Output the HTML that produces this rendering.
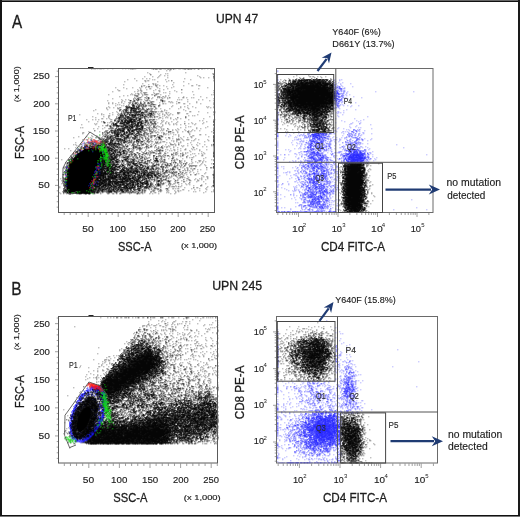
<!DOCTYPE html>
<html><head><meta charset="utf-8"><style>
html,body{margin:0;padding:0;background:#fff;overflow:hidden}
svg{display:block;will-change:transform}
text{font-family:"Liberation Sans", sans-serif}
.b{stroke:#222;stroke-width:0.3px}
.m{stroke:#222;stroke-width:0.15px}
</style></head><body>
<svg width="520" height="517" viewBox="0 0 520 517">
<rect x="0" y="0" width="520" height="1" fill="#666"/>
<rect x="0" y="1" width="520" height="1" fill="#111"/>
<rect x="0" y="0" width="2" height="517" fill="#151515"/>
<rect x="518" y="0" width="2" height="517" fill="#1a1a1a"/>
<rect x="0" y="515" width="520" height="1" fill="#111"/>
<rect x="0" y="516" width="520" height="1" fill="#777"/>
<text class="b" x="12.00" y="27.92" font-size="18.40" fill="#1a1a1a" textLength="10.16" lengthAdjust="spacingAndGlyphs">A</text>
<text class="b" x="11.30" y="294.66" font-size="18.40" fill="#1a1a1a" textLength="10.30" lengthAdjust="spacingAndGlyphs">B</text>
<text class="b" x="215.98" y="23.42" font-size="13.10" fill="#1a1a1a" textLength="42.20" lengthAdjust="spacingAndGlyphs">UPN 47</text>
<text class="b" x="212.14" y="290.08" font-size="13.10" fill="#1a1a1a" textLength="49.96" lengthAdjust="spacingAndGlyphs">UPN 245</text>
<path d="M64.20 212.5v2.5M70.20 212.5v2.5M76.20 212.5v2.5M82.20 212.5v2.5M88.20 212.5v4.5M94.20 212.5v2.5M100.20 212.5v2.5M106.20 212.5v2.5M112.20 212.5v2.5M118.20 212.5v4.5M124.20 212.5v2.5M130.20 212.5v2.5M136.20 212.5v2.5M142.20 212.5v2.5M148.20 212.5v4.5M154.20 212.5v2.5M160.20 212.5v2.5M166.20 212.5v2.5M172.20 212.5v2.5M178.20 212.5v4.5M184.20 212.5v2.5M190.20 212.5v2.5M196.20 212.5v2.5M202.20 212.5v2.5M208.20 212.5v4.5M58.5 207.16h-1.8M58.5 201.72h-1.8M58.5 196.28h-1.8M58.5 190.84h-1.8M58.5 185.40h-3.5M58.5 179.96h-1.8M58.5 174.52h-1.8M58.5 169.08h-1.8M58.5 163.64h-1.8M58.5 158.20h-3.5M58.5 152.76h-1.8M58.5 147.32h-1.8M58.5 141.88h-1.8M58.5 136.44h-1.8M58.5 131.00h-3.5M58.5 125.56h-1.8M58.5 120.12h-1.8M58.5 114.68h-1.8M58.5 109.24h-1.8M58.5 103.80h-3.5M58.5 98.36h-1.8M58.5 92.92h-1.8M58.5 87.48h-1.8M58.5 82.04h-1.8M58.5 76.60h-3.5M58.5 71.16h-1.8" stroke="#888" stroke-width="0.8" fill="none"/>
<path d="M64.32 463.5v2.5M70.44 463.5v2.5M76.56 463.5v2.5M82.68 463.5v2.5M88.80 463.5v4.5M94.92 463.5v2.5M101.04 463.5v2.5M107.16 463.5v2.5M113.28 463.5v2.5M119.40 463.5v4.5M125.52 463.5v2.5M131.64 463.5v2.5M137.76 463.5v2.5M143.88 463.5v2.5M150.00 463.5v4.5M156.12 463.5v2.5M162.24 463.5v2.5M168.36 463.5v2.5M174.48 463.5v2.5M180.60 463.5v4.5M186.72 463.5v2.5M192.84 463.5v2.5M198.96 463.5v2.5M205.08 463.5v2.5M211.20 463.5v4.5M217.32 463.5v2.5M58.5 458.39h-1.8M58.5 452.77h-1.8M58.5 447.16h-1.8M58.5 441.54h-1.8M58.5 435.93h-3.5M58.5 430.32h-1.8M58.5 424.70h-1.8M58.5 419.09h-1.8M58.5 413.47h-1.8M58.5 407.86h-3.5M58.5 402.25h-1.8M58.5 396.63h-1.8M58.5 391.02h-1.8M58.5 385.40h-1.8M58.5 379.79h-3.5M58.5 374.18h-1.8M58.5 368.56h-1.8M58.5 362.95h-1.8M58.5 357.33h-1.8M58.5 351.72h-3.5M58.5 346.11h-1.8M58.5 340.49h-1.8M58.5 334.88h-1.8M58.5 329.26h-1.8M58.5 323.65h-3.5M58.5 318.04h-1.8" stroke="#888" stroke-width="0.8" fill="none"/>
<path d="M277.85 212.5v2.5M276.5 210.52h-1.8M282.78 212.5v2.5M276.5 206.05h-1.8M286.61 212.5v2.5M276.5 202.58h-1.8M289.74 212.5v2.5M276.5 199.74h-1.8M292.38 212.5v2.5M276.5 197.35h-1.8M294.67 212.5v2.5M276.5 195.27h-1.8M296.69 212.5v2.5M276.5 193.44h-1.8M298.50 212.5v4.5M276.5 191.80h-3.5M310.39 212.5v2.5M276.5 181.02h-1.8M317.35 212.5v2.5M276.5 174.72h-1.8M322.28 212.5v2.5M276.5 170.25h-1.8M326.11 212.5v2.5M276.5 166.78h-1.8M329.24 212.5v2.5M276.5 163.94h-1.8M331.88 212.5v2.5M276.5 161.55h-1.8M334.17 212.5v2.5M276.5 159.47h-1.8M336.19 212.5v2.5M276.5 157.64h-1.8M338.00 212.5v4.5M276.5 156.00h-3.5M349.89 212.5v2.5M276.5 145.22h-1.8M356.85 212.5v2.5M276.5 138.92h-1.8M361.78 212.5v2.5M276.5 134.45h-1.8M365.61 212.5v2.5M276.5 130.98h-1.8M368.74 212.5v2.5M276.5 128.14h-1.8M371.38 212.5v2.5M276.5 125.75h-1.8M373.67 212.5v2.5M276.5 123.67h-1.8M375.69 212.5v2.5M276.5 121.84h-1.8M377.50 212.5v4.5M276.5 120.20h-3.5M389.39 212.5v2.5M276.5 109.42h-1.8M396.35 212.5v2.5M276.5 103.12h-1.8M401.28 212.5v2.5M276.5 98.65h-1.8M405.11 212.5v2.5M276.5 95.18h-1.8M408.24 212.5v2.5M276.5 92.34h-1.8M410.88 212.5v2.5M276.5 89.95h-1.8M413.17 212.5v2.5M276.5 87.87h-1.8M415.19 212.5v2.5M276.5 86.04h-1.8M417.00 212.5v4.5M276.5 84.40h-3.5M428.89 212.5v2.5M276.5 73.62h-1.8" stroke="#888" stroke-width="0.8" fill="none"/>
<path d="M278.17 463.5v2.5M276.5 461.19h-1.8M283.24 463.5v2.5M276.5 456.60h-1.8M287.18 463.5v2.5M276.5 453.05h-1.8M290.39 463.5v2.5M276.5 450.14h-1.8M293.11 463.5v2.5M276.5 447.68h-1.8M295.47 463.5v2.5M276.5 445.56h-1.8M297.54 463.5v2.5M276.5 443.68h-1.8M299.40 463.5v4.5M276.5 442.00h-3.5M311.62 463.5v2.5M276.5 430.95h-1.8M318.77 463.5v2.5M276.5 424.49h-1.8M323.84 463.5v2.5M276.5 419.90h-1.8M327.78 463.5v2.5M276.5 416.35h-1.8M330.99 463.5v2.5M276.5 413.44h-1.8M333.71 463.5v2.5M276.5 410.98h-1.8M336.07 463.5v2.5M276.5 408.86h-1.8M338.14 463.5v2.5M276.5 406.98h-1.8M340.00 463.5v4.5M276.5 405.30h-3.5M352.22 463.5v2.5M276.5 394.25h-1.8M359.37 463.5v2.5M276.5 387.79h-1.8M364.44 463.5v2.5M276.5 383.20h-1.8M368.38 463.5v2.5M276.5 379.65h-1.8M371.59 463.5v2.5M276.5 376.74h-1.8M374.31 463.5v2.5M276.5 374.28h-1.8M376.67 463.5v2.5M276.5 372.16h-1.8M378.74 463.5v2.5M276.5 370.28h-1.8M380.60 463.5v4.5M276.5 368.60h-3.5M392.82 463.5v2.5M276.5 357.55h-1.8M399.97 463.5v2.5M276.5 351.09h-1.8M405.04 463.5v2.5M276.5 346.50h-1.8M408.98 463.5v2.5M276.5 342.95h-1.8M412.19 463.5v2.5M276.5 340.04h-1.8M414.91 463.5v2.5M276.5 337.58h-1.8M417.27 463.5v2.5M276.5 335.46h-1.8M419.34 463.5v2.5M276.5 333.58h-1.8M421.20 463.5v4.5M276.5 331.90h-3.5M433.42 463.5v2.5M276.5 320.85h-1.8" stroke="#888" stroke-width="0.8" fill="none"/>
<g transform="translate(0.3 0.8)">
<path d="M94 68h2m1 0h1m3 0h1m1 0h1m8 0h1m12 0h1m9 0h1m43 0h1m14 0h1m2 0h1M185 72h1M165 73h1m1 0h1m44 0h1M150 74h1m9 0h1m52 0h1M157 77h1m50 0h1M134 78h1m11 0h1m66 0h1M165 79h1M144 80h1m26 0h1M157 81h1m25 0h1M152 83h1m2 0h1m32 0h1M153 84h1m3 0h1m38 0h1M141 85h1m17 0h1m23 0h1m14 0h1M141 86h1m14 0h1M145 87h1M140 88h1m9 0h1M181 89h1M138 90h1m2 0h1m11 0h1m59 0h1M134 91h1m2 0h1m21 0h1m32 0h1M146 92h1m6 0h1m11 0h1M108 94h1m33 0h1m9 0h1m40 0h1m19 0h1M142 95h1M169 97h1m23 0h1M151 98h1m15 0h1m45 0h1M121 99h1m6 0h1M107 100h1M164 101h1m3 0h1m7 0h1M118 102h1m2 0h1m48 0h1m7 0h1m34 0h1M112 103h1m2 0h1m46 0h2m1 0h1m10 0h1m7 0h1m15 0h1M155 104h1M115 105h1m5 0h1m1 0h1m48 0h1M108 106h1m49 0h1m47 0h1m6 0h1M106 107h1m2 0h1m70 0h1m26 0h1m5 0h1M169 108h1m8 0h1m9 0h1M164 109h1M161 110h1m4 0h1m18 0h1M116 111h1m72 0h2m23 0h1M112 112h1m64 0h1M109 113h1m56 0h1m3 0h1M162 114h1m50 0h1M159 115h1m34 0h1M108 116h1m100 0h1M160 117h1m4 0h1M102 118h1m67 0h1m9 0h1m22 0h1M95 119h1m14 0h1m45 0h1m16 0h1m2 0h1m11 0h1M163 120h1M97 121h1m68 0h1m10 0h1m28 0h1M107 122h1m49 0h1m3 0h1m14 0h1m14 0h1m11 0h1M96 123h1m71 0h1m4 0h1m14 0h1m3 0h1M81 124h1m80 0h1m6 0h1m3 0h1m20 0h1M213 125h1M158 126h1M82 127h1m102 0h1m19 0h1M93 128h1m73 0h1m32 0h1M161 129h1m6 0h1m6 0h1m8 0h1M94 130h1m67 0h1m9 0h1m3 0h1m14 0h1M88 131h1m88 0h1m33 0h1M177 132h1M168 134h1m6 0h1m23 0h2M91 135h1m7 0h1M78 136h1m13 0h1m115 0h1M169 137h1m17 0h1M181 138h1M91 139h1m2 0h1m56 0h1m46 0h1m8 0h1M91 140h1m2 0h1m76 0h1m21 0h1M152 141h1m9 0h3M75 142h1m11 0h1m2 0h1m68 0h1m30 0h1m6 0h1M174 143h1m3 0h1M84 144h1m68 0h1m37 0h1M76 145h1m91 0h1m12 0h1m1 0h1M154 146h1m12 0h1m1 0h1m12 0h1M85 147h1m91 0h1m15 0h1m19 0h1M64 148h1m3 0h1m16 0h1m84 0h1m14 0h1m27 0h1M167 149h1m6 0h1m19 0h1m18 0h1M174 150h1m5 0h1M190 151h1M73 152h1m3 0h1m95 0h1m13 0h1m15 0h1M73 153h1m118 0h1m5 0h1m2 0h1M74 154h1m101 0h1M178 155h1m8 0h1M169 156h1m16 0h1M70 157h1m78 0h1M176 158h1M61 159h1m129 0h1M181 160h1m18 0h1m2 0h1M70 161h1m131 0h1M70 162h1m115 0h1m5 0h1M189 163h1m11 0h1M66 164h1m2 0h1m134 0h1M196 165h1m2 0h1M71 167h1m110 0h1m4 0h1m18 0h1M64 168h1m119 0h1m5 0h1m3 0h1M192 169h1m4 0h1M65 170h1m147 0h1M67 172h1M196 173h1m1 0h1m5 0h1M186 174h1m7 0h2M67 175h1m133 0h2M187 176h1m15 0h1m3 0h1M65 177h1m111 0h1m23 0h1M60 178h1m112 0h1m4 0h1m20 0h1m7 0h1M183 179h1M181 180h1m8 0h1M183 181h2m11 0h1M189 182h1M64 183h1m109 0h1m6 0h1m3 0h1M186 184h1m2 0h1m11 0h1M200 185h2M169 186h1m8 0h1m1 0h1M59 187h1m124 0h1m21 0h1M205 188h1M183 189h1m10 0h1m11 0h1m6 0h1M178 190h1m9 0h1M167 191h1m37 0h1m5 0h1m1 0h1M149 193h1m8 0h1" stroke="#000" stroke-width="1" fill="none" stroke-opacity="0.5"/>
<path d="M91 68h1m1 0h1m5 0h2m6 0h1m14 0h1m7 0h2m2 0h1m28 0h1m14 0h1m1 0h1m1 0h1m18 0h1m5 0h1m2 0h2M166 70h1M158 71h1M213 73h1M213 74h1M197 75h1M200 77h1M142 78h1m6 0h1M127 79h1m26 0h1M145 80h1m2 0h1m19 0h1m2 0h1M124 81h1m41 0h1M173 82h1M123 84h1m24 0h1m23 0h1M143 85h2m18 0h1m27 0h1m7 0h1M151 86h1M123 87h1m33 0h1m49 0h1M126 88h1M137 89h1m8 0h1m16 0h1m17 0h1M118 90h1m40 0h1m14 0h1M169 91h1M140 92h1m22 0h1M135 93h1m5 0h1m15 0h2M132 94h1m1 0h1m16 0h1M119 96h1m63 0h1M144 97h1m7 0h1m11 0h1m17 0h2m7 0h1M156 99h1m22 0h1m7 0h1m10 0h1M121 101h1m2 0h1m44 0h1m17 0h1m8 0h1M159 102h1m12 0h1m23 0h1M108 103h1m74 0h1m29 0h1M171 106h1m8 0h1m3 0h1m7 0h1M113 107h1m6 0h1m89 0h1M156 108h1M107 109h1M93 110h1M161 111h1M165 112h2m10 0h3M97 113h1m59 0h1m1 0h1m2 0h1m14 0h1m8 0h1M103 114h1m63 0h1m1 0h1m27 0h1M164 115h1m27 0h1M92 116h1m10 0h1m58 0h1m22 0h1M108 117h1m58 0h1m2 0h1m6 0h1m7 0h1M101 118h1m4 0h1m2 0h1m65 0h1M98 119h1m12 0h1m101 0h2M202 120h1M88 121h1m73 0h1m21 0h1M165 122h1m2 0h1M94 123h1m65 0h1m4 0h1m9 0h1m8 0h1m17 0h1M180 124h1M105 125h1m51 0h1m4 0h1M159 126h1m1 0h1m28 0h1m16 0h1M80 127h1m79 0h1m19 0h1m15 0h1M97 128h1m4 0h1m74 0h1M158 129h1m19 0h1m13 0h1M94 130h1m65 0h1m5 0h1m21 0h1M99 131h1m57 0h1m24 0h1m4 0h1M83 132h1m74 0h1m14 0h1M82 133h1m83 0h1m3 0h1m18 0h1M165 134h1m7 0h1m15 0h1M96 135h1m96 0h1M190 136h1M73 137h1m16 0h1m5 0h1m68 0h1m2 0h1m22 0h1M172 138h1M82 139h1m4 0h1m91 0h1m2 0h1m5 0h1M173 140h1m2 0h1m6 0h1m24 0h1M160 141h1m15 0h1m3 0h1m23 0h1M178 142h1M154 143h1m32 0h1m11 0h1M173 144h1m1 0h1m2 0h1m17 0h1M84 145h1m1 0h1m2 0h1m72 0h1m12 0h1m11 0h1m23 0h1M164 146h1m1 0h1m6 0h1m18 0h1M83 147h1m109 0h1M180 148h1M80 149h1m64 0h1m19 0h1m11 0h1m6 0h2M70 150h1m4 0h1m4 0h1m88 0h1m1 0h1m17 0h1m23 0h1M201 151h1M75 152h1m88 0h1m2 0h1m14 0h1M180 153h1m4 0h1m8 0h1m9 0h1M190 154h1m11 0h1M70 155h1m109 0h1m20 0h1M186 156h1M74 157h1m116 0h1m13 0h1M168 158h1m13 0h1m20 0h1M71 159h1m104 0h2m33 0h1M198 160h2M191 161h1M186 162h1m10 0h1m4 0h1M191 163h1M188 164h1m11 0h1M179 165h1M186 167h1m23 0h1M194 168h1M200 169h1m5 0h1M68 170h1m120 0h1M190 171h1M186 172h1m18 0h1m7 0h1M68 173h1M63 174h1m1 0h1m124 0h1m4 0h1M68 175h1M67 177h1m116 0h1M195 178h1M174 179h1m2 0h1m5 0h1m13 0h1m3 0h1m3 0h1M61 180h1M174 181h1m8 0h1m19 0h1M189 182h1M61 183h1m126 0h1m16 0h1M172 184h1m5 0h1M175 185h1m5 0h1m11 0h1m6 0h1M168 187h1m24 0h1m2 0h1M172 188h1m4 0h1m21 0h1M168 190h1m8 0h1m2 0h1m32 0h1M193 191h1M59 192h1m90 0h1m3 0h2m12 0h1m6 0h1m27 0h1M60 193h1m91 0h1m17 0h1m3 0h1" stroke="#000" stroke-width="1" fill="none" stroke-opacity="0.5"/>
<path d="M91 68h1m36 0h1m1 0h1m2 0h1m17 0h2m11 0h1m10 0h1m17 0h2m6 0h2m1 0h1m7 0h1M169 70h1M147 72h1M149 73h1M150 74h1M159 75h1m4 0h1m2 0h1M144 76h1m7 0h1m5 0h1m40 0h1M167 77h1m35 0h1m9 0h1M184 78h1M152 79h1m37 0h1M136 80h1m10 0h1m65 0h1M145 81h1M142 83h1m10 0h1M192 85h1M141 86h1m4 0h1m19 0h1m6 0h1M115 87h1m16 0h1m6 0h1m31 0h1M149 88h1m9 0h1m7 0h1m30 0h1M117 89h1m22 0h1m14 0h1M119 90h1m38 0h1M112 91h1m28 0h1m34 0h1M181 92h1m31 0h1M131 93h1m37 0h1M130 94h1m16 0h1m12 0h1m50 0h1M123 95h1m3 0h1m37 0h1m2 0h1M141 96h1m20 0h2m1 0h1m34 0h1M167 97h1m1 0h1m8 0h1m7 0h1m19 0h1M112 98h1M125 99h1m15 0h1m2 0h1m32 0h1m3 0h1m20 0h1M122 100h1m41 0h1m44 0h1m3 0h1M171 101h1M108 102h1m3 0h1m65 0h2M123 103h1m65 0h1M117 104h1m1 0h1m93 0h1M187 105h1M208 106h1M117 107h1m69 0h1m7 0h1M106 108h1m10 0h1m42 0h1M95 109h1m87 0h1M164 110h1M158 111h1m1 0h1m1 0h1m35 0h1m14 0h1M117 112h1m50 0h1m38 0h1m5 0h2M101 113h1m76 0h1m8 0h1M79 114h1m21 0h1m10 0h1m45 0h1m5 0h1m7 0h1M108 115h2m58 0h1m19 0h1M166 116h1m18 0h1M95 117h1m81 0h1m7 0h1M158 118h1m3 0h1M86 119h1m5 0h1M199 120h1M101 121h1m69 0h1M109 122h1M184 123h1m10 0h1M95 124h1m80 0h1M102 125h1m82 0h1M98 126h1m89 0h1M104 127h1m108 0h1M161 128h1m1 0h1m3 0h1m28 0h1M163 129h1m8 0h1M166 130h1m18 0h1m8 0h1m4 0h1M187 131h1m2 0h1M82 132h1m72 0h2m4 0h1m10 0h1M178 134h1m26 0h1M178 135h1m13 0h1M86 136h1m85 0h1m5 0h1m4 0h1m7 0h1M168 137h1m11 0h1M169 138h1m6 0h1m18 0h1M154 139h1m11 0h1m19 0h2m6 0h1M191 140h1M88 141h1m84 0h1M160 142h1m5 0h1m2 0h1m10 0h1M85 143h1m65 0h1m6 0h1M73 144h1m1 0h1m4 0h1m84 0h1m12 0h1m25 0h1M197 145h1M202 146h1m3 0h1M75 147h1m8 0h1m2 0h1m66 0h1m11 0h1m6 0h1M191 148h1m4 0h1M173 149h1m18 0h1m6 0h1m6 0h1M199 150h1M77 151h1m63 0h1m23 0h1m11 0h1M185 152h1M171 153h1m5 0h1m2 0h1M74 155h1m120 0h1m6 0h1M71 156h1m5 0h1m102 0h1m12 0h1M186 157h1m2 0h1m2 0h1M191 159h1M184 160h1M184 161h1m10 0h1m3 0h1m5 0h1M66 163h1m144 0h1M205 165h1M64 166h2m1 0h1M63 167h1m116 0h1m25 0h1m3 0h1M191 168h1M184 169h1M182 170h2m8 0h1M197 171h1m15 0h1M70 172h1m118 0h1m3 0h1M64 173h1M190 174h1M62 176h1m143 0h1M62 177h1m107 0h1m17 0h1m18 0h1M63 178h1m122 0h1m14 0h1M194 179h1M63 180h1m122 0h1m10 0h2M165 182h1M173 183h1M166 185h1M59 186h1m111 0h1m2 0h1m1 0h1m1 0h1m28 0h1m3 0h1M193 187h1m3 0h1M165 188h1m7 0h1m1 0h1m2 0h1m12 0h1M182 189h1M161 190h1m12 0h1m24 0h1M175 191h1m2 0h1m16 0h1M166 192h1M63 193h1m78 0h1" stroke="#000" stroke-width="1" fill="none" stroke-opacity="0.5"/>
<path d="M132 68h1m20 0h1m1 0h2m2 0h2m4 0h1m1 0h3m1 0h1m1 0h1m10 0h2m1 0h3m8 0h1M213 76h1M148 86h2M140 90h1M144 92h1M137 93h1m18 0h1M138 94h1m6 0h2m9 0h1M136 96h1m20 0h1M135 98h1m1 0h1m10 0h1m13 0h1M133 99h1m4 0h1m21 0h1M130 100h1m6 0h1m11 0h1m12 0h1M162 101h1M128 102h1m3 0h1m7 0h1m3 0h1m2 0h2m1 0h2M129 103h1m2 0h1m2 0h1m4 0h1m6 0h1m3 0h1M131 104h1m5 0h1m1 0h1m1 0h1m1 0h1m1 0h1m7 0h1M126 105h1m16 0h1m1 0h1m13 0h1M125 106h1m2 0h2m9 0h1m1 0h1m1 0h1m6 0h2m2 0h1M142 108h1m5 0h1m2 0h1M119 109h1m3 0h1m16 0h2m5 0h1m1 0h1m1 0h1M122 110h1m21 0h3M121 111h1m24 0h1m5 0h1m1 0h2M123 112h2m28 0h1M118 113h1m5 0h1m22 0h1m5 0h1M144 114h1m9 0h1M147 115h1m4 0h1M149 116h3m2 0h1m1 0h1M142 117h1m1 0h1m2 0h1m4 0h1M116 118h2m27 0h1M145 119h1m3 0h1m3 0h2M114 120h2m26 0h1M103 121h1m7 0h1m38 0h1m62 0h1M103 122h2m7 0h1m31 0h2m1 0h2m1 0h2m2 0h1m58 0h1M143 123h1m7 0h1m3 0h1M144 124h1m4 0h1M109 125h2M110 126h1m38 0h1m3 0h2m1 0h1M110 127h1m1 0h1m34 0h1m6 0h2M145 128h1m3 0h1M111 129h1m37 0h1m3 0h1M105 130h1m1 0h1m2 0h1m38 0h1M106 131h1m42 0h4m15 0h1m1 0h1m17 0h1M102 132h1m38 0h1m2 0h1m1 0h1m5 0h1m60 0h1M105 133h1m38 0h1m2 0h2m1 0h1m13 0h1m48 0h1M102 134h1m1 0h1m1 0h1m24 0h1m8 0h1m16 0h1M103 135h1m2 0h1m3 0h1m22 0h1m7 0h1m8 0h2m8 0h2M102 136h1m2 0h1m38 0h1m3 0h1m2 0h1m5 0h1m1 0h1m1 0h1m51 0h1M121 137h2m7 0h1m1 0h1m6 0h1m11 0h1m4 0h1m1 0h2m53 0h1M99 138h1m2 0h1m1 0h1m24 0h1m7 0h1m1 0h1m5 0h1m9 0h1m3 0h1m53 0h1M102 139h2m29 0h2m7 0h1m3 0h1m1 0h1m64 0h1M98 140h1m27 0h1m2 0h1m1 0h1m8 0h1M126 141h2m5 0h1m7 0h1m6 0h2m1 0h1m5 0h1M91 142h1m29 0h1m4 0h1m3 0h2m1 0h1M91 143h2m6 0h1m21 0h1m15 0h1m7 0h1m10 0h1M92 144h1m32 0h1m6 0h1m1 0h1m6 0h2m4 0h1m2 0h1m20 0h1m39 0h1m1 0h1M123 145h1m1 0h1m1 0h1m4 0h1m6 0h1m6 0h1m1 0h1m6 0h1m57 0h1M123 146h2m1 0h2m5 0h1m13 0h1m2 0h1m7 0h1m2 0h1M120 147h1m1 0h1m9 0h2m1 0h1m2 0h2m20 0h1M120 148h1m8 0h1m3 0h1m4 0h4m16 0h1M120 149h1m1 0h1m4 0h1m28 0h1M82 150h1m42 0h1m2 0h1m10 0h1m11 0h1m3 0h1m1 0h3M82 151h1m3 0h1m38 0h2M80 152h1m4 0h1m41 0h1m3 0h1m5 0h1m8 0h1m1 0h1m1 0h1m1 0h2m6 0h1m52 0h1M84 153h1m40 0h1m8 0h1m3 0h1m5 0h1m3 0h1m10 0h2m12 0h1m8 0h1m30 0h1M82 154h1m42 0h2m1 0h2m1 0h2m1 0h2m5 0h1m5 0h1m23 0h2m40 0h1M75 155h1m5 0h2m39 0h1m2 0h1m5 0h1m17 0h1m3 0h2m7 0h1m1 0h2m7 0h1m8 0h1M80 156h1m40 0h1m1 0h1m4 0h1m3 0h1m8 0h1m14 0h1m15 0h1m40 0h1M76 157h1m3 0h1m41 0h1m10 0h1m2 0h2m26 0h1M76 158h1m5 0h1m35 0h1m11 0h1m10 0h1m2 0h1m1 0h1m13 0h1m10 0h2M81 159h1m39 0h1m6 0h1m24 0h1m5 0h1m1 0h1m2 0h1M76 160h1m3 0h1m38 0h1m15 0h1m4 0h1m1 0h1m4 0h1m1 0h1m21 0h1m2 0h1m4 0h1M126 161h1m11 0h1m5 0h2m1 0h1m10 0h1m4 0h1m15 0h1M72 162h1m3 0h1m42 0h1m1 0h1m20 0h1m1 0h1m9 0h1m10 0h1m5 0h1m3 0h1m5 0h1M126 163h1m16 0h1m2 0h2m4 0h2m8 0h1m4 0h1m2 0h1m6 0h1m2 0h1m4 0h1m27 0h1M127 164h1m19 0h1m8 0h1m1 0h1m2 0h1m2 0h1m2 0h1m9 0h1M72 165h1m54 0h1m15 0h2m10 0h1m11 0h1m1 0h1m1 0h1m9 0h1m2 0h1m6 0h1m3 0h1M145 166h1m14 0h2m12 0h1m8 0h1m29 0h1M167 167h1m4 0h1m4 0h1m35 0h1M72 168h2m82 0h1m5 0h1m7 0h1m1 0h1m4 0h1m9 0h1m5 0h1m19 0h1M71 169h1m1 0h2m85 0h1m2 0h1m4 0h1m1 0h1m1 0h2m5 0h1M71 170h1m1 0h1m83 0h1m8 0h1m18 0h1m1 0h1M70 171h1m84 0h2m16 0h1M163 172h2m1 0h1m2 0h1m4 0h1m7 0h1M160 173h1m1 0h3m6 0h2m5 0h1m5 0h1m28 0h1M164 174h1m11 0h1m36 0h1M162 175h1m2 0h1m5 0h1m1 0h1m39 0h1M165 176h2m2 0h1m1 0h1m8 0h2M168 177h1m13 0h1m30 0h1M154 178h1m5 0h1m5 0h1M68 179h1m83 0h3m5 0h1m2 0h1m25 0h1M167 180h2m8 0h1M150 181h1m5 0h1m4 0h1m6 0h2M67 182h1m92 0h1m14 0h1m37 0h1M152 183h1m3 0h1m6 0h1m4 0h2M155 184h1m12 0h1M65 185h1m1 0h1m85 0h1m59 0h1M66 186h2m84 0h1m1 0h1m18 0h1M148 187h1M63 188h1m84 0h1m5 0h2m2 0h1m7 0h1M63 189h1m1 0h2m75 0h1m6 0h1m1 0h1m1 0h1m4 0h1m1 0h1M64 190h1m69 0h1m7 0h1m1 0h1m7 0h1m1 0h1m5 0h1M65 191h1m8 0h1m28 0h1m13 0h1m9 0h1m1 0h1m2 0h1m2 0h1m1 0h1m3 0h1m2 0h1m6 0h1m1 0h1M70 192h1m29 0h1m5 0h1m16 0h2m10 0h1m1 0h2m3 0h1M69 193h1m7 0h1m2 0h1m2 0h1m28 0h1m3 0h1m22 0h1" stroke="#000" stroke-width="1" fill="none" stroke-opacity="0.65"/>
<path d="M153 68h1m1 0h3m1 0h3m6 0h1m1 0h1m2 0h1m9 0h1m4 0h1m1 0h2m6 0h1M170 69h1M213 76h1M155 84h1M155 85h1M148 86h1M145 92h1M138 93h1m15 0h1M144 94h1m10 0h1M154 95h1M146 96h1m12 0h1M134 97h1m3 0h1m9 0h1m8 0h1M137 98h2m7 0h1M136 99h1m1 0h1m22 0h1M130 100h1m2 0h2m12 0h1m14 0h1M140 101h1m10 0h2M129 102h2m4 0h1m1 0h1m2 0h1m3 0h1m3 0h1M141 103h1m2 0h1m3 0h2M128 104h1m8 0h1m1 0h1m2 0h1m7 0h2m7 0h1M128 105h1m9 0h2m3 0h1m2 0h1m1 0h1m1 0h1m7 0h1M125 106h2m15 0h1m1 0h1M142 107h1m12 0h1M118 108h1m6 0h1m14 0h1m1 0h2m4 0h1m3 0h1M120 109h1m3 0h1m17 0h2m2 0h2M119 110h1m31 0h1M123 111h1m25 0h2m1 0h2M145 112h2m2 0h1M121 113h1m1 0h2M117 114h1m1 0h1m24 0h2m2 0h1m3 0h1M145 115h1m2 0h1M146 116h1m7 0h1m2 0h1M116 117h1m42 0h1M115 118h1m28 0h1M114 119h1m30 0h1m6 0h2M114 120h1m27 0h1m3 0h1m5 0h1m8 0h1M116 121h1m30 0h1m2 0h1m62 0h1M104 122h1m40 0h1m4 0h1M111 123h1m35 0h2m3 0h4M107 124h1m3 0h1m33 0h1m5 0h1m1 0h1m59 0h1M106 125h2m37 0h2m1 0h1m1 0h1m3 0h1M110 126h1m42 0h1M111 127h1m34 0h1m1 0h2m1 0h1M108 128h1m1 0h1m2 0h1m1 0h1m28 0h1m7 0h1m3 0h1M146 129h1m2 0h1m1 0h1M106 130h1m3 0h1m31 0h3m2 0h1m2 0h1m4 0h1m57 0h1M105 131h1m3 0h1m33 0h1m10 0h1m13 0h1M102 132h1m3 0h4m34 0h2m22 0h1m44 0h1M102 133h1m4 0h1m35 0h1m6 0h1M110 134h1m30 0h1m1 0h1m2 0h1M105 135h1m5 0h1m31 0h1m8 0h1m1 0h1m4 0h1m53 0h1M104 136h1m25 0h2m26 0h1m2 0h2m50 0h1M99 137h1m1 0h1m27 0h1m2 0h1m4 0h1m3 0h2m15 0h2M98 138h2m1 0h1m26 0h1m16 0h1m2 0h1m10 0h1m18 0h1M100 139h1m2 0h1m22 0h1m4 0h1m7 0h1m8 0h1m11 0h1m17 0h1m34 0h1M131 140h1m7 0h1m3 0h1m3 0h1m2 0h1m62 0h1M100 141h1m30 0h1m2 0h1m6 0h2m4 0h1m7 0h1m57 0h1M92 142h1m7 0h1m27 0h2m3 0h1m2 0h1m1 0h1m5 0h1m3 0h1M96 143h1m1 0h1m28 0h1m9 0h1m3 0h1m71 0h1M93 144h1m4 0h1m22 0h1m10 0h1m9 0h2m26 0h1m42 0h1M127 145h1m5 0h1m3 0h3m1 0h1m13 0h1M89 146h1m3 0h1m28 0h1m3 0h1m6 0h1m1 0h1m10 0h1m3 0h1m10 0h1m51 0h1M89 147h1m30 0h1m16 0h1m1 0h1m6 0h1m1 0h1m9 0h1M91 148h1m30 0h1m2 0h2m1 0h2m27 0h1m4 0h1M88 149h1m35 0h1m3 0h1m3 0h1m7 0h1m15 0h1m2 0h2M85 150h1m42 0h1m4 0h1m14 0h1m9 0h1m1 0h1m1 0h1M81 151h1m6 0h1m38 0h1m1 0h3m17 0h1m2 0h1m6 0h1m53 0h1M81 152h1m1 0h3m1 0h1m41 0h1m12 0h2m9 0h2m4 0h1M81 153h1m2 0h1m41 0h1m3 0h2m7 0h1m5 0h2m3 0h1m5 0h1m1 0h1m16 0h1m37 0h1M79 154h1m3 0h1m45 0h1m1 0h1m3 0h1m6 0h1m6 0h1m21 0h1m11 0h1M84 155h1m38 0h2m3 0h1m5 0h1m4 0h1m13 0h1m6 0h1m6 0h1m14 0h1m30 0h1M83 156h1m35 0h1m2 0h1m5 0h1m1 0h1m8 0h1m1 0h1m3 0h1m7 0h1m2 0h1M83 157h1m35 0h1m1 0h1m10 0h1m2 0h1m3 0h1m1 0h2m1 0h1m10 0h1M129 158h1m3 0h1m2 0h2m2 0h1m3 0h1m8 0h1m18 0h1M75 159h2m57 0h1m4 0h1m2 0h1m1 0h1m5 0h1m23 0h1m38 0h1M138 160h1m2 0h2m4 0h3m10 0h1m1 0h1m8 0h1m1 0h1m5 0h1M75 161h1m1 0h1m46 0h1m12 0h2m2 0h1m7 0h1m24 0h1M123 162h1m17 0h1m2 0h1m2 0h1m3 0h1m11 0h1m9 0h1m1 0h1m3 0h1M72 163h1m73 0h1m36 0h1m1 0h1m27 0h1M73 164h2m2 0h1m42 0h1m4 0h1m26 0h2m11 0h1m1 0h1m3 0h1m2 0h1m6 0h1m3 0h1m27 0h1M147 165h1m3 0h1m13 0h2m1 0h2m4 0h1m1 0h1m7 0h1m4 0h2m1 0h2M75 166h2m50 0h1m17 0h1m2 0h1m1 0h1m5 0h1m3 0h2m1 0h1m2 0h1m6 0h1m17 0h1m21 0h1M74 167h1m69 0h1m10 0h2m1 0h1m3 0h2m1 0h1m7 0h1m1 0h1m37 0h1M72 168h1m1 0h1m80 0h2m2 0h1m2 0h1m10 0h1M155 169h1m6 0h1m3 0h1m4 0h2m1 0h1m3 0h1M70 170h1m78 0h1m7 0h1m4 0h1m3 0h2M160 171h1m1 0h1m2 0h1m3 0h1m1 0h1m3 0h1m4 0h1M158 172h1m6 0h1m1 0h1m3 0h2m1 0h1m5 0h1m1 0h1M159 173h1m18 0h1M71 174h1m88 0h1m7 0h1m5 0h1M160 175h1m2 0h1m11 0h1m2 0h1m4 0h1M160 176h1m1 0h1m1 0h1m11 0h1m5 0h1M180 177h1m32 0h1M67 178h1m91 0h3m3 0h1m47 0h1M149 179h1m1 0h1m2 0h1m1 0h1m4 0h1m1 0h1m1 0h1M154 180h1m1 0h1m4 0h1m6 0h1m6 0h1m13 0h1m23 0h1M153 181h1m59 0h1M68 182h1m81 0h2m4 0h1m3 0h1m16 0h2m34 0h1M161 183h2M64 184h1m1 0h1m84 0h1m61 0h1M63 185h1m1 0h1m85 0h1m4 0h1m3 0h1m52 0h1M67 186h1m92 0h1m11 0h1M64 187h1m3 0h1m85 0h2M67 188h1m2 0h1m73 0h1m1 0h1m1 0h1m7 0h2M66 189h1m2 0h2m64 0h1m6 0h1m1 0h1m12 0h1m9 0h1M65 190h3m1 0h1m74 0h2m7 0h1m12 0h1M62 191h2m1 0h1m5 0h1m46 0h1m13 0h2m2 0h1m5 0h1m15 0h1M69 192h1m4 0h2m26 0h1m4 0h1m3 0h1m4 0h1m3 0h1m4 0h1m1 0h3m1 0h1m6 0h1m2 0h1m2 0h1M80 193h1m3 0h2m3 0h1m10 0h1m7 0h1m10 0h2m8 0h1m6 0h2" stroke="#000" stroke-width="1" fill="none" stroke-opacity="0.65"/>
<path d="M132 68h1m20 0h1m1 0h1m11 0h1m5 0h1m10 0h2m1 0h2m1 0h2m6 0h1M156 85h1M143 92h1M144 93h1M134 95h4m16 0h1M137 96h1m20 0h1M139 97h2m4 0h1m1 0h2m10 0h1m1 0h1M133 98h1m14 0h1M136 99h1m1 0h1m1 0h1m6 0h1M129 100h2m3 0h1m2 0h1m7 0h2m13 0h3M132 101h3m8 0h1m6 0h1m2 0h1m8 0h1M135 102h2M132 103h1m1 0h3m1 0h1m1 0h1m2 0h1m8 0h1M142 104h1m9 0h3M136 105h1m1 0h1m1 0h2m3 0h1m3 0h1m8 0h1M126 106h1m2 0h1m15 0h1m7 0h2M119 107h1m22 0h1M146 108h1m3 0h1m4 0h1M120 109h1m3 0h1m3 0h1m15 0h1m2 0h1m6 0h1M119 110h1m3 0h1m21 0h1m4 0h1M123 111h1m4 0h1m13 0h1m1 0h4m8 0h1M121 112h1m22 0h1m3 0h1m6 0h1M120 113h2m26 0h1m4 0h1M146 114h3M118 115h1m26 0h1m3 0h1m3 0h1M116 116h1m28 0h2M142 117h1m1 0h1m3 0h1m1 0h1m3 0h1M144 118h1M115 119h1m31 0h1m1 0h3M114 120h1m29 0h1m1 0h2m1 0h1m63 0h1M103 121h1m6 0h1m32 0h1m7 0h1m1 0h3M104 122h1m8 0h1m29 0h1m1 0h1m8 0h1M112 123h1m39 0h1M144 124h1m2 0h1m7 0h1m57 0h1M112 125h1m30 0h1m9 0h1M109 126h2m2 0h1M153 127h1M109 128h1m1 0h2m2 0h1m28 0h1m3 0h1m64 0h1M114 129h1m31 0h1m66 0h1M145 130h1m7 0h1m59 0h1M104 131h1m4 0h1m34 0h1m24 0h2M104 132h1m2 0h1m32 0h1m10 0h1m11 0h1m24 0h1M107 133h1m35 0h1m2 0h1m16 0h1M105 134h1m3 0h1m21 0h1m8 0h2m2 0h1m2 0h1m9 0h1m5 0h1M107 135h2m2 0h2m26 0h1m2 0h1m1 0h1m3 0h1m4 0h3m57 0h1M97 136h1m6 0h2m33 0h2m4 0h1m4 0h1m3 0h1M98 137h1m33 0h1m8 0h1m3 0h1m1 0h1m2 0h1m7 0h2m53 0h1M103 138h1m28 0h1m9 0h1m4 0h1m12 0h1M99 139h2m28 0h1m9 0h1m16 0h1m1 0h1m2 0h1m14 0h2M115 140h1m11 0h3m14 0h1m2 0h1m65 0h1M101 141h1m12 0h2m13 0h2m3 0h1m5 0h3m3 0h1m66 0h1M128 142h1m11 0h1m14 0h3M100 143h1m20 0h1m10 0h2m6 0h1m2 0h1m1 0h1m24 0h1M93 144h1m4 0h1m23 0h1m2 0h1m3 0h1m3 0h1m1 0h1m1 0h1m8 0h1m25 0h1m40 0h1M90 145h1m4 0h2m24 0h2m8 0h1m1 0h1m2 0h1m14 0h1M91 146h1m3 0h1m27 0h1m2 0h1m7 0h3m8 0h2m4 0h1M121 147h1m2 0h1m8 0h1m1 0h2m3 0h1m1 0h1m1 0h1m3 0h1m7 0h1m4 0h2M89 148h1m31 0h1m2 0h1m6 0h1m1 0h1m3 0h1m1 0h1m6 0h1M120 149h1m6 0h1m8 0h1m2 0h1M120 150h1m4 0h1m5 0h1m13 0h1m8 0h1m4 0h1m1 0h2M86 151h1m43 0h1m1 0h1m11 0h1m5 0h1m5 0h1M87 152h1m38 0h1m5 0h1m3 0h2m8 0h1m4 0h1m23 0h2m36 0h1M86 153h1m39 0h1m6 0h2m4 0h1m3 0h1m1 0h1m9 0h1m2 0h1m5 0h2M79 154h3m53 0h1m2 0h1m3 0h1m20 0h1m11 0h1m6 0h1M75 155h1m8 0h1m44 0h1m4 0h1m1 0h1m2 0h1m4 0h1m8 0h1m4 0h2m7 0h2m44 0h1M80 156h1m47 0h1m4 0h1m1 0h2m2 0h1m2 0h1m13 0h1m1 0h1m1 0h2m1 0h1m49 0h1M80 157h2m46 0h1m8 0h1m4 0h1m3 0h1m1 0h1m4 0h1m7 0h1m10 0h2M79 158h1m2 0h1m48 0h1m2 0h1m5 0h1m6 0h1m9 0h1m3 0h1M76 159h1m4 0h1m36 0h1m9 0h1m1 0h2m2 0h1m3 0h1m6 0h1m4 0h1m12 0h2M77 160h1m41 0h1m10 0h1m5 0h1m4 0h1m5 0h1m16 0h1m48 0h1M120 161h1m5 0h1m9 0h1m8 0h1m7 0h1m6 0h3m1 0h1m15 0h1M118 162h1m22 0h1m1 0h1m1 0h1m3 0h1m1 0h1m4 0h1m3 0h1m3 0h1m1 0h1m6 0h1m1 0h1M73 163h1m70 0h1m1 0h1m9 0h1m1 0h1m8 0h1m1 0h2m12 0h1m29 0h1M77 164h1m46 0h1m2 0h1m27 0h4m3 0h1m2 0h1m4 0h1M127 165h1m17 0h1m3 0h1m8 0h1m2 0h1m4 0h1m10 0h1m16 0h1M74 166h1m70 0h1m2 0h1m13 0h2m10 0h2m4 0h1m8 0h1m5 0h1m17 0h1M157 167h1m3 0h1m3 0h1m45 0h1M157 168h2m13 0h1M155 169h1m2 0h1m3 0h1m16 0h1m7 0h1M154 170h1m8 0h1m1 0h2m2 0h1M157 171h2m3 0h1m2 0h2m1 0h1m4 0h1m2 0h1m2 0h1M160 172h1m3 0h1m5 0h1m1 0h1m2 0h2m8 0h1M173 173h1m4 0h1m2 0h1M160 174h2m6 0h1m4 0h1m6 0h1m1 0h1m29 0h2M166 175h2m7 0h1m3 0h1m33 0h1M70 176h1m91 0h2m49 0h1M69 177h1m91 0h1m1 0h1m2 0h1m12 0h1M156 178h1m11 0h1m18 0h1M149 179h1m1 0h1m12 0h2m22 0h1m24 0h1M68 180h1m80 0h1m4 0h1m6 0h2m3 0h1m3 0h1m4 0h1m37 0h1M149 181h1m10 0h1m6 0h3m43 0h1M163 182h1m5 0h1m7 0h1M151 183h1m8 0h1m2 0h1m6 0h1m42 0h1M68 184h1m83 0h1m2 0h1m4 0h1m1 0h1m7 0h1M63 185h2m94 0h1m9 0h1m42 0h2M151 186h1m4 0h1m56 0h1M150 187h1m2 0h1m6 0h1M63 188h1m79 0h1m1 0h1m5 0h1m2 0h1m11 0h2M65 189h1m2 0h1m66 0h1m5 0h1m18 0h1M63 190h1m8 0h1m61 0h1m5 0h1m1 0h1m16 0h1M64 191h1m2 0h1m3 0h1m32 0h2m13 0h1m8 0h1m3 0h1m17 0h1m9 0h1M63 192h1m2 0h2m5 0h1m1 0h2m38 0h2m4 0h2m7 0h2m1 0h2m5 0h1M66 193h1m14 0h1m7 0h1m3 0h2m12 0h1m5 0h1m23 0h1" stroke="#000" stroke-width="1" fill="none" stroke-opacity="0.65"/>
<path d="M132 104h2M134 105h1M132 106h1m1 0h1M126 107h2m2 0h2m1 0h1M131 108h4m2 0h1M131 109h1m1 0h1m1 0h2m1 0h1M125 110h1m1 0h1m2 0h1m2 0h1m1 0h1M125 111h2m7 0h1m1 0h5M125 112h1m1 0h4m3 0h2m2 0h1m2 0h1m9 0h1M128 113h1m5 0h1m8 0h1m5 0h2M126 114h1m2 0h1m1 0h2m1 0h2m1 0h2m1 0h1m1 0h1M120 115h1m1 0h1m2 0h1m6 0h1m1 0h2m1 0h1m2 0h1m1 0h1m7 0h1M125 116h1m2 0h1m2 0h2m1 0h1m4 0h1m3 0h1M126 117h1m2 0h1m1 0h1m1 0h2m3 0h1m2 0h1M118 118h2m1 0h1m2 0h1m2 0h1m2 0h1m5 0h1m3 0h1M120 119h1m2 0h1m1 0h2m2 0h3m1 0h2m1 0h1m2 0h1M117 120h1m3 0h1m3 0h7m1 0h1m1 0h1m5 0h1m3 0h1M118 121h1m2 0h2m2 0h1m1 0h8m1 0h1m2 0h1m1 0h1M117 122h1m2 0h1m5 0h1m1 0h2m1 0h1m5 0h2m1 0h1M115 123h1m4 0h4m2 0h2m6 0h1m2 0h1m3 0h2M113 124h4m6 0h1m2 0h1m1 0h1m2 0h2m2 0h1m4 0h1M113 125h1m2 0h1m4 0h1m3 0h1m1 0h1m1 0h1m1 0h2m1 0h7M116 126h1m1 0h1m2 0h3m1 0h3m3 0h4m4 0h1m1 0h2M116 127h1m6 0h7m1 0h1m3 0h1m4 0h3M118 128h5m5 0h3m1 0h1m3 0h1m1 0h2m2 0h1M115 129h1m1 0h1m1 0h1m2 0h1m4 0h2m1 0h1m3 0h2m3 0h3M113 130h3m3 0h2m1 0h2m4 0h1m2 0h2m5 0h2m1 0h1M115 131h1m6 0h2m2 0h1m2 0h1m1 0h2m3 0h2m1 0h2M111 132h1m1 0h2m2 0h1m2 0h1m3 0h1m1 0h1m2 0h1m3 0h1m3 0h2M114 133h4m12 0h3m3 0h3M115 134h4m1 0h5m2 0h2m6 0h1M113 135h2m2 0h1m2 0h1m1 0h1m3 0h2m8 0h1M110 136h1m6 0h1m6 0h1m2 0h2m6 0h1M108 137h1m1 0h1m13 0h1m1 0h2m5 0h1m2 0h1M106 138h1m1 0h2m1 0h1m1 0h1m2 0h2m2 0h1m3 0h1m1 0h1m7 0h1M105 139h2m1 0h1m1 0h2m1 0h1m2 0h2m1 0h1m2 0h1m13 0h1m1 0h1M105 140h1m4 0h1m1 0h1m3 0h1m1 0h1m1 0h1m2 0h2m11 0h1M102 141h1m1 0h3m1 0h1m1 0h1m7 0h1m2 0h1m14 0h1M102 142h4m3 0h2m7 0h1m1 0h1m3 0h1M101 143h4m9 0h2m1 0h2M101 144h4m1 0h1m1 0h4m1 0h1m5 0h1M97 145h1m2 0h1m1 0h1m1 0h1m8 0h4M96 146h1m4 0h1m2 0h2m1 0h1m1 0h1m2 0h2m1 0h1m1 0h1M98 147h1m3 0h1m2 0h4m4 0h1M92 148h4m1 0h1m1 0h2m3 0h2m1 0h5m2 0h1M92 149h1m2 0h1m3 0h1m1 0h3m1 0h2m1 0h2m1 0h2m2 0h1M91 150h1m1 0h2m1 0h1m2 0h1m1 0h2m1 0h2m2 0h4m2 0h1m1 0h1m2 0h1m3 0h2M89 151h1m2 0h5m1 0h1m9 0h1m2 0h2m2 0h1m1 0h1m1 0h1m3 0h1M90 152h1m4 0h1m1 0h3m1 0h2m1 0h1m1 0h2m1 0h1m3 0h1m1 0h1m1 0h1m2 0h1m2 0h2M90 153h1m1 0h11m5 0h2m1 0h4m1 0h1m6 0h1M86 154h1m2 0h1m1 0h1m1 0h1m3 0h3m2 0h6m6 0h1m1 0h1m1 0h1M87 155h9m1 0h4m2 0h2m4 0h2m2 0h1m1 0h1m3 0h1M86 156h5m1 0h1m3 0h2m1 0h7m1 0h3m1 0h1m4 0h1m8 0h1M85 157h9m1 0h1m1 0h2m1 0h1m1 0h1m2 0h1m2 0h2m2 0h5m6 0h2m1 0h2M85 158h2m1 0h1m1 0h2m1 0h3m1 0h3m1 0h1m1 0h6m3 0h2m2 0h1m39 0h1M82 159h1m1 0h1m1 0h1m1 0h2m1 0h13m1 0h2m1 0h1m1 0h1m1 0h3m1 0h2m5 0h4m5 0h1m23 0h1M83 160h12m1 0h1m2 0h2m1 0h6m1 0h2m3 0h3m1 0h1m2 0h2m2 0h1m6 0h2m20 0h1m2 0h1M80 161h1m1 0h2m1 0h3m1 0h9m1 0h7m1 0h2m3 0h2m2 0h2m9 0h1m3 0h1m1 0h1M82 162h2m3 0h8m1 0h1m2 0h2m1 0h5m1 0h4m3 0h1m11 0h1m2 0h2m1 0h1M80 163h1m1 0h5m2 0h2m2 0h5m2 0h3m5 0h1m4 0h1m18 0h2m5 0h1M80 164h1m1 0h12m1 0h3m1 0h6m1 0h1m1 0h3m1 0h1m1 0h5m3 0h1m10 0h2m5 0h2M80 165h7m1 0h7m1 0h1m1 0h6m1 0h5m2 0h2m1 0h1m3 0h2m1 0h2m11 0h1m6 0h1m10 0h2M77 166h1m2 0h14m2 0h2m1 0h2m1 0h5m1 0h4m3 0h1m1 0h3m1 0h1m2 0h1m6 0h2m3 0h1m1 0h2m2 0h1M78 167h4m1 0h5m1 0h2m3 0h4m3 0h3m2 0h3m5 0h1m2 0h1m1 0h1m5 0h2m3 0h2m7 0h1m1 0h2m3 0h2M75 168h1m1 0h13m1 0h6m1 0h1m1 0h8m2 0h1m1 0h2m8 0h1m2 0h3m2 0h1m2 0h1m1 0h2m3 0h1m2 0h2m1 0h1m1 0h1m2 0h1M76 169h4m1 0h1m1 0h4m1 0h16m1 0h4m1 0h9m2 0h3m2 0h1m1 0h1m1 0h4m9 0h1m1 0h1m7 0h1M77 170h15m1 0h7m1 0h2m1 0h1m1 0h3m1 0h2m1 0h1m1 0h1m3 0h3m1 0h3m4 0h1m3 0h1m1 0h1m1 0h1M75 171h2m1 0h6m1 0h18m3 0h1m2 0h4m2 0h1m3 0h3m2 0h3m3 0h2m1 0h1m1 0h3m1 0h1m1 0h1m2 0h1m1 0h2m1 0h1m2 0h2M75 172h1m1 0h9m1 0h9m2 0h8m2 0h1m1 0h2m1 0h1m1 0h1m1 0h4m2 0h1m3 0h1m4 0h1m4 0h1m3 0h5m3 0h3m2 0h1m1 0h1M77 173h1m1 0h10m1 0h18m1 0h2m1 0h1m3 0h1m5 0h3m2 0h2m4 0h1m1 0h1m1 0h1m2 0h2m1 0h2m2 0h2m1 0h5M74 174h4m1 0h7m1 0h14m1 0h2m1 0h1m3 0h3m5 0h2m4 0h3m3 0h1m1 0h1m3 0h1m1 0h1m1 0h1m3 0h2m1 0h3m2 0h1m1 0h3M73 175h2m1 0h1m1 0h20m1 0h7m2 0h1m1 0h3m1 0h3m4 0h1m1 0h1m1 0h4m2 0h1m2 0h1m8 0h1m1 0h1m4 0h3m1 0h2m2 0h2M72 176h2m1 0h1m2 0h1m2 0h1m1 0h15m1 0h1m1 0h1m1 0h1m1 0h1m2 0h5m1 0h3m1 0h5m1 0h2m2 0h1m1 0h1m1 0h1m5 0h3m1 0h1m1 0h1m1 0h3m2 0h1m7 0h1M72 177h1m1 0h1m1 0h2m1 0h13m1 0h7m3 0h1m1 0h1m2 0h13m1 0h2m1 0h1m6 0h2m1 0h1m1 0h3m1 0h1m1 0h2m2 0h2m1 0h1m1 0h1m5 0h1M72 178h1m3 0h4m1 0h3m1 0h1m1 0h2m1 0h1m1 0h6m1 0h3m1 0h1m1 0h1m1 0h2m1 0h1m1 0h4m2 0h1m1 0h6m1 0h1m1 0h2m1 0h1m4 0h2m6 0h2M76 179h3m1 0h3m1 0h3m1 0h3m1 0h3m1 0h2m2 0h2m2 0h7m1 0h3m5 0h1m3 0h4m1 0h1m3 0h2m1 0h3m4 0h2m1 0h1M69 180h2m5 0h4m1 0h6m1 0h3m2 0h3m1 0h4m1 0h2m5 0h1m4 0h1m1 0h1m5 0h1m1 0h2m1 0h1m3 0h2m1 0h1m2 0h1m1 0h1m1 0h2m4 0h1m9 0h3M69 181h3m3 0h10m1 0h7m3 0h1m3 0h4m1 0h2m1 0h3m1 0h4m1 0h7m1 0h3m1 0h3m1 0h1m2 0h2m6 0h1m2 0h1M71 182h5m1 0h7m1 0h1m1 0h1m2 0h3m1 0h1m1 0h2m3 0h6m2 0h2m1 0h1m1 0h1m1 0h2m1 0h1m1 0h1m4 0h1m2 0h1m1 0h2m1 0h1m4 0h2m1 0h2m2 0h2M71 183h3m1 0h4m1 0h1m2 0h17m1 0h2m1 0h3m1 0h2m2 0h1m1 0h5m1 0h1m2 0h6m1 0h1m1 0h1m3 0h3m3 0h1m1 0h4m10 0h1M70 184h1m3 0h1m2 0h1m1 0h2m1 0h7m1 0h2m1 0h3m1 0h1m1 0h1m1 0h1m2 0h2m1 0h3m2 0h1m2 0h3m1 0h2m1 0h2m2 0h3m1 0h4m3 0h1m1 0h2m1 0h1m7 0h1m6 0h2M68 185h1m2 0h1m1 0h2m2 0h2m1 0h1m1 0h2m1 0h1m1 0h1m1 0h1m1 0h5m3 0h2m1 0h4m1 0h1m1 0h3m1 0h1m2 0h2m3 0h1m1 0h1m4 0h1m1 0h1m1 0h1m1 0h1m2 0h1m2 0h2m4 0h1m11 0h1M69 186h1m4 0h2m1 0h3m1 0h1m1 0h7m1 0h2m1 0h6m1 0h3m4 0h1m1 0h2m3 0h2m1 0h3m2 0h4m1 0h1m1 0h1m1 0h1m1 0h1m2 0h1m1 0h2m1 0h1m2 0h2m1 0h2M71 187h1m2 0h1m5 0h1m2 0h11m1 0h1m1 0h1m3 0h1m1 0h1m3 0h1m1 0h2m7 0h3m1 0h6m1 0h5m7 0h1m2 0h3M73 188h2m2 0h1m2 0h2m1 0h2m5 0h7m1 0h2m7 0h1m1 0h1m1 0h1m2 0h2m1 0h1m5 0h3m1 0h2m1 0h2m5 0h1m2 0h1M76 189h1m1 0h1m1 0h1m1 0h3m1 0h2m2 0h1m1 0h2m3 0h2m1 0h1m1 0h4m2 0h1m1 0h2m1 0h1m1 0h1m4 0h1m2 0h1m2 0h2m5 0h1M73 190h1m2 0h4m6 0h2m2 0h2m5 0h2m2 0h2m3 0h1m1 0h1m7 0h1m4 0h2m1 0h1m1 0h1m12 0h1M77 191h1m5 0h5m4 0h2m1 0h1m1 0h1m3 0h1m4 0h1m1 0h4m2 0h2m6 0h2m2 0h1m3 0h1M78 192h4m5 0h1m1 0h1m4 0h1m1 0h2m11 0h1" stroke="#000" stroke-width="1" fill="none" stroke-opacity="0.9"/>
<path d="M132 105h2M127 106h1m5 0h1m2 0h1m1 0h1M128 107h1m1 0h2m1 0h1m3 0h1M131 108h2m1 0h3m1 0h2M125 109h2m3 0h2m2 0h1M130 110h2m1 0h1m5 0h2M130 111h1m2 0h1m2 0h1m2 0h1M131 112h1m4 0h2m3 0h3M127 113h1m2 0h1m9 0h1m10 0h1M120 114h1m1 0h1m1 0h1m4 0h1m2 0h2m1 0h1m2 0h2m1 0h1M120 115h2m1 0h1m1 0h1m3 0h1m2 0h1m1 0h2m4 0h1m1 0h1M119 116h2m1 0h1m3 0h3m4 0h1m10 0h1M118 117h3m1 0h1m1 0h1m2 0h1m1 0h2m1 0h2m3 0h1m2 0h1M119 118h1m4 0h2m1 0h1m1 0h1m2 0h1m2 0h2m1 0h2M118 119h1m2 0h1m6 0h1m1 0h2m3 0h1m3 0h1M118 120h1m2 0h1m2 0h1m5 0h1m6 0h3m5 0h1M118 121h1m5 0h2m1 0h3m1 0h2m1 0h1m4 0h2m4 0h2M121 122h1m1 0h2m1 0h1m1 0h1m2 0h3m3 0h3m1 0h1M113 123h1m1 0h1m5 0h2m1 0h1m2 0h2m2 0h1m5 0h1m2 0h2M113 124h1m9 0h2m4 0h1m1 0h1m3 0h4m1 0h1M114 125h1m1 0h4m6 0h1m1 0h1m1 0h1m1 0h1m3 0h2m3 0h1M117 126h2m6 0h1m1 0h1m2 0h1m1 0h1m3 0h1m5 0h1M122 127h1m1 0h2m3 0h1m1 0h2m9 0h1M116 128h1m1 0h1m4 0h1m11 0h3m1 0h1m1 0h2M117 129h4m2 0h1m3 0h2m1 0h1m3 0h1m1 0h1m3 0h1M111 130h2m2 0h1m4 0h1m1 0h2m5 0h1m1 0h2M113 131h2m1 0h1m3 0h1m3 0h1m1 0h1m5 0h2m3 0h2M111 132h2m1 0h2m1 0h3m4 0h1m1 0h2m1 0h2M114 133h1m4 0h1m1 0h1m1 0h2m7 0h1M116 134h1m1 0h1m2 0h1m6 0h2m3 0h1m4 0h2M117 135h1m3 0h2m3 0h3m5 0h1m1 0h2M107 136h1m1 0h3m3 0h4m1 0h2m1 0h1m3 0h1m7 0h1M109 137h2m1 0h1m11 0h3m1 0h1m6 0h1M117 138h3m5 0h1m7 0h1m1 0h1M111 139h1m2 0h1m3 0h1m1 0h1m3 0h1m12 0h1M104 140h1m5 0h3m4 0h1m3 0h2m1 0h1m11 0h1M102 141h2m6 0h1m1 0h1m4 0h2m1 0h1m2 0h1m1 0h1m12 0h1M101 142h1m2 0h3m3 0h1m1 0h1m1 0h1m8 0h1M108 143h7m4 0h1M100 144h1m10 0h1m2 0h1m2 0h1M99 145h2m3 0h2m5 0h1m6 0h1M98 146h1m5 0h2m1 0h1m3 0h1m4 0h2M96 147h3m4 0h6m5 0h1m1 0h2M94 148h1m1 0h1m7 0h1m4 0h2m1 0h1m1 0h1m3 0h1M93 149h4m1 0h1m2 0h5m1 0h1m4 0h2M90 150h1m1 0h2m1 0h2m1 0h2m1 0h2m1 0h5m2 0h1m2 0h2m1 0h1m5 0h1M91 151h1m1 0h1m2 0h2m7 0h2m1 0h1m4 0h2m3 0h2m1 0h2M90 152h3m2 0h1m2 0h1m1 0h2m1 0h5m2 0h1m1 0h2m3 0h1m1 0h1M90 153h2m1 0h6m1 0h2m1 0h2m2 0h2m1 0h1m1 0h1m7 0h1m2 0h2M89 154h5m1 0h1m1 0h1m1 0h5m1 0h1m2 0h4m2 0h1m1 0h2m1 0h3M89 155h6m2 0h5m1 0h3m1 0h2m3 0h1m1 0h1m1 0h1m1 0h1M87 156h1m1 0h7m2 0h6m2 0h1m1 0h1m2 0h2m1 0h2m10 0h2M84 157h1m2 0h2m2 0h3m1 0h2m1 0h3m1 0h7m2 0h1m2 0h1m8 0h1m1 0h1M85 158h2m1 0h4m1 0h11m1 0h3m1 0h5m1 0h1m9 0h3m27 0h2M85 159h7m1 0h3m2 0h1m1 0h2m2 0h10m11 0h1m6 0h2M81 160h1m2 0h11m1 0h10m1 0h1m1 0h1m1 0h1m3 0h1m6 0h1m3 0h2m26 0h4M83 161h3m2 0h10m2 0h3m1 0h2m1 0h1m2 0h1m1 0h1m2 0h2m1 0h1m3 0h1m4 0h2m1 0h1m1 0h1m1 0h1m22 0h1M79 162h1m3 0h1m1 0h5m1 0h7m1 0h1m2 0h1m1 0h4m1 0h1m4 0h1m1 0h1m12 0h1m2 0h2m3 0h1m1 0h1M78 163h1m1 0h10m1 0h1m1 0h7m1 0h3m1 0h2m1 0h1m1 0h1m1 0h1m1 0h1m8 0h1m3 0h1m2 0h1m2 0h4m1 0h1M79 164h2m1 0h3m1 0h8m1 0h6m1 0h4m1 0h3m1 0h1m1 0h1m2 0h1m5 0h1m5 0h1m8 0h1m3 0h1M78 165h1m1 0h2m1 0h17m2 0h2m1 0h1m1 0h2m3 0h1m1 0h2m6 0h2m5 0h1m1 0h1m3 0h3m2 0h1m11 0h1m1 0h1M79 166h5m2 0h10m2 0h1m1 0h4m1 0h1m2 0h4m3 0h2m2 0h1m1 0h1m29 0h2M79 167h1m1 0h3m1 0h9m1 0h1m1 0h5m1 0h1m3 0h1m2 0h2m1 0h2m2 0h1m4 0h3m4 0h1m1 0h1m2 0h4m3 0h1m5 0h2m2 0h2M75 168h1m2 0h4m1 0h13m1 0h4m1 0h3m2 0h1m1 0h2m1 0h1m1 0h3m2 0h1m2 0h1m1 0h1m5 0h3m1 0h1m4 0h1m1 0h1m4 0h2m2 0h1m1 0h2M78 169h4m1 0h3m1 0h8m1 0h8m3 0h3m5 0h1m1 0h1m4 0h2m4 0h1m7 0h2m2 0h4m7 0h1m1 0h1M76 170h15m1 0h8m2 0h1m1 0h1m1 0h3m1 0h2m8 0h2m1 0h1m3 0h1m2 0h4m1 0h3m3 0h1m3 0h2M76 171h3m1 0h7m1 0h3m1 0h5m2 0h1m1 0h2m1 0h2m1 0h1m1 0h1m1 0h3m2 0h1m3 0h3m3 0h2m1 0h2m2 0h1m2 0h2m1 0h1m2 0h3m5 0h3m1 0h1M74 172h5m1 0h8m1 0h8m1 0h3m2 0h3m1 0h2m2 0h1m1 0h1m1 0h3m2 0h1m2 0h6m2 0h1m1 0h2m1 0h1m2 0h1m6 0h2m2 0h1m1 0h1M73 173h1m1 0h4m1 0h15m1 0h11m1 0h1m1 0h2m1 0h3m5 0h1m1 0h2m1 0h1m1 0h1m1 0h1m1 0h1m1 0h2m3 0h1m1 0h1m1 0h2m3 0h1m2 0h1m4 0h3M74 174h3m1 0h1m1 0h16m1 0h5m1 0h3m1 0h1m1 0h3m3 0h9m1 0h1m1 0h2m2 0h1m6 0h1m2 0h1m1 0h3m1 0h1m1 0h2m3 0h1M72 175h1m1 0h2m1 0h5m1 0h21m3 0h1m1 0h2m1 0h3m1 0h2m1 0h1m1 0h1m2 0h3m1 0h2m2 0h1m1 0h1m3 0h2m1 0h2m3 0h3m1 0h2m2 0h2m2 0h1M72 176h3m1 0h16m1 0h6m1 0h1m1 0h2m1 0h1m1 0h2m2 0h1m2 0h2m3 0h2m2 0h2m2 0h2m4 0h2m1 0h2m2 0h1m1 0h1m12 0h3M71 177h2m1 0h3m1 0h1m2 0h9m3 0h13m3 0h1m1 0h2m1 0h3m2 0h1m2 0h2m1 0h4m2 0h5m3 0h2m1 0h1m2 0h1m6 0h1m1 0h1m1 0h2M70 178h4m4 0h10m1 0h2m1 0h6m2 0h1m1 0h2m2 0h1m1 0h1m2 0h4m4 0h2m1 0h3m3 0h3m1 0h1m5 0h1m4 0h1m1 0h1m2 0h1m1 0h1M73 179h1m1 0h3m1 0h6m1 0h13m1 0h5m1 0h4m5 0h2m1 0h5m6 0h2m3 0h1m1 0h1m3 0h1m1 0h1m1 0h1M69 180h3m1 0h1m1 0h25m1 0h9m2 0h1m2 0h2m4 0h2m2 0h4m1 0h1m4 0h3m1 0h1m1 0h1m3 0h2m11 0h1M69 181h1m1 0h4m1 0h2m1 0h2m1 0h1m2 0h9m2 0h5m1 0h1m1 0h1m1 0h1m1 0h1m1 0h2m1 0h4m1 0h1m2 0h4m5 0h1m1 0h3m1 0h1m3 0h1m3 0h4m10 0h1M69 182h1m3 0h2m2 0h1m1 0h3m1 0h7m1 0h6m1 0h4m2 0h1m2 0h4m1 0h1m1 0h5m1 0h3m6 0h3m1 0h1m1 0h1m1 0h1m2 0h1m4 0h1M75 183h1m2 0h2m1 0h1m3 0h9m2 0h2m1 0h1m1 0h3m2 0h4m2 0h1m2 0h1m2 0h1m3 0h1m3 0h1m1 0h3m1 0h2m1 0h1m1 0h1m2 0h3m1 0h3m1 0h1m1 0h1m6 0h1M69 184h1m1 0h2m3 0h3m1 0h2m1 0h1m1 0h1m1 0h3m3 0h9m1 0h8m2 0h1m4 0h3m1 0h3m1 0h2m4 0h2m1 0h3m4 0h2m3 0h1m9 0h1m1 0h1M68 185h1m1 0h1m1 0h3m5 0h1m2 0h2m2 0h10m2 0h1m3 0h1m1 0h2m2 0h1m1 0h1m1 0h2m2 0h3m4 0h4m1 0h2m1 0h1m4 0h2m1 0h1m8 0h2m6 0h2M69 186h3m1 0h3m1 0h5m2 0h2m1 0h2m1 0h1m4 0h1m1 0h2m2 0h2m2 0h2m1 0h1m2 0h5m4 0h1m4 0h2m1 0h1m2 0h2m1 0h1m2 0h4m2 0h1m3 0h1m1 0h1M70 187h1m1 0h2m2 0h3m2 0h1m4 0h3m1 0h1m1 0h1m2 0h1m3 0h1m1 0h1m2 0h2m2 0h2m2 0h3m2 0h2m2 0h4m1 0h1m2 0h1m1 0h4m3 0h1m1 0h1m3 0h1M73 188h2m1 0h2m1 0h1m1 0h6m2 0h5m1 0h1m3 0h1m3 0h2m1 0h1m1 0h2m3 0h1m2 0h1m4 0h1m3 0h2m1 0h3m3 0h1m2 0h3M74 189h1m1 0h1m1 0h2m2 0h1m3 0h1m2 0h7m3 0h1m1 0h3m1 0h1m2 0h2m2 0h2m3 0h2m1 0h3m1 0h1m2 0h1m2 0h1m3 0h1m1 0h1m1 0h1M73 190h1m1 0h6m3 0h2m2 0h4m1 0h1m2 0h1m2 0h1m1 0h1m2 0h1m3 0h4m4 0h2m1 0h1m2 0h1m2 0h1m5 0h1m6 0h2M76 191h1m3 0h1m1 0h1m1 0h4m3 0h1m1 0h2m1 0h2m1 0h1m2 0h1m5 0h4m1 0h2m6 0h3m1 0h1M81 192h1m2 0h1m1 0h1m1 0h1m3 0h1m5 0h1m9 0h1" stroke="#000" stroke-width="1" fill="none" stroke-opacity="0.9"/>
<path d="M132 105h2M136 106h1m1 0h1M126 107h1m1 0h2m2 0h1m1 0h1m1 0h3M126 108h2m2 0h2m1 0h1m1 0h1M126 109h1m11 0h1M125 110h2m5 0h4M131 111h1m2 0h2m2 0h1m12 0h1M126 112h2m2 0h1m1 0h2m2 0h1m2 0h1m1 0h2M135 113h2m1 0h1m2 0h1m7 0h3M121 114h1m2 0h1m2 0h1m1 0h1m1 0h1m4 0h2m1 0h1m2 0h1m7 0h2M120 115h1m1 0h1m2 0h1m4 0h5m6 0h2m7 0h1M121 116h1m1 0h1m3 0h1m7 0h1m2 0h1m1 0h1m3 0h1M118 117h2m1 0h1m1 0h1m1 0h1m1 0h2m6 0h2M123 118h1m4 0h1m1 0h2m7 0h2M119 119h1m2 0h1m2 0h1m3 0h1m1 0h4m3 0h3M119 120h1m1 0h2m1 0h2m1 0h1m1 0h2m2 0h2m2 0h1M117 121h2m1 0h1m1 0h1m1 0h1m2 0h1m2 0h2m2 0h2m5 0h1M116 122h1m3 0h1m1 0h8m1 0h1m3 0h1m2 0h1m1 0h2M113 123h1m1 0h2m2 0h2m5 0h2m4 0h4m1 0h2m2 0h1M113 124h1m1 0h1m8 0h2m4 0h2m1 0h1m3 0h1m2 0h1M115 125h3m2 0h1m1 0h4m3 0h1m4 0h1m6 0h2M120 126h2m4 0h2m1 0h3m4 0h3m2 0h2M131 127h2m3 0h2m3 0h1M122 128h3m1 0h2m2 0h1m7 0h3M117 129h1m3 0h1m1 0h2m3 0h1m3 0h2m1 0h4m3 0h1M111 130h1m4 0h3m1 0h3m4 0h3m2 0h3m1 0h1M111 131h1m2 0h1m2 0h2m2 0h3m4 0h2m1 0h1m8 0h1M116 132h1m3 0h1m3 0h1m1 0h1m7 0h1m3 0h1M112 133h1m4 0h2m4 0h2m1 0h1m1 0h2m1 0h2m1 0h1m1 0h1m2 0h1M114 134h1m1 0h3m6 0h1m4 0h1m4 0h1M115 135h3m2 0h1m4 0h1m8 0h1m2 0h1M107 136h1m4 0h1m2 0h1m2 0h1m4 0h1m2 0h2m6 0h2M106 137h2m5 0h3m18 0h1M107 138h1m2 0h1m1 0h1m2 0h2m1 0h1m1 0h1m2 0h2m9 0h1M105 139h1m1 0h1m5 0h1m5 0h4m1 0h1m13 0h1M104 140h1m1 0h2m4 0h1m6 0h1m3 0h1m12 0h2M104 141h1m1 0h2m3 0h1m12 0h2m11 0h2M104 142h1m2 0h1m2 0h2m3 0h1m7 0h2M107 143h3m2 0h1m1 0h5M101 144h6m1 0h2m2 0h2m2 0h1m1 0h3M97 145h3m2 0h1m1 0h1m1 0h1m2 0h2m1 0h1m1 0h1M96 146h1m2 0h3m6 0h1m2 0h1m3 0h1m3 0h1M94 147h1m3 0h1m1 0h1m1 0h1m1 0h1m4 0h2m1 0h2m4 0h2M92 148h1m1 0h1m1 0h1m2 0h5m7 0h1M95 149h1m1 0h3m3 0h3m2 0h2m1 0h1m3 0h3m1 0h1M90 150h1m2 0h2m2 0h1m5 0h1m1 0h1m1 0h2m1 0h2m1 0h2m7 0h2M91 151h1m1 0h1m1 0h2m1 0h1m3 0h6m1 0h1m5 0h1m7 0h1M89 152h1m2 0h1m1 0h1m1 0h2m1 0h1m4 0h3m2 0h1m3 0h1m1 0h1m2 0h3m2 0h1M88 153h1m2 0h3m2 0h8m1 0h2m1 0h1m2 0h1m1 0h1m6 0h1m1 0h1M89 154h1m1 0h2m1 0h1m1 0h1m1 0h2m1 0h5m4 0h2m2 0h1m2 0h1m2 0h1M85 155h1m2 0h2m1 0h2m2 0h1m1 0h3m1 0h2m1 0h2m3 0h1m1 0h1m1 0h1m2 0h1m2 0h1M86 156h1m2 0h1m3 0h7m2 0h1m3 0h1m1 0h4m2 0h2m1 0h1m9 0h1M86 157h7m1 0h1m1 0h2m1 0h2m1 0h2m1 0h1m1 0h2m1 0h3m2 0h1m8 0h1M84 158h1m1 0h5m1 0h3m1 0h2m1 0h2m1 0h4m3 0h1m3 0h2m12 0h1m27 0h1M84 159h1m2 0h3m1 0h2m1 0h8m2 0h2m3 0h3m4 0h2m6 0h2m30 0h1M82 160h1m1 0h5m2 0h5m1 0h6m1 0h6m1 0h1m10 0h1m10 0h1m21 0h2M81 161h1m1 0h2m1 0h1m1 0h6m1 0h4m1 0h2m1 0h5m1 0h2m1 0h1m3 0h2m4 0h1m6 0h1m1 0h1m23 0h1m1 0h1M79 162h1m3 0h1m2 0h2m2 0h1m1 0h1m1 0h7m1 0h1m1 0h2m1 0h3m2 0h2m2 0h2m10 0h2m9 0h2M78 163h2m3 0h14m1 0h12m1 0h1m1 0h1m3 0h1m3 0h1m6 0h1m3 0h2m1 0h2m8 0h1M79 164h1m1 0h6m1 0h9m2 0h6m3 0h3m1 0h3m1 0h1m4 0h1m6 0h3m3 0h2m3 0h2M78 165h1m1 0h4m1 0h13m1 0h1m1 0h2m4 0h4m1 0h1m9 0h1m6 0h1m2 0h1m1 0h1m1 0h2m2 0h1m1 0h1m11 0h1M79 166h1m1 0h4m1 0h6m1 0h8m2 0h3m1 0h3m1 0h2m1 0h3m1 0h2m4 0h1m5 0h3m5 0h1m4 0h1m3 0h1m5 0h1M77 167h23m1 0h2m1 0h1m1 0h3m1 0h5m3 0h1m4 0h1m4 0h1m1 0h2m7 0h2m6 0h1M75 168h2m1 0h1m2 0h5m2 0h2m1 0h6m1 0h1m1 0h2m2 0h9m1 0h1m5 0h1m1 0h1m1 0h1m1 0h1m1 0h2m1 0h1m3 0h2m1 0h1m5 0h1m3 0h1m3 0h1M78 169h10m1 0h5m1 0h3m1 0h3m5 0h1m3 0h4m2 0h1m3 0h1m1 0h1m2 0h3m5 0h2m1 0h1m1 0h2m6 0h1m1 0h2M75 170h1m2 0h2m1 0h18m1 0h2m1 0h2m1 0h2m1 0h1m1 0h1m1 0h2m7 0h3m1 0h4m4 0h2m6 0h5m4 0h1M74 171h2m2 0h1m1 0h5m1 0h16m2 0h2m1 0h1m1 0h1m1 0h2m8 0h2m1 0h1m3 0h3m1 0h7m2 0h1M74 172h3m1 0h1m1 0h2m1 0h6m1 0h9m1 0h3m1 0h2m1 0h1m1 0h1m1 0h3m1 0h1m3 0h2m1 0h4m1 0h7m2 0h2m1 0h1m3 0h1m1 0h1m2 0h2m3 0h1m3 0h1M73 173h4m1 0h5m1 0h10m1 0h2m1 0h4m1 0h3m1 0h2m1 0h4m1 0h2m1 0h2m3 0h2m2 0h2m3 0h1m1 0h2m5 0h1m2 0h1m1 0h1m1 0h1m3 0h1m5 0h1M72 174h1m1 0h5m1 0h24m1 0h3m1 0h1m2 0h2m2 0h1m2 0h1m3 0h2m1 0h1m3 0h1m4 0h1m1 0h1m1 0h1m3 0h2m2 0h1m1 0h1m6 0h2M73 175h1m1 0h6m1 0h10m1 0h1m1 0h4m1 0h4m4 0h1m3 0h1m1 0h1m1 0h1m1 0h2m5 0h2m1 0h3m2 0h2m2 0h5m1 0h1m2 0h4m4 0h2M74 176h1m1 0h5m1 0h8m1 0h10m1 0h4m1 0h4m1 0h5m1 0h1m5 0h1m1 0h1m1 0h1m1 0h1m1 0h1m2 0h1m1 0h1m2 0h1m1 0h1m1 0h1m2 0h1m3 0h2M72 177h1m1 0h2m1 0h2m2 0h4m1 0h15m1 0h2m1 0h1m1 0h2m1 0h4m1 0h1m4 0h1m1 0h1m1 0h3m1 0h2m2 0h1m5 0h3m7 0h3m6 0h1M70 178h1m2 0h6m2 0h2m1 0h7m1 0h3m1 0h5m1 0h2m1 0h8m4 0h1m5 0h14m1 0h2m2 0h1m1 0h1m1 0h1m1 0h1m8 0h1M70 179h1m1 0h2m1 0h1m1 0h3m1 0h12m1 0h3m3 0h2m2 0h3m1 0h1m6 0h3m1 0h1m1 0h4m1 0h4m3 0h1m1 0h1m1 0h2m3 0h1M70 180h5m1 0h3m1 0h3m1 0h12m1 0h4m1 0h4m3 0h2m1 0h2m3 0h1m2 0h1m1 0h1m2 0h2m2 0h4m1 0h3m1 0h1m7 0h1m1 0h1m10 0h1M69 181h1m3 0h2m2 0h1m2 0h3m2 0h1m1 0h9m1 0h1m1 0h1m3 0h3m2 0h6m1 0h1m1 0h5m1 0h2m1 0h3m3 0h1m3 0h5m5 0h1m10 0h2M72 182h2m1 0h6m2 0h2m1 0h4m2 0h2m2 0h2m1 0h4m1 0h1m3 0h1m2 0h1m2 0h1m1 0h2m1 0h7m6 0h2m1 0h1m1 0h1m2 0h5m1 0h2M69 183h1m2 0h3m1 0h7m1 0h2m2 0h1m1 0h6m1 0h7m1 0h1m2 0h1m1 0h3m1 0h3m5 0h2m5 0h1m7 0h2m2 0h2m2 0h2m3 0h1m7 0h1M69 184h1m3 0h2m2 0h2m2 0h1m1 0h4m1 0h1m1 0h4m1 0h1m1 0h1m1 0h2m2 0h1m1 0h1m2 0h3m1 0h1m1 0h1m1 0h1m1 0h1m1 0h3m4 0h1m1 0h1m2 0h2m1 0h1m10 0h3m1 0h1m7 0h1M71 185h1m3 0h3m2 0h3m1 0h7m1 0h3m1 0h5m1 0h4m1 0h2m1 0h1m2 0h1m1 0h1m3 0h2m3 0h3m4 0h1m1 0h1m1 0h1m4 0h1m1 0h1m3 0h2M69 186h2m1 0h1m2 0h2m2 0h2m1 0h11m1 0h5m2 0h1m1 0h1m1 0h1m1 0h1m3 0h1m2 0h2m3 0h1m4 0h1m1 0h1m2 0h1m4 0h1m2 0h1m2 0h1m1 0h1m1 0h2m3 0h1M73 187h1m2 0h2m4 0h2m5 0h4m2 0h2m1 0h3m1 0h1m1 0h1m2 0h1m2 0h1m2 0h1m1 0h2m1 0h1m2 0h1m4 0h2m1 0h1m1 0h1m3 0h1m10 0h2M73 188h1m1 0h1m2 0h2m2 0h3m1 0h1m1 0h1m1 0h1m3 0h1m2 0h6m2 0h3m3 0h1m1 0h1m2 0h1m1 0h3m6 0h1m1 0h1m3 0h1m4 0h2M73 189h2m3 0h6m4 0h1m2 0h2m1 0h3m1 0h1m1 0h1m1 0h1m3 0h1m5 0h2m1 0h1m1 0h2m1 0h3m2 0h1m4 0h1m2 0h1m3 0h1m1 0h1M75 190h6m1 0h1m2 0h4m2 0h2m1 0h2m1 0h2m1 0h1m1 0h1m4 0h1m2 0h1m1 0h3m5 0h2m4 0h3m1 0h1m7 0h1M78 191h3m1 0h1m2 0h2m1 0h1m3 0h1m1 0h1m3 0h1m3 0h1m4 0h1m2 0h1m5 0h1M80 192h1m3 0h1m2 0h2m1 0h5m1 0h2" stroke="#000" stroke-width="1" fill="none" stroke-opacity="0.9"/>
<path d="M66.8 192.5 L66.0 183.7 L66.6 171.4 L69.6 162.3 L76.3 153.8 L84.3 148.3 L93.5 146.8 L100.3 148.3 L102.6 153.6 L101.2 160.5 L97.6 169.8 L94.0 179.0 L90.5 188.4 L89.5 193.0Z" fill="#000"/>
<path d="M95 142h1M86 145h1m3 0h1m1 0h1m4 0h1M81 146h1m2 0h4m2 0h1m1 0h1m2 0h2m1 0h1m5 0h1M83 147h1m4 0h2m2 0h1m2 0h2m6 0h1M80 148h2m2 0h1m4 0h1m1 0h1m1 0h1m5 0h2M77 149h1m2 0h1m3 0h1m1 0h3m7 0h1m2 0h1m3 0h1M78 150h3m3 0h1m6 0h1m5 0h1M76 151h2m2 0h1m1 0h1m19 0h1M76 152h1m2 0h1m18 0h1m3 0h1M73 153h1m3 0h1m2 0h1m19 0h1m1 0h1M72 154h1m2 0h2m2 0h1m20 0h2M73 155h1m1 0h2m24 0h1M73 156h1m1 0h1m1 0h1m22 0h1m1 0h1M71 157h1m27 0h1m2 0h1M70 158h3m1 0h1M68 159h1m1 0h2m29 0h2M68 160h2m1 0h1m1 0h1m24 0h1M69 161h3m27 0h1M67 162h3m1 0h2m27 0h1m1 0h1M67 163h1m1 0h1M70 164h1M67 165h2m1 0h1m25 0h1m1 0h1m3 0h1M66 166h1m2 0h2M67 167h1m2 0h1m27 0h1M66 168h1m3 0h1M65 169h1m4 0h1M65 170h2M64 171h1m1 0h1m29 0h1M63 172h1m1 0h3M96 173h2M62 174h2m3 0h1m25 0h1m2 0h1M69 175h1m22 0h1m1 0h2M66 176h1m1 0h1M63 177h1m4 0h1m22 0h1m3 0h1M63 178h1m1 0h1m1 0h1m25 0h1M64 179h3m1 0h1m28 0h1M91 180h1m2 0h1M63 181h1m1 0h2m24 0h2M64 182h4m22 0h1m1 0h1M63 183h1m1 0h1M65 184h2m24 0h2m1 0h1M65 185h3M64 186h4m22 0h2M89 187h2M66 188h1m22 0h1m1 0h1M64 189h1m1 0h1m2 0h1m9 0h1m11 0h1m1 0h1M63 190h4m2 0h1m6 0h1m10 0h1m2 0h3M66 191h3m3 0h1m7 0h1m1 0h1m2 0h6M65 192h1m1 0h1m1 0h1m2 0h4m1 0h2m1 0h3m3 0h2m1 0h2M70 193h1m1 0h1m3 0h1m1 0h2m5 0h1m2 0h1" stroke="#000" stroke-width="1" fill="none" stroke-opacity="0.8"/>
<path d="M90 143h1m1 0h1M95 144h1M97 145h2M84 146h4m3 0h4M80 147h1m3 0h2m2 0h2m1 0h2m1 0h2m3 0h1M83 148h2m1 0h1m3 0h2m2 0h1m4 0h1M78 149h2m4 0h1m2 0h1m1 0h1m4 0h3m1 0h1m3 0h1M77 150h1m1 0h2m3 0h1m2 0h1m9 0h1m3 0h1M75 151h2m3 0h1m2 0h1m15 0h1m1 0h2m1 0h1M75 152h1m1 0h1m2 0h2m2 0h1m13 0h1m2 0h1M77 153h2m22 0h2M78 154h1m1 0h1m17 0h1M75 155h2m1 0h2m17 0h1m2 0h1m3 0h1M71 156h1m30 0h1M71 157h2m2 0h1m24 0h2m2 0h1M72 158h2m26 0h1m1 0h1M68 159h2m1 0h1m1 0h3m23 0h2M71 160h1m1 0h1m27 0h1M69 161h1m1 0h1m27 0h1m1 0h1M65 162h1m1 0h1m1 0h1m1 0h1m25 0h1m1 0h1M67 163h1m1 0h1m30 0h2m2 0h1M68 164h2m28 0h1M66 165h1m29 0h1m2 0h1M67 166h1m30 0h1M63 167h1m1 0h2m1 0h1m31 0h1M66 168h1m29 0h1m4 0h1M66 169h2m1 0h1m28 0h1M66 170h3m24 0h1M64 171h1m2 0h1m28 0h1m2 0h1M65 172h1m4 0h1m24 0h1m1 0h1m1 0h1M65 173h1m2 0h1M65 174h1m2 0h1M66 175h3m24 0h2M67 176h1M65 177h1m27 0h1M64 178h2m2 0h1m23 0h1m1 0h1M63 179h1m1 0h2m25 0h1M63 180h1m1 0h1m2 0h2M63 181h4M64 182h3m25 0h2M65 183h2m24 0h1M64 184h1m2 0h1M64 185h1m1 0h2m22 0h1M64 187h1m1 0h3m21 0h1M64 188h1m1 0h1m1 0h1M65 189h4m3 0h2m13 0h3m1 0h2M65 190h6m16 0h2m2 0h1m1 0h1M64 191h1m1 0h2m1 0h4m5 0h1m2 0h1m1 0h1m1 0h4m2 0h1M63 192h1m5 0h2m1 0h2m2 0h4m1 0h1m1 0h4m2 0h2M68 193h1m1 0h1m8 0h1m5 0h2m1 0h2" stroke="#000" stroke-width="1" fill="none" stroke-opacity="0.8"/>
<path d="M100 147h1M81 150h1M92 151h1M76 154h1M103 156h1M100 157h1M100 162h1M99 164h1M66 166h1m31 0h1M99 167h2M68 168h1m27 0h1m1 0h1M95 170h1M97 171h1m1 0h1M94 172h1m1 0h1M95 173h1M93 174h1m2 0h1M65 176h1M65 181h1M92 183h1M66 185h1M90 186h1M91 188h1" stroke="#1a1aff" stroke-width="1" fill="none" stroke-opacity="0.8"/>
<path d="M97 146h1M97 147h1M99 149h1M79 150h1M102 151h1M102 152h1M100 159h1M97 163h2M95 166h1m2 0h1M66 167h1m29 0h2M98 168h1M96 169h1M65 170h1m29 0h1M94 171h1m1 0h1M99 173h1M65 174h1M66 176h1m27 0h2m1 0h1M95 177h1M93 178h1M93 179h1M92 180h1M94 181h1m2 0h1M65 182h1m27 0h1M89 183h1m1 0h1m1 0h2M93 184h1m2 0h1M88 185h1m1 0h1M92 187h1" stroke="#1a1aff" stroke-width="1" fill="none" stroke-opacity="0.8"/>
<path d="M96 145h1M99 146h1M95 147h1M100 149h1m1 0h1M88 150h1m10 0h2M99 151h1m2 0h1m1 0h1M102 152h1M102 153h1M100 154h1M103 155h1M100 156h1M100 157h2M99 158h1M100 159h1M98 160h1m1 0h1M100 161h1M97 162h1M101 163h1M101 164h1M101 165h1M95 167h1m4 0h1M66 169h1m31 0h1M96 171h1M96 172h1M96 173h1M94 174h1M67 175h1M95 176h1M66 177h1M65 180h2m26 0h1M93 181h1M92 182h1M65 183h1M90 184h1M92 185h1M94 187h1M89 189h1M86 190h1M77 191h1m1 0h1M73 192h1m3 0h1m12 0h1M92 193h1" stroke="#10e010" stroke-width="1" fill="none" stroke-opacity="0.85"/>
<path d="M100 146h1M95 147h1M98 148h1m1 0h2M95 149h1m3 0h1m2 0h1M101 150h2M102 153h1M75 155h1M100 156h1M100 157h1m1 0h1M77 158h1M70 159h1m30 0h1M68 160h1m28 0h1m2 0h1M71 161h1M70 162h1M97 165h2M68 166h1M64 172h1m2 0h1M95 173h1M92 176h1m1 0h1M65 177h1M94 178h1M94 179h1M92 182h1M91 183h1M90 186h1M90 188h1M68 189h1m23 0h1M67 191h1m20 0h1M71 192h2" stroke="#10e010" stroke-width="1" fill="none" stroke-opacity="0.85"/>
<path d="M94 145h1M93 146h1M82 147h1m9 0h1M86 148h1m11 0h1M80 149h1m18 0h1M72 160h1M70 162h1M96 166h2M96 173h1M65 175h1M97 176h1M66 178h1M93 179h1M92 181h1M90 182h1m2 0h1M93 183h1M91 186h1M89 187h1m3 0h1M92 188h1" stroke="#ff2020" stroke-width="1" fill="none" stroke-opacity="0.8"/>
<path d="M89 144h1M86 145h1m7 0h1M86 146h1m1 0h1m4 0h1M99 147h1M88 148h1M73 152h1M75 153h1M98 166h1M68 167h1M97 168h1M98 169h1M95 171h1M95 174h1M96 176h1M93 177h1M95 178h1M93 179h2M91 180h1m1 0h1M93 181h1M93 183h1M91 184h1" stroke="#ff2020" stroke-width="1" fill="none" stroke-opacity="0.8"/>
<path d="M95 137h1M91 138h1M86 139h1m3 0h1M91 140h1m5 0h1m3 0h2M92 141h1m1 0h1m5 0h2M84 142h1m1 0h1m1 0h4m1 0h2m1 0h1m3 0h1M80 143h1m3 0h1m3 0h2m2 0h2m1 0h1m3 0h2m3 0h1M81 144h1m3 0h2m3 0h2m1 0h5m6 0h1M84 145h4m1 0h1m4 0h3M79 146h1m1 0h1m7 0h1m1 0h3m3 0h2M81 147h1m1 0h1m5 0h1m14 0h1m1 0h1M78 148h1m4 0h1m9 0h1M79 149h1m10 0h1m12 0h1M79 151h1" stroke="#000" stroke-width="1" fill="none" stroke-opacity="0.65"/>
<path d="M90 140h1m2 0h1m1 0h1M83 141h1m4 0h1m2 0h1m2 0h1m4 0h2M87 142h3m2 0h1m1 0h1m2 0h1M82 143h2m6 0h1m4 0h2m1 0h1m2 0h1M92 144h3M82 145h1m4 0h1m4 0h1m1 0h1m6 0h1M85 146h1M84 147h2m1 0h1M77 148h1M91 149h1" stroke="#2a2aff" stroke-width="1" fill="none" stroke-opacity="0.6"/>
<path d="M96 136h1M88 137h1M92 141h1M98 142h1m4 0h1M90 143h1m5 0h1m2 0h1m3 0h1M87 144h1m4 0h1M89 145h1M77 147h1M82 148h1M92 150h1" stroke="#10d010" stroke-width="1" fill="none" stroke-opacity="0.7"/>
<path d="M100 140h1m1 0h1M89 141h1m9 0h2M82 142h1m4 0h1m8 0h1m4 0h1m1 0h1M89 143h1m1 0h1m4 0h1m1 0h1M85 144h1m1 0h1m3 0h1m2 0h1m8 0h1M92 145h1m2 0h2m5 0h1M95 146h1M93 148h1m1 0h1M82 149h1" stroke="#ff3030" stroke-width="1" fill="none" stroke-opacity="0.6"/>
<path d="M99 134h1M102 144h1m1 0h1M104 145h1M99 146h1m1 0h3M98 147h1m2 0h2m2 0h1M101 148h2m1 0h3M102 149h4M102 150h1m1 0h2M104 151h3M107 152h1M105 153h3M105 154h2M104 155h1m1 0h3M105 156h2M104 157h2m2 0h1M103 158h1m1 0h3M104 159h1m1 0h2m1 0h1M106 160h1M105 161h4M106 162h1M105 163h1m1 0h1M106 164h1m3 0h1M107 165h2M109 167h1M109 169h1" stroke="#10e010" stroke-width="1" fill="none" stroke-opacity="0.85"/>
<path d="M102 140h1M103 142h1M97 143h1m3 0h1M102 144h2M95 145h1m5 0h1m1 0h2M98 146h1m1 0h1m1 0h1M100 147h1m1 0h1m2 0h1M101 148h3M100 149h1m1 0h5M104 150h3M104 151h3M104 152h2M103 153h1m1 0h3M105 154h3M103 155h1m1 0h4M105 156h3M103 157h2m1 0h1M104 158h4M105 159h1m1 0h1M105 160h1m1 0h3M105 161h3M107 162h1M107 163h3M106 164h1M107 165h1M110 166h1M107 171h1M110 172h1" stroke="#10e010" stroke-width="1" fill="none" stroke-opacity="0.85"/>
<path d="M88 138h1M93 139h1M92 140h1m1 0h3M87 141h1m2 0h1m3 0h3M97 142h1m6 0h1" stroke="#ff2020" stroke-width="1" fill="none" stroke-opacity="0.75"/>
<path d="M84 139h1m8 0h1M87 140h1M91 141h3m1 0h3M98 142h2M97 143h1m1 0h1" stroke="#ff2020" stroke-width="1" fill="none" stroke-opacity="0.75"/>
<path d="M116 317h2m14 0h1m5 0h1m3 0h1m4 0h1m2 0h1m1 0h1m7 0h1m1 0h1m5 0h1m3 0h1m12 0h1m1 0h2m19 0h1m1 0h1m4 0h1M165 319h1M175 320h1M164 321h1M172 322h1M165 323h1m13 0h1m1 0h1m7 0h1M148 324h1m7 0h1m17 0h1m2 0h1M144 325h1m1 0h1m2 0h1m5 0h1m9 0h1m51 0h1M74 326h1m71 0h1m25 0h1M155 327h1m19 0h1m41 0h1M205 328h1M140 329h1m49 0h1M153 330h1m12 0h1m23 0h1m5 0h1M151 331h1m18 0h1m27 0h1M164 332h1m51 0h1M160 333h1m8 0h1m14 0h1m13 0h1m5 0h1M153 334h1m11 0h1m18 0h1M171 335h1m11 0h1m6 0h1m4 0h1M164 336h1m15 0h1m8 0h1m4 0h1m2 0h1M173 337h1m2 0h1m28 0h1m4 0h1M171 338h1M195 339h1M162 340h1m25 0h1m17 0h1M126 341h1m33 0h1m14 0h2M217 342h1M127 343h1m67 0h1m21 0h1M172 344h1m3 0h1m9 0h1m3 0h1m10 0h1M175 345h1m10 0h1m10 0h1m13 0h1m2 0h1M167 346h1m4 0h1m39 0h1M98 347h1m73 0h1m17 0h1m5 0h1M167 348h1m32 0h2M119 349h1m50 0h1m3 0h1m18 0h1M200 352h1M192 353h1m11 0h1M182 354h1M116 355h1m97 0h1M203 356h1M180 357h1M110 358h1m67 0h1m9 0h1m1 0h1m17 0h1M106 359h1m1 0h1m64 0h1m1 0h1m4 0h1m12 0h1m1 0h1m15 0h1M108 360h2m3 0h1m56 0h1m38 0h1M102 361h1m2 0h1m68 0h1M104 362h1m75 0h1m1 0h1M109 363h1m65 0h1m12 0h1m17 0h1M106 364h1m83 0h1m6 0h1m7 0h1M198 365h1m4 0h1m11 0h1m1 0h1M98 366h1m9 0h1m74 0h1m2 0h1m8 0h1M202 367h1m4 0h2M97 368h1m8 0h2m83 0h1m20 0h1M93 370h1m3 0h1m5 0h1m109 0h1m1 0h1m1 0h1M88 371h1m113 0h1m1 0h1m1 0h1M178 372h1m19 0h1m15 0h1M103 373h1m66 0h1m10 0h1M86 374h1m103 0h1m17 0h1M180 375h1m24 0h1m2 0h1M183 376h1m23 0h1M172 377h1m44 0h1M173 378h1M85 379h1m86 0h1m22 0h1M203 381h1m6 0h1M96 382h1M89 383h1m112 0h1M90 384h1m5 0h1M83 386h1m111 0h1m16 0h1m1 0h1M196 387h1m16 0h1M217 390h1M92 391h1M88 393h1M67 395h1m19 0h1M80 396h1m136 0h1M76 397h1M88 399h1M80 406h1M77 407h1M75 410h1M73 412h1m3 0h1m3 0h1M67 415h1M73 416h1M73 417h1M71 420h1M75 422h1M73 423h1M76 425h1M73 426h1M68 427h1m7 0h1M74 428h1M72 429h2m6 0h1M72 430h1M78 431h1M68 432h1m5 0h1M74 433h1M72 441h1m2 0h1m140 0h1M210 442h1M182 443h2m22 0h1m7 0h1m1 0h1" stroke="#000" stroke-width="1" fill="none" stroke-opacity="0.5"/>
<path d="M110 317h1m5 0h1m4 0h1m3 0h2m1 0h1m6 0h1m2 0h1m8 0h1m2 0h1m9 0h1m1 0h1m8 0h1m1 0h1m4 0h1m16 0h1m6 0h1m3 0h1m8 0h1M186 318h1M192 319h1M162 320h1m36 0h1m15 0h1M148 321h1m12 0h1m12 0h1m7 0h1M212 322h1m4 0h1M164 323h1m12 0h1m7 0h1m11 0h1M147 324h1m19 0h1m3 0h1M142 325h1m10 0h1m5 0h2m23 0h1m2 0h1M162 326h1M150 327h1m61 0h1m1 0h1M170 328h1M155 329h1m28 0h1m1 0h1m9 0h1m10 0h1M161 330h1m1 0h1m27 0h1M140 331h1m65 0h1M153 332h1m40 0h1m17 0h1M157 333h1m6 0h1m14 0h1m8 0h1m27 0h1M141 334h1M134 335h1m66 0h1M172 336h1M185 337h1M180 338h2m1 0h1m33 0h1M169 339h2m7 0h1m1 0h1M176 340h1m14 0h1m20 0h1M172 341h1m3 0h1m19 0h1M178 342h1M175 343h1m18 0h1m10 0h1M180 344h1m3 0h1M183 345h1m11 0h1m4 0h1m4 0h1m5 0h1M206 346h1M121 348h1m63 0h1m8 0h1m1 0h1m20 0h1M215 349h1M119 350h1m60 0h1M187 351h1m6 0h1m18 0h1m2 0h1M185 352h1m24 0h1M97 353h1m115 0h1M182 354h1m8 0h2m19 0h1m4 0h1M113 355h1m76 0h1m7 0h1m4 0h1M108 356h1m102 0h1M114 357h1m65 0h1m12 0h1M208 358h1m6 0h2M93 359h1m10 0h2m64 0h1m13 0h1m1 0h1m25 0h1M200 361h1M187 362h1m18 0h1M102 363h1m76 0h1m9 0h1m8 0h1M179 364h1m1 0h1m8 0h1m6 0h1M215 365h1m1 0h1M103 366h1m73 0h1m5 0h1M170 367h1m15 0h1m2 0h1m10 0h1m11 0h1M189 368h1m13 0h1M178 369h1m23 0h1M180 370h1m16 0h1m6 0h2M97 371h1m89 0h1m28 0h2M169 372h1m15 0h1m31 0h1M170 373h1m15 0h1m10 0h1m6 0h1m7 0h1M97 374h1m102 0h1m11 0h1m2 0h1M100 375h1m71 0h1m26 0h1m3 0h1m12 0h1M85 376h1m107 0h1m7 0h1M93 377h1m1 0h2m1 0h1M169 378h1m4 0h1m33 0h2M174 379h1m29 0h1M168 380h1m2 0h1m31 0h1M203 381h1M208 382h1M195 383h1M195 384h1m7 0h1m13 0h1M217 385h1M83 386h1m100 0h1M73 387h1m139 0h1M211 388h1M183 390h1m29 0h1M87 394h1M88 397h1M85 402h1M63 409h1M77 411h1M78 413h1M72 414h1M75 420h1M64 422h1M74 423h1m2 0h1M71 425h1M74 427h1m2 0h1M68 431h1M76 432h1M78 433h1M72 438h1M72 439h1m4 0h1m139 0h1M68 442h1M73 443h1m128 0h1m2 0h1" stroke="#000" stroke-width="1" fill="none" stroke-opacity="0.5"/>
<path d="M100 317h1m6 0h1m5 0h1m6 0h1m3 0h1m3 0h1m8 0h1m5 0h1m3 0h1m5 0h2m42 0h1m5 0h1m8 0h1M183 318h1m16 0h1M150 319h1M158 320h1m58 0h1M173 321h1m11 0h2m2 0h1M167 322h1M148 323h1m9 0h1m6 0h1m6 0h1M151 324h1m52 0h1m4 0h1m1 0h1m5 0h1M143 325h1m10 0h1m11 0h1m17 0h1m18 0h1M142 326h1m20 0h1m7 0h1m3 0h1m40 0h1M139 327h1m25 0h1m17 0h1m3 0h1m22 0h1M168 328h2m38 0h1M147 329h1m13 0h1m1 0h1m1 0h1m8 0h1m12 0h1m21 0h1M150 330h1m2 0h1m3 0h1m17 0h1m15 0h1M142 331h1m29 0h1m34 0h1M134 332h1m42 0h1m4 0h1m6 0h1M133 333h1m18 0h1m19 0h1M161 334h1m15 0h1m4 0h1m4 0h1M170 335h1m46 0h1M189 336h1M183 337h1m7 0h1m25 0h1M162 338h1m48 0h1M184 339h1m20 0h1M186 340h1m7 0h1M197 341h1m18 0h1M180 342h1m15 0h1M124 343h1m35 0h1m8 0h1m3 0h1m24 0h1m13 0h1m3 0h1M187 344h1M167 345h1m1 0h2m26 0h1m1 0h1m10 0h1M202 346h1M181 347h1m21 0h1M174 348h1m12 0h1m22 0h1M190 349h1M168 350h1M170 351h1m2 0h1m7 0h1m9 0h1m2 0h1m1 0h1m5 0h1m3 0h1M177 353h1m2 0h1m4 0h1m31 0h1M202 354h1M193 355h1m1 0h1M109 356h1m82 0h1m6 0h1m17 0h1M106 357h1m107 0h1M171 359h1m5 0h1m30 0h1M104 360h1m69 0h1m22 0h1M189 361h1M109 362h1m62 0h1m30 0h1m13 0h1M98 363h1M101 364h1m105 0h1M101 365h1m88 0h1m24 0h1M99 366h1m91 0h1m2 0h1m6 0h1m6 0h1m1 0h1m6 0h1M88 367h1m89 0h1m35 0h1M180 368h1m36 0h1M102 369h1m66 0h1m30 0h1M102 370h1m97 0h1M178 371h1m14 0h1M181 372h1m16 0h1M90 373h1m91 0h1m11 0h1m13 0h2M93 374h1m78 0h2m5 0h1m37 0h1M97 375h1m78 0h1m17 0h1m22 0h1M96 376h1m77 0h1m3 0h1m25 0h1M89 377h1m75 0h1m1 0h1m1 0h1m35 0h1M87 378h1m8 0h1m102 0h1M96 379h1m86 0h1m26 0h1M207 380h2M96 381h1m1 0h1m86 0h1M210 382h1m6 0h1M209 383h1M209 385h1M89 388h1M80 391h1m3 0h1M79 392h1M84 393h1M85 394h1m129 0h1M217 395h1M77 401h1M78 414h1M68 419h1M66 428h1M74 429h1M79 430h1M66 432h1M63 433h1m10 0h1m1 0h1M76 437h1M64 438h1M68 440h1m142 0h1M67 442h1M204 443h1m9 0h1" stroke="#000" stroke-width="1" fill="none" stroke-opacity="0.5"/>
<path d="M161 317h1m24 0h1M143 328h2M138 329h1m7 0h1m23 0h1m1 0h1m44 0h1M146 330h1m25 0h1M155 331h1m61 0h1M136 332h1m7 0h1m11 0h1M147 333h1m1 0h1m5 0h1M148 334h2M138 335h1m3 0h1m1 0h2M134 336h1m2 0h1m4 0h1m6 0h4m13 0h1M136 337h1m5 0h1m12 0h2M134 338h1m7 0h1m10 0h1m1 0h1M132 339h1m2 0h1m6 0h3m4 0h1m3 0h1m10 0h1M131 340h1m1 0h2m19 0h1m13 0h1M132 341h1m19 0h1m1 0h1m1 0h1M129 342h1m2 0h1m16 0h1m2 0h1m2 0h1M134 343h1m18 0h1M152 344h1m5 0h1M154 345h1m8 0h1m16 0h1M126 346h1m31 0h1m14 0h1m7 0h1M126 347h1m32 0h1M160 348h1m2 0h1M123 349h1m38 0h1m12 0h1m15 0h1M124 350h1m52 0h1m13 0h1M164 351h1m13 0h1M124 352h1m36 0h1m4 0h1m6 0h1M121 353h1m40 0h1m7 0h1M120 354h1m40 0h1m5 0h1m8 0h1m2 0h1M162 355h1m4 0h1m4 0h1m4 0h1m2 0h1M163 356h1m3 0h1m4 0h1M118 357h1m50 0h1M118 358h1m46 0h1m9 0h1M117 359h1M118 360h1M115 362h1M114 363h1m50 0h1m1 0h1M167 364h1m3 0h1m2 0h1M166 365h1m13 0h1M165 366h2m7 0h1M173 367h1M108 369h1m75 0h1M167 370h1m5 0h1M164 371h2m24 0h1M105 372h1m69 0h1m15 0h1M106 373h1m82 0h1M104 374h1m60 0h1m1 0h1M158 375h2m8 0h2m14 0h1m2 0h1M160 376h1m25 0h1m1 0h1M101 377h1m56 0h1m9 0h1m26 0h1M161 378h1m17 0h1M155 379h1m6 0h1m2 0h1M152 380h1m1 0h1m1 0h1m3 0h1m4 0h2m9 0h1m1 0h2m12 0h1m1 0h1m4 0h1M149 381h1m19 0h2m18 0h1m8 0h1M158 382h1m3 0h1m10 0h2m3 0h1m9 0h1m8 0h2m4 0h1M145 383h2m2 0h1m19 0h2m2 0h1m7 0h3m4 0h1M166 384h1m16 0h1m2 0h1m19 0h1M148 385h2m4 0h2m1 0h1m2 0h1m6 0h1m4 0h1m15 0h1m2 0h1m8 0h1m5 0h1M145 386h2m2 0h1m11 0h1m2 0h1m1 0h1m9 0h1m15 0h2m7 0h1M96 387h1m55 0h1m6 0h1m1 0h1m5 0h2m20 0h1m9 0h1m9 0h1m7 0h1M96 388h1m50 0h1m5 0h1m1 0h1m7 0h2m1 0h1m3 0h1m6 0h4m1 0h1m17 0h1m1 0h1m2 0h2m2 0h1m6 0h1M95 389h1m40 0h1m12 0h2m1 0h1m2 0h1m24 0h1m27 0h1m8 0h1M95 390h1m38 0h2m2 0h1m8 0h1m8 0h2m2 0h1m5 0h1m3 0h1m8 0h1m11 0h2m15 0h1M95 391h1m44 0h1m12 0h1m6 0h1m2 0h1m8 0h1m1 0h1m1 0h2m9 0h1m1 0h1m5 0h1m2 0h1m5 0h4m3 0h1M157 392h1m17 0h1m1 0h1m1 0h1m1 0h1m3 0h1m2 0h1m9 0h1m5 0h1M136 393h2m2 0h2m19 0h1m9 0h1m2 0h1m11 0h2m5 0h2m3 0h1m1 0h1m2 0h1M139 394h1m1 0h1m13 0h1m8 0h2m3 0h1m8 0h1m1 0h1m4 0h1m7 0h2m1 0h1M96 395h1m58 0h1m2 0h2m1 0h1m2 0h1m5 0h1m2 0h1m7 0h1m3 0h2m1 0h1m12 0h1M96 396h1m44 0h1m2 0h1m10 0h1m3 0h2m1 0h1m1 0h2m5 0h1m3 0h1m3 0h1m32 0h1M91 397h1m1 0h1m3 0h1m45 0h1m16 0h1m1 0h2m16 0h1m3 0h1m8 0h1m21 0h1M91 398h1m1 0h1m3 0h1m1 0h1m50 0h1m3 0h1m6 0h1m3 0h1m2 0h1m1 0h1m2 0h1m1 0h1m13 0h2M92 399h1m1 0h1m1 0h1m3 0h1m48 0h1m9 0h1m1 0h1m1 0h1m4 0h1m1 0h1m6 0h2m2 0h2m8 0h1m1 0h2m2 0h1m14 0h2M123 400h1m2 0h2m19 0h1m1 0h1m4 0h1m11 0h1m14 0h2M93 401h1m3 0h1m3 0h1m19 0h1m15 0h2m8 0h1m2 0h1m2 0h1m14 0h1m2 0h2m24 0h1M86 402h1m1 0h1m3 0h1m28 0h1m2 0h1m11 0h1m2 0h1m12 0h1m18 0h1m21 0h1m3 0h1M99 403h1m39 0h1m11 0h1m12 0h1m3 0h2M91 404h1m35 0h1m6 0h1m13 0h2m66 0h1M91 405h1M119 406h1m11 0h1m15 0h1m2 0h2M91 407h1m26 0h2m1 0h1m9 0h2m2 0h1m1 0h1m6 0h1m3 0h1m3 0h1M88 408h1m3 0h1m6 0h1m26 0h1m12 0h1m3 0h1m2 0h1m3 0h1M86 409h1m3 0h1m12 0h2m11 0h1m3 0h2m1 0h1m2 0h1m1 0h1m2 0h1m6 0h1m1 0h1m1 0h1m5 0h1M82 410h1m2 0h1m4 0h1m2 0h1m4 0h1m25 0h1m5 0h1m7 0h2m6 0h1M83 411h1m3 0h1m13 0h1m13 0h1m1 0h2m1 0h1m2 0h1m4 0h1m1 0h1m5 0h1m8 0h1M87 412h1m1 0h1m3 0h1m5 0h1m2 0h1m12 0h1m1 0h1m1 0h1m7 0h1m3 0h1m8 0h1M100 413h1m23 0h1m4 0h1m3 0h1m6 0h1m1 0h1m2 0h1M84 414h1m2 0h1m12 0h1m17 0h2m1 0h1m1 0h1m4 0h3m1 0h1m84 0h1M83 415h2m3 0h1m2 0h1m5 0h1m1 0h1m8 0h1m11 0h1m2 0h1m1 0h1m1 0h1m2 0h1m7 0h2M88 416h2m1 0h1m6 0h1m31 0h1M78 417h1m7 0h1m1 0h1m16 0h1M83 418h2m2 0h1m2 0h1m16 0h1m22 0h1M78 419h1M76 420h1m8 0h1m1 0h1M82 421h1m7 0h1M87 422h2M82 423h1M79 424h1m3 0h1m1 0h1m1 0h1M82 425h2M80 426h1m136 0h1M82 427h1m1 0h2m131 0h1M82 429h1m133 0h1M216 430h1M80 431h1m130 0h1M81 432h1m127 0h1M79 433h2m126 0h2M82 434h1m124 0h2m3 0h1M82 435h1m127 0h1m1 0h1M79 436h2m127 0h1m3 0h2M82 437h1m124 0h1m2 0h1m6 0h1M79 438h1m2 0h1m130 0h1m3 0h1M82 439h1m112 0h1m8 0h1m2 0h1m6 0h1M206 440h2m5 0h1M184 441h2m8 0h1m3 0h3m5 0h1M172 442h1m1 0h1m1 0h1m5 0h1m5 0h1m1 0h1M177 443h1m10 0h1m5 0h1" stroke="#000" stroke-width="1" fill="none" stroke-opacity="0.65"/>
<path d="M186 317h1M172 328h1M143 329h2M138 330h1m78 0h1M136 331h1m2 0h1M136 332h1m7 0h2m10 0h1M138 333h1m8 0h1M135 334h1m7 0h1m5 0h1M137 335h1m7 0h1m3 0h2M144 336h1m13 0h1M150 337h2m4 0h1m2 0h1M136 338h1m9 0h1m11 0h1M132 339h1m2 0h1m1 0h2m7 0h1m6 0h1m11 0h1m20 0h1M138 340h2m4 0h1m3 0h2m7 0h1M135 341h1m2 0h1m6 0h1m5 0h1m6 0h1m6 0h1m2 0h1M128 342h1m2 0h1m5 0h1m9 0h2m2 0h3m11 0h2M131 343h1m17 0h1M155 344h1m10 0h1M130 345h1m20 0h2m4 0h2m4 0h1m15 0h1M130 346h1m32 0h1m1 0h1m12 0h1M162 347h2m14 0h1M161 348h1m17 0h2M124 349h2m36 0h1m16 0h1m11 0h1M124 350h1m52 0h1m1 0h1M123 351h1m1 0h1m37 0h1m2 0h1M161 352h1m2 0h1m2 0h1m4 0h1M121 353h1m44 0h1m2 0h1M120 354h1m49 0h1m1 0h1m1 0h1m3 0h1M118 355h2m44 0h1m4 0h1m2 0h1m2 0h1m40 0h1M170 356h1M165 357h1m9 0h1M163 358h1M117 359h2m47 0h2M117 360h1M167 361h1M115 362h1m51 0h2M165 363h1m3 0h1M164 364h2m4 0h1m2 0h1M173 365h1m7 0h1M164 366h1m8 0h1M164 367h1M110 368h1m63 0h1m9 0h2m4 0h1M184 369h1m5 0h1M191 370h1M165 371h1m1 0h1m6 0h2M165 372h1M164 373h2M158 375h1m3 0h1M161 376h1m35 0h1M181 377h1M156 378h2m3 0h1m25 0h1m5 0h1M158 379h1m2 0h1m18 0h1m1 0h1m5 0h2m1 0h1m6 0h2M154 380h1m4 0h1m5 0h1m12 0h2m10 0h1m18 0h1M155 381h1m2 0h1m5 0h1m17 0h1m5 0h1M146 382h1m7 0h2m2 0h1m1 0h2m1 0h1m1 0h1m11 0h1m8 0h1m1 0h1M159 383h1m4 0h1m1 0h1m3 0h1m3 0h1m5 0h1m1 0h1m6 0h1M98 384h1m45 0h1m4 0h1m10 0h1m2 0h2m7 0h1m8 0h1m15 0h1M146 385h1m3 0h1m2 0h1m5 0h1m2 0h1m3 0h2m1 0h1m3 0h1m9 0h1m3 0h1m12 0h1M154 386h2m2 0h1m1 0h1m1 0h2m2 0h1m10 0h1m13 0h1m13 0h1m1 0h1M146 387h1m30 0h2m19 0h1m2 0h1m15 0h1M97 388h1m53 0h2m1 0h2m1 0h2m4 0h1m1 0h1m2 0h1m4 0h3m1 0h3m6 0h1m3 0h1M149 389h2m1 0h1m12 0h1m5 0h1m2 0h3m9 0h1m2 0h1m16 0h1m3 0h1M145 390h2m4 0h1m2 0h1m16 0h1m1 0h1m2 0h1m1 0h2m8 0h1M95 391h1m40 0h1m3 0h2m6 0h1m1 0h1m3 0h2m5 0h1m23 0h1m5 0h1m1 0h1m6 0h1m6 0h1m1 0h1M96 392h1m40 0h1m23 0h1m1 0h1m7 0h2m8 0h1m10 0h1m3 0h1m1 0h2m5 0h1M96 393h1m40 0h1m2 0h1m16 0h1m2 0h1m2 0h1m7 0h2m1 0h2m9 0h1m7 0h1m7 0h1M135 394h1m2 0h2m3 0h1m14 0h3m1 0h1m4 0h3m2 0h1m12 0h1m5 0h1m11 0h2m5 0h1m2 0h1M136 395h1m19 0h1m2 0h1m3 0h1m14 0h1m2 0h1m6 0h1m3 0h1m1 0h2M92 396h1m1 0h1m66 0h1m11 0h2m3 0h1m9 0h1m2 0h1m1 0h1M95 397h1m46 0h1m1 0h1m10 0h1m3 0h1m7 0h1m4 0h1m13 0h1m3 0h1m1 0h1m19 0h2M90 398h1m3 0h2m2 0h1m52 0h2m3 0h1m4 0h1m1 0h1m2 0h1m1 0h1m8 0h1m11 0h1m3 0h1m1 0h1m15 0h1m2 0h1M93 399h2m49 0h1m6 0h1m3 0h2m2 0h4m3 0h1m4 0h2m2 0h1m21 0h1m15 0h1m2 0h1M91 400h1m4 0h1m27 0h2m20 0h2m11 0h1m3 0h1m1 0h1m1 0h1m3 0h1m21 0h1m1 0h1m19 0h1M88 401h1m3 0h1m3 0h1m28 0h2m1 0h1m10 0h1m13 0h2m11 0h1m2 0h2m45 0h1M88 402h3m5 0h1m39 0h1m15 0h1m10 0h1m31 0h1M90 403h1m2 0h1m1 0h1m1 0h1m1 0h1m19 0h1m1 0h1m3 0h1m11 0h1m12 0h1m13 0h1M86 404h3m7 0h1m22 0h1m7 0h2m5 0h1m81 0h1M136 405h1m79 0h1M89 406h1m1 0h1m26 0h1m9 0h1m1 0h1m16 0h1m69 0h1M86 407h1m33 0h1m7 0h1m1 0h1m3 0h1m2 0h2m7 0h1m3 0h1m66 0h1M87 408h1m3 0h1m11 0h1m1 0h1m18 0h1m1 0h3m5 0h1m13 0h1M90 409h3m9 0h1m13 0h1m4 0h1m6 0h1m2 0h1m7 0h2m4 0h1m1 0h1m4 0h1M85 410h1m2 0h1m4 0h1m10 0h1m9 0h2m3 0h2m3 0h1m11 0h1m1 0h2m2 0h1m1 0h1M91 411h1m8 0h1m2 0h1m15 0h2m7 0h3m9 0h2m75 0h1M83 412h2m6 0h1m6 0h2m2 0h1m14 0h1m6 0h1m5 0h2m3 0h1m5 0h1M91 413h1m2 0h1m2 0h1m1 0h1m21 0h1m4 0h1m8 0h1m3 0h1m5 0h1M89 414h2m3 0h2m11 0h1m13 0h1m8 0h1m86 0h1M79 415h1m2 0h1m1 0h1m3 0h1m3 0h1m6 0h1m6 0h1m1 0h1m9 0h1m3 0h1m8 0h1m4 0h1M78 416h1m4 0h2m15 0h1m22 0h1m1 0h1m2 0h1M78 417h1m2 0h1m2 0h2m3 0h1m14 0h1M79 418h2m25 0h1m1 0h1M78 419h1m10 0h1M90 420h1M78 421h1m1 0h1m2 0h1M85 422h2M80 423h2m1 0h1m5 0h1M82 424h1m2 0h1M79 425h1m137 0h1M83 428h1m132 0h2M217 430h1M82 431h2m126 0h1m5 0h1M83 432h1m127 0h1m5 0h1M82 433h1m128 0h1M82 434h1m129 0h1m2 0h1M204 435h1m7 0h1m3 0h2M80 436h1m122 0h1m13 0h1M82 437h1m124 0h2m5 0h1m2 0h1M212 438h3M82 439h1m112 0h2m8 0h1m6 0h1M195 440h1m4 0h1m7 0h1M82 441h1m95 0h2m1 0h1m4 0h1m7 0h1m3 0h1m3 0h1m1 0h1m8 0h2M83 442h1m88 0h1m3 0h1m9 0h1m2 0h1m1 0h1M168 443h1m1 0h1m17 0h1m2 0h2m1 0h1" stroke="#000" stroke-width="1" fill="none" stroke-opacity="0.65"/>
<path d="M138 329h2m4 0h1m1 0h1m26 0h1M144 330h1m72 0h1M136 332h1M143 333h1m11 0h1M137 335h2m3 0h1m15 0h1M138 336h2m5 0h1m12 0h1m7 0h2M133 337h2m9 0h2m12 0h1m7 0h2M140 338h2m3 0h1m2 0h1m1 0h1m4 0h1m2 0h1m6 0h1m20 0h1M130 339h2m5 0h1m3 0h1m5 0h2m2 0h1m1 0h1m12 0h1m19 0h1M139 340h1m4 0h2m2 0h1m3 0h1m2 0h1m3 0h2m7 0h1M130 341h1m2 0h2m3 0h1m7 0h1m1 0h1m16 0h1M132 342h3m11 0h1m3 0h1m7 0h1m7 0h1M130 343h2m18 0h1m1 0h1m3 0h1m2 0h1m5 0h1M128 344h1m2 0h1m23 0h1M131 345h1m22 0h1m1 0h1m2 0h1m20 0h1M126 346h1m32 0h1m4 0h1m8 0h1M125 347h2m35 0h1m2 0h1M165 348h1M123 350h1m37 0h2m2 0h1m9 0h1M124 351h1m40 0h1m8 0h1M122 352h2M123 353h1m37 0h2M162 354h2M170 355h2m4 0h1m3 0h1m36 0h1M162 356h1m2 0h3M162 357h2m2 0h1m4 0h1m3 0h1M117 359h1m46 0h1m1 0h2M164 360h2M167 361h1M115 362h1m49 0h1M111 363h2m52 0h1M111 364h1m52 0h1m6 0h2M170 365h1m9 0h1M168 366h1M165 367h1m1 0h1m1 0h1m4 0h1M165 368h1m2 0h1m4 0h2M107 369h1m75 0h1m1 0h1M173 370h2M106 371h1m1 0h1m68 0h1m7 0h1m4 0h2M176 372h1m14 0h1M165 373h1m7 0h1m17 0h1M160 374h1m2 0h1m1 0h1m32 0h1M163 375h1m4 0h1m15 0h1m11 0h1M180 376h1m6 0h1m7 0h2M156 377h1m2 0h1m29 0h1M155 378h1m22 0h1m1 0h1m7 0h1m8 0h1M100 379h1m52 0h1m4 0h1m5 0h1m15 0h3m5 0h1m3 0h1m5 0h1M156 380h1m1 0h1m1 0h1m28 0h1m3 0h1M149 381h1m14 0h1m2 0h1m8 0h1M154 382h1m5 0h1m1 0h1m14 0h1M146 383h2m1 0h1m4 0h1m17 0h1m4 0h2m4 0h1m14 0h1m5 0h1M147 384h1m16 0h1m11 0h1m6 0h1m4 0h1m10 0h1m6 0h1M144 385h1m3 0h1m2 0h2m1 0h1m1 0h1m3 0h1m17 0h1m20 0h1m1 0h1m4 0h1M147 386h1m3 0h1m6 0h1m13 0h2m13 0h1m3 0h2m5 0h2m5 0h1m11 0h1M151 387h1m4 0h1m1 0h1m5 0h2m4 0h1m1 0h1m7 0h1m1 0h1m6 0h1m15 0h1m10 0h2M146 388h1m3 0h1m6 0h2m3 0h1m4 0h1m5 0h1m4 0h1m1 0h1m1 0h2m8 0h2m13 0h1m1 0h1m7 0h1M147 389h1m3 0h1m4 0h1m3 0h1m6 0h1m3 0h1m1 0h1m2 0h1m9 0h1m2 0h1m9 0h1m1 0h1m2 0h1m12 0h1M96 390h1m41 0h1m8 0h1m10 0h3m1 0h1m3 0h1m18 0h1m5 0h2m5 0h1m3 0h1m4 0h1M139 391h1m6 0h1m15 0h1m3 0h1m18 0h1m6 0h1m3 0h1m1 0h1m1 0h2m4 0h1m1 0h2M134 392h1m2 0h1m3 0h1m6 0h1m1 0h1m13 0h1m3 0h1m6 0h1m2 0h1m10 0h1m1 0h1m3 0h1m4 0h2m2 0h2m3 0h1m1 0h1M161 393h1m1 0h1m4 0h1m4 0h1m24 0h1m1 0h1m1 0h1M95 394h1m41 0h1m5 0h1m26 0h1m10 0h1m1 0h2m3 0h2m21 0h2M140 395h1m15 0h1m4 0h1m1 0h1m6 0h1m6 0h2m1 0h2m2 0h2m1 0h1m2 0h1m4 0h2m6 0h1m7 0h1M91 396h1m1 0h2m47 0h2m20 0h2m4 0h2m5 0h1m1 0h1m5 0h1m1 0h1m2 0h1m20 0h3M155 397h3m8 0h1m1 0h2m6 0h1m6 0h2m9 0h1m21 0h1M91 398h2m2 0h1m4 0h2m43 0h1m8 0h1m1 0h1m4 0h1m1 0h1m4 0h1m5 0h2m4 0h1m6 0h1m7 0h2m16 0h1m1 0h2M94 399h1m3 0h3m43 0h1m11 0h1m6 0h1m3 0h1m6 0h2m4 0h1m12 0h1m20 0h2M92 400h1m33 0h2m24 0h1m5 0h1m5 0h1m4 0h1m3 0h2m19 0h1m1 0h2m1 0h1M91 401h1m2 0h1m3 0h2m1 0h1m19 0h1m23 0h1m9 0h3m7 0h1m26 0h1m6 0h1m16 0h1M91 402h1m2 0h1m4 0h1m19 0h1m4 0h1m2 0h1m7 0h1m10 0h1m1 0h1m15 0h1m8 0h1m19 0h2m22 0h1M86 403h1m12 0h1m27 0h1m6 0h1m1 0h1m2 0h1m26 0h3M87 404h1m30 0h1m1 0h1m7 0h1m8 0h1m10 0h2m1 0h1m12 0h2M86 405h1m3 0h1m26 0h1m14 0h1m2 0h1m29 0h1M92 406h1m26 0h2m13 0h1m14 0h3M88 407h1m29 0h1m15 0h1m10 0h1m70 0h1M88 408h1m4 0h1m7 0h1m14 0h1m6 0h1m1 0h1m3 0h1m15 0h1M83 409h1m2 0h1m17 0h1m15 0h1m9 0h1m11 0h1M85 410h1m36 0h1m2 0h1m10 0h1m5 0h3M83 411h2m8 0h1m22 0h1m5 0h1m15 0h1m78 0h1M95 412h1m4 0h1m1 0h1m14 0h1m3 0h2m2 0h1m13 0h1m1 0h1M81 413h1m1 0h1m3 0h1m7 0h2m3 0h1m7 0h1m11 0h1m14 0h1M87 414h1m2 0h1m1 0h1m14 0h1m10 0h1m2 0h1m4 0h1m4 0h1m2 0h1m1 0h1m1 0h2m1 0h1M97 415h1m7 0h2m22 0h1m7 0h2M79 416h1m4 0h1m1 0h1m11 0h1m7 0h1m1 0h1m13 0h1m1 0h1m3 0h1m1 0h1M81 417h2m3 0h1m1 0h1m1 0h1m39 0h1M82 418h1m7 0h1m15 0h1m1 0h1M77 419h1m4 0h3m1 0h1M79 420h2m3 0h1M79 422h1m6 0h2M83 423h1m5 0h1M80 424h1m8 0h1M79 426h1m1 0h1m4 0h1m130 0h1M82 427h1M84 428h1m131 0h1M216 430h1M83 431h1M210 432h1M81 433h1m125 0h1m8 0h1M210 434h1M81 435h1m121 0h1m11 0h1M203 436h1m5 0h1m5 0h1M81 437h1m125 0h1m5 0h1m3 0h1M205 438h1m10 0h1M80 439h1m112 0h1m10 0h1m1 0h1M193 440h1m2 0h1m4 0h1m2 0h1m4 0h1M202 441h1m4 0h1M81 442h2m90 0h1m1 0h1m1 0h1m1 0h1m5 0h2m4 0h1m3 0h1m1 0h1m17 0h1M170 443h3m1 0h1m2 0h1m11 0h1m5 0h1" stroke="#000" stroke-width="1" fill="none" stroke-opacity="0.65"/>
<path d="M141 340h1M144 341h1M138 342h1m3 0h1M138 343h1m1 0h2m4 0h1M132 344h1m2 0h4m4 0h1m1 0h2M133 345h2m2 0h1m1 0h4m1 0h1m4 0h2M133 346h1m1 0h2m6 0h1m1 0h2m1 0h3m4 0h1M128 347h1m5 0h2m2 0h1m1 0h3m1 0h4m2 0h1m2 0h1m1 0h1M126 348h2m1 0h1m3 0h2m1 0h3m1 0h5m2 0h2m3 0h1m1 0h1M131 349h1m1 0h1m2 0h1m1 0h1m7 0h3m7 0h3M127 350h2m2 0h1m3 0h1m2 0h4m1 0h4m1 0h3m3 0h1m4 0h2M126 351h1m2 0h1m3 0h1m8 0h1m1 0h3m1 0h2m1 0h1m1 0h1m1 0h1m4 0h1M125 352h1m3 0h1m1 0h1m3 0h3m3 0h1m2 0h5m1 0h2m1 0h3M128 353h1m1 0h4m1 0h1m2 0h4m1 0h2m1 0h6m3 0h1m1 0h2M122 354h1m2 0h1m6 0h2m2 0h1m1 0h1m2 0h4m1 0h3m1 0h4m1 0h1m1 0h1M120 355h3m2 0h1m2 0h2m1 0h1m1 0h1m1 0h3m1 0h5m2 0h5m1 0h1m1 0h3m1 0h1M120 356h3m5 0h3m1 0h1m1 0h5m1 0h20M121 357h1m3 0h5m3 0h1m1 0h1m1 0h5m1 0h18M122 358h2m1 0h3m3 0h5m1 0h4m2 0h12m1 0h1m2 0h3M122 359h1m1 0h1m2 0h4m1 0h3m1 0h20m3 0h1M121 360h1m5 0h5m1 0h4m2 0h13m1 0h5m2 0h2M119 361h2m1 0h1m2 0h2m1 0h1m1 0h21m2 0h1m1 0h5m1 0h1m2 0h1M119 362h1m3 0h1m2 0h6m1 0h1m2 0h2m1 0h7m1 0h5m1 0h1m1 0h2m2 0h2m2 0h1M122 363h4m1 0h1m1 0h3m2 0h12m1 0h11m1 0h1m1 0h1M113 364h2m1 0h1m4 0h1m1 0h1m1 0h2m1 0h30m2 0h1m1 0h2M112 365h1m4 0h7m1 0h2m1 0h2m1 0h22m1 0h1m1 0h2m1 0h1m3 0h1M113 366h2m2 0h2m1 0h1m1 0h1m1 0h2m2 0h28m2 0h1m2 0h1M112 367h2m1 0h1m2 0h2m1 0h1m1 0h4m1 0h22m1 0h5m1 0h2m2 0h2M111 368h1m1 0h2m4 0h1m1 0h31m1 0h2m1 0h1m1 0h3m2 0h1M112 369h5m1 0h4m1 0h27m2 0h3m6 0h1M110 370h1m1 0h2m1 0h1m2 0h1m1 0h1m2 0h16m1 0h10m2 0h1m1 0h2m4 0h2M109 371h1m3 0h2m1 0h3m1 0h23m1 0h4m1 0h4m1 0h4m3 0h2M108 372h4m2 0h1m1 0h5m1 0h26m1 0h3m3 0h1m1 0h1M108 373h1m2 0h3m1 0h25m2 0h5m1 0h1m5 0h1m1 0h4m2 0h1M106 374h1m1 0h5m1 0h25m1 0h5m2 0h3m1 0h1m3 0h1M106 375h1m1 0h5m1 0h3m1 0h5m2 0h15m1 0h4m1 0h1m1 0h5m1 0h1m2 0h1M105 376h1m1 0h2m1 0h2m2 0h3m1 0h16m1 0h5m1 0h2m2 0h1m6 0h2m1 0h1M103 377h2m1 0h1m1 0h3m1 0h24m2 0h2m1 0h3m1 0h1m1 0h1m2 0h1m3 0h1m5 0h1M102 378h3m1 0h6m2 0h26m1 0h6m4 0h1M104 379h16m1 0h14m3 0h2m1 0h4m1 0h2m2 0h1M104 380h2m1 0h19m1 0h7m1 0h6m1 0h2m1 0h1m2 0h1M103 381h3m1 0h1m1 0h18m1 0h11m1 0h4m1 0h1m1 0h1m4 0h1M101 382h1m1 0h9m1 0h28m1 0h1m9 0h2M102 383h1m1 0h28m1 0h1m1 0h1m2 0h1m1 0h2M100 384h21m1 0h3m1 0h1m1 0h1m1 0h1m2 0h2m1 0h1m1 0h1m1 0h1m1 0h1m10 0h1m11 0h1M98 385h1m1 0h1m1 0h4m2 0h21m1 0h1m2 0h1m5 0h1M98 386h2m1 0h3m1 0h17m1 0h6m1 0h1m1 0h1m1 0h2m3 0h2m1 0h3M99 387h1m2 0h1m1 0h18m1 0h3m1 0h1m5 0h3m1 0h1m2 0h2M99 388h1m2 0h19m1 0h3m2 0h2m2 0h1m3 0h1m1 0h3m3 0h2M97 389h1m2 0h1m1 0h1m1 0h8m1 0h7m1 0h10m1 0h2m5 0h1m3 0h1M97 390h1m1 0h1m1 0h2m1 0h19m1 0h2m5 0h2m7 0h2m10 0h1M97 391h1m5 0h12m2 0h2m1 0h1m3 0h1m3 0h1m14 0h1M98 392h16m1 0h2m1 0h3m1 0h1m1 0h3m16 0h1m9 0h1m54 0h1M102 393h2m1 0h2m1 0h1m1 0h1m1 0h1m1 0h2m1 0h5m1 0h2m3 0h3m1 0h1m1 0h1m13 0h1m4 0h1m53 0h1m1 0h1M97 394h1m2 0h2m1 0h2m1 0h4m1 0h2m2 0h1m7 0h1m3 0h4m14 0h1m1 0h1m1 0h3m56 0h1M100 395h1m1 0h1m1 0h1m1 0h3m2 0h4m2 0h1m1 0h1m2 0h1m1 0h2m3 0h1m4 0h1m3 0h1m6 0h1m2 0h1m2 0h3m44 0h1m6 0h1m1 0h2M97 396h1m4 0h1m2 0h1m1 0h4m1 0h2m1 0h2m1 0h1m2 0h3m2 0h1m3 0h1m3 0h2m2 0h1m9 0h2m1 0h1m2 0h1m52 0h1M98 397h1m5 0h1m3 0h1m1 0h2m1 0h2m1 0h3m3 0h2m2 0h2m2 0h1m3 0h1m11 0h1m6 0h2m44 0h1m1 0h1m2 0h2m2 0h1M102 398h1m2 0h3m1 0h1m2 0h2m7 0h2m5 0h1m3 0h1m5 0h1m1 0h1m8 0h1m34 0h1m13 0h1m2 0h1m2 0h3m2 0h1M102 399h2m2 0h1m1 0h2m3 0h1m3 0h1m4 0h1m5 0h1m8 0h2m2 0h2m5 0h1m34 0h1m6 0h1m12 0h1m1 0h1m1 0h1m1 0h1m1 0h1M103 400h3m1 0h1m3 0h2m2 0h1m2 0h1m12 0h1m3 0h1m1 0h2m1 0h3m32 0h1m2 0h1m5 0h2m1 0h3m13 0h2m1 0h2M104 401h3m1 0h1m1 0h1m1 0h1m1 0h1m3 0h1m10 0h1m4 0h1m7 0h3m16 0h1m13 0h3m2 0h1m3 0h1m1 0h1m1 0h1m1 0h2m8 0h1m4 0h2m2 0h1m1 0h1M102 402h1m6 0h3m2 0h1m1 0h3m14 0h1m8 0h1m1 0h1m8 0h1m7 0h1m17 0h1m1 0h1m1 0h1m5 0h2m10 0h1m2 0h1m2 0h2m3 0h1m1 0h1M103 403h2m1 0h3m2 0h3m2 0h1m13 0h1m10 0h3m1 0h1m8 0h3m1 0h2m1 0h1m8 0h1m2 0h1m1 0h2m1 0h1m5 0h1m2 0h2m8 0h1m3 0h1m1 0h2m1 0h5m1 0h3M93 404h1m4 0h1m3 0h1m19 0h2m8 0h1m5 0h1m2 0h2m13 0h1m2 0h2m1 0h1m6 0h1m1 0h1m1 0h1m2 0h2m1 0h2m2 0h1m1 0h1m7 0h2m2 0h1m2 0h1m4 0h1m1 0h4m2 0h1m1 0h1M94 405h1m5 0h7m4 0h1m3 0h2m5 0h2m5 0h1m1 0h1m5 0h2m1 0h1m2 0h1m2 0h1m3 0h1m2 0h2m1 0h2m2 0h1m7 0h2m1 0h1m3 0h2m3 0h1m4 0h3m3 0h1m5 0h2m1 0h5m3 0h3m2 0h3M95 406h2m3 0h1m2 0h1m3 0h1m1 0h1m4 0h1m1 0h2m3 0h1m2 0h1m13 0h1m2 0h1m4 0h1m9 0h1m1 0h1m2 0h1m4 0h1m1 0h1m3 0h1m5 0h2m1 0h1m1 0h1m3 0h1m1 0h1m1 0h1m2 0h1m6 0h1m3 0h3m2 0h2m1 0h1m1 0h1M95 407h1m5 0h1m6 0h1m3 0h1m2 0h1m6 0h2m1 0h3m13 0h2m12 0h4m2 0h1m6 0h1m8 0h3m2 0h1m1 0h1m1 0h1m1 0h3m4 0h2m1 0h1m3 0h1m1 0h1m1 0h2m3 0h1M90 408h1m3 0h4m9 0h3m2 0h1m20 0h1m20 0h2m2 0h1m2 0h2m1 0h1m3 0h3m2 0h2m2 0h1m2 0h2m1 0h1m2 0h1m4 0h4m2 0h2m3 0h2m4 0h2m1 0h2M88 409h1m7 0h1m10 0h1m5 0h1m19 0h1m20 0h1m2 0h1m1 0h2m6 0h1m1 0h1m1 0h3m3 0h1m2 0h1m2 0h1m2 0h2m6 0h1m2 0h1m1 0h4m2 0h2m2 0h1m1 0h1m2 0h1M86 410h1m8 0h1m10 0h1m3 0h1m1 0h1m19 0h1m1 0h1m14 0h2m1 0h1m1 0h1m8 0h1m1 0h6m2 0h2m1 0h1m2 0h2m2 0h1m1 0h1m2 0h3m2 0h1m4 0h1m2 0h2m1 0h9m2 0h2M86 411h1m7 0h1m1 0h1m13 0h1m36 0h1m2 0h1m4 0h1m6 0h1m1 0h2m2 0h2m1 0h1m1 0h1m2 0h2m1 0h1m1 0h1m3 0h1m1 0h1m1 0h1m4 0h2m3 0h1m1 0h1m1 0h1m2 0h3m1 0h1m1 0h2m2 0h1M105 412h1m6 0h1m1 0h1m33 0h3m3 0h1m1 0h1m1 0h1m1 0h5m1 0h1m5 0h4m1 0h4m1 0h2m3 0h2m2 0h1m2 0h1m1 0h3m1 0h3m1 0h2m2 0h4m1 0h1m1 0h2M103 413h2m6 0h1m34 0h1m2 0h1m8 0h1m1 0h1m2 0h1m1 0h2m2 0h5m6 0h1m3 0h1m1 0h1m1 0h7m1 0h2m3 0h2m2 0h1m3 0h1m1 0h3M109 414h1m1 0h2m4 0h1m25 0h1m1 0h1m1 0h1m1 0h2m6 0h1m2 0h3m1 0h3m2 0h2m2 0h3m4 0h4m1 0h1m1 0h4m2 0h1m1 0h7m3 0h3m1 0h6m1 0h1M86 415h1m7 0h1m7 0h2m9 0h2m1 0h2m24 0h1m4 0h1m2 0h1m1 0h1m1 0h3m1 0h1m2 0h1m2 0h1m1 0h1m1 0h5m1 0h2m1 0h1m2 0h1m1 0h3m1 0h1m1 0h4m1 0h1m1 0h1m1 0h3m2 0h1m1 0h5m2 0h4M96 416h1m12 0h1m1 0h3m3 0h1m15 0h1m2 0h1m10 0h1m1 0h1m2 0h1m1 0h3m2 0h1m2 0h5m6 0h4m1 0h2m1 0h1m1 0h1m2 0h2m1 0h4m2 0h3m1 0h1m1 0h1m1 0h1m6 0h4m2 0h1M94 417h2m7 0h1m7 0h1m2 0h1m5 0h4m8 0h2m4 0h1m5 0h1m3 0h1m1 0h1m2 0h2m2 0h2m1 0h10m4 0h2m1 0h2m1 0h3m1 0h2m1 0h4m2 0h3m1 0h2m1 0h2m1 0h5m1 0h6m1 0h1M91 418h1m3 0h2m3 0h2m9 0h1m2 0h1m3 0h1m2 0h1m4 0h1m1 0h1m3 0h1m4 0h1m1 0h1m1 0h1m3 0h2m1 0h2m3 0h3m1 0h3m1 0h1m3 0h1m3 0h3m2 0h3m3 0h1m2 0h1m2 0h4m1 0h8m1 0h6m3 0h1m1 0h1m4 0h1M92 419h2m1 0h1m1 0h1m3 0h2m3 0h1m4 0h1m3 0h1m3 0h1m4 0h2m5 0h1m3 0h1m3 0h1m2 0h1m1 0h1m1 0h3m1 0h5m1 0h1m1 0h2m3 0h1m1 0h3m2 0h1m1 0h6m3 0h1m2 0h2m1 0h3m1 0h5m2 0h6m2 0h3m1 0h4m1 0h1m1 0h1M95 420h1m2 0h1m1 0h1m2 0h1m1 0h1m2 0h1m2 0h3m2 0h1m2 0h1m3 0h1m1 0h1m8 0h1m5 0h3m2 0h1m1 0h4m1 0h2m2 0h6m1 0h1m1 0h3m6 0h2m3 0h2m4 0h3m1 0h4m1 0h2m1 0h1m1 0h1m3 0h1m1 0h2m1 0h2m2 0h1m1 0h1m1 0h2M91 421h1m1 0h1m1 0h1m2 0h1m1 0h2m1 0h3m3 0h2m1 0h1m2 0h1m1 0h1m1 0h2m2 0h1m1 0h1m4 0h3m2 0h1m1 0h1m1 0h2m1 0h2m2 0h2m2 0h2m2 0h1m1 0h1m1 0h1m1 0h2m1 0h2m1 0h1m1 0h1m1 0h3m1 0h5m2 0h1m2 0h2m3 0h2m2 0h1m1 0h3m3 0h3m2 0h1m3 0h1m1 0h2m1 0h1m1 0h1M91 422h1m1 0h1m4 0h1m1 0h2m1 0h3m1 0h2m1 0h1m4 0h1m1 0h1m1 0h2m2 0h2m4 0h1m1 0h1m2 0h3m1 0h2m1 0h3m1 0h3m1 0h2m1 0h6m2 0h2m3 0h2m4 0h2m1 0h3m1 0h2m2 0h1m2 0h1m1 0h2m1 0h1m4 0h1m1 0h3m1 0h3m3 0h4m1 0h4m1 0h1M96 423h5m6 0h2m1 0h2m1 0h2m1 0h2m3 0h1m1 0h1m1 0h2m1 0h1m2 0h1m1 0h1m1 0h2m2 0h1m1 0h3m1 0h1m1 0h2m1 0h1m1 0h4m1 0h10m1 0h7m2 0h1m4 0h1m1 0h1m2 0h1m2 0h4m2 0h3m1 0h1m2 0h1m1 0h2m1 0h1m3 0h5M90 424h3m6 0h4m6 0h1m2 0h3m2 0h2m2 0h2m1 0h1m2 0h2m2 0h1m1 0h1m1 0h5m1 0h3m1 0h11m1 0h4m1 0h6m1 0h2m1 0h3m2 0h1m2 0h2m1 0h2m3 0h1m3 0h1m3 0h2m1 0h4m1 0h2m2 0h3m1 0h1m1 0h1M92 425h2m1 0h6m1 0h4m1 0h1m1 0h1m2 0h1m3 0h1m1 0h2m1 0h2m1 0h3m1 0h1m1 0h7m1 0h2m1 0h4m2 0h11m1 0h4m1 0h8m1 0h4m2 0h3m1 0h1m1 0h5m4 0h3m1 0h2m2 0h2m1 0h2m1 0h2m1 0h1m1 0h1M90 426h1m1 0h2m2 0h1m1 0h2m1 0h2m2 0h1m2 0h8m2 0h7m1 0h1m2 0h3m1 0h2m1 0h2m1 0h1m1 0h5m1 0h9m1 0h7m2 0h3m3 0h2m2 0h2m1 0h2m1 0h8m3 0h2m1 0h1m1 0h2m4 0h1m2 0h1m2 0h6M88 427h2m2 0h4m1 0h2m1 0h4m1 0h3m1 0h1m1 0h6m1 0h5m1 0h3m1 0h2m1 0h3m1 0h9m1 0h5m2 0h7m1 0h10m2 0h1m1 0h2m1 0h1m2 0h1m4 0h4m1 0h2m3 0h3m2 0h1m1 0h3m1 0h5M85 428h1m2 0h6m2 0h20m1 0h9m1 0h19m1 0h2m1 0h12m1 0h4m2 0h1m2 0h1m3 0h2m6 0h2m1 0h1m1 0h2m4 0h1m1 0h2m2 0h2m1 0h2m1 0h3M87 429h1m1 0h2m2 0h2m1 0h2m1 0h4m1 0h1m1 0h14m1 0h5m1 0h11m1 0h3m1 0h25m1 0h2m2 0h1m1 0h1m1 0h1m2 0h1m1 0h1m1 0h1m1 0h2m2 0h5m2 0h4m2 0h2m1 0h1m1 0h2M87 430h1m1 0h21m1 0h12m1 0h5m1 0h21m1 0h13m1 0h6m1 0h2m1 0h1m1 0h1m1 0h3m1 0h1m1 0h1m1 0h6m1 0h1m1 0h3m2 0h1m3 0h1m2 0h1m3 0h1M85 431h31m1 0h23m1 0h24m1 0h5m1 0h3m3 0h3m1 0h1m1 0h6m1 0h3m1 0h1m2 0h2m1 0h2m4 0h2m4 0h1M84 432h2m3 0h2m1 0h3m1 0h4m1 0h8m1 0h21m1 0h8m1 0h30m1 0h1m1 0h1m1 0h2m1 0h2m2 0h1m1 0h1m2 0h4m2 0h1m5 0h1m3 0h1m1 0h1m6 0h1m1 0h1M85 433h12m2 0h24m1 0h10m1 0h3m1 0h29m2 0h1m2 0h2m2 0h1m2 0h2m1 0h1m2 0h3m2 0h2m1 0h1m1 0h1m1 0h2m1 0h1m1 0h3m8 0h1M86 434h1m1 0h37m1 0h39m1 0h1m1 0h2m1 0h2m1 0h3m1 0h2m2 0h2m1 0h1m8 0h3m1 0h2m1 0h1m4 0h1M85 435h11m1 0h12m1 0h39m1 0h17m1 0h7m1 0h1m1 0h1m1 0h1m4 0h2m1 0h4M83 436h2m1 0h5m1 0h9m1 0h21m1 0h37m1 0h4m1 0h1m1 0h1m1 0h2m1 0h1m2 0h1m1 0h1m2 0h2m1 0h2m7 0h1m5 0h1m4 0h1M84 437h1m2 0h28m1 0h32m2 0h9m1 0h1m1 0h7m2 0h3m5 0h1m1 0h2m1 0h1m1 0h1m1 0h2m5 0h2m6 0h1m1 0h1M85 438h15m1 0h35m1 0h18m1 0h12m1 0h1m2 0h1m6 0h3m1 0h2m3 0h1m1 0h1m5 0h2m2 0h3M85 439h1m1 0h4m1 0h29m1 0h12m1 0h6m1 0h12m1 0h2m2 0h8m1 0h1m2 0h3m1 0h1m2 0h1m2 0h1m3 0h1m5 0h1m8 0h3M84 440h1m1 0h34m1 0h21m1 0h13m1 0h8m1 0h2m1 0h1m3 0h2m1 0h1m3 0h1m1 0h1m1 0h1m2 0h2M85 441h1m1 0h5m1 0h22m1 0h18m1 0h3m1 0h3m1 0h17m1 0h5m3 0h1m6 0h1m11 0h1m2 0h1M85 442h1m1 0h1m1 0h5m1 0h4m1 0h11m1 0h12m1 0h1m2 0h1m1 0h1m1 0h6m1 0h5m1 0h5m1 0h2m1 0h2m1 0h5m2 0h6M88 443h1m1 0h2m1 0h1m1 0h1m3 0h5m1 0h4m1 0h1m1 0h1m1 0h5m3 0h3m1 0h7m1 0h5m1 0h14m1 0h2m2 0h1m1 0h2m2 0h1" stroke="#000" stroke-width="1" fill="none" stroke-opacity="0.9"/>
<path d="M140 340h3M139 341h1m2 0h3M140 342h1m2 0h1M140 343h1m1 0h1m2 0h3M132 344h1m3 0h1m1 0h4m6 0h1M134 345h1m2 0h2m1 0h2m4 0h1m2 0h1M131 346h3m4 0h1m3 0h1m2 0h1m1 0h1m1 0h2M130 347h2m2 0h1m4 0h1m7 0h1m1 0h1m3 0h2m1 0h1M128 348h1m1 0h6m3 0h1m1 0h3m3 0h2m1 0h1m2 0h2m3 0h1M128 349h1m2 0h1m3 0h1m1 0h1m2 0h3m2 0h1m2 0h3m3 0h1m2 0h3M126 350h2m1 0h3m1 0h3m1 0h1m1 0h1m4 0h2m1 0h2m1 0h1m1 0h1m1 0h1m1 0h1m1 0h1M128 351h2m1 0h1m1 0h1m1 0h6m2 0h3m1 0h4m1 0h1m4 0h1m2 0h1M128 352h1m2 0h2m2 0h4m2 0h2m1 0h4m1 0h1m1 0h1m5 0h3M124 353h1m2 0h5m3 0h1m3 0h7m1 0h5m1 0h1M122 354h1m2 0h1m1 0h2m2 0h3m2 0h2m1 0h1m1 0h2m2 0h2m1 0h4m5 0h1m1 0h1M121 355h1m4 0h1m2 0h1m1 0h1m2 0h1m3 0h2m1 0h11m2 0h5M120 356h1m1 0h3m2 0h1m1 0h1m5 0h1m1 0h3m1 0h13m3 0h1m1 0h1M121 357h1m4 0h1m1 0h1m2 0h1m2 0h1m1 0h12m1 0h3m1 0h4m2 0h1M119 358h1m1 0h4m1 0h1m1 0h3m1 0h7m2 0h16m1 0h1M124 359h8m2 0h1m1 0h5m1 0h5m1 0h4m1 0h4m1 0h2M123 360h2m2 0h1m2 0h14m1 0h2m2 0h7m1 0h3m1 0h2M119 361h1m1 0h1m3 0h1m1 0h28m1 0h1m1 0h7M118 362h1m3 0h2m1 0h1m2 0h2m1 0h23m2 0h3m1 0h1m1 0h1M118 363h1m4 0h3m3 0h1m1 0h25m2 0h2m1 0h1M116 364h3m1 0h1m2 0h3m1 0h32m1 0h1m1 0h1M113 365h1m1 0h1m2 0h2m2 0h13m1 0h22m1 0h1M114 366h3m1 0h6m1 0h1m1 0h5m1 0h22m1 0h3m3 0h1M116 367h1m1 0h8m1 0h1m1 0h5m1 0h18m1 0h1m1 0h1m1 0h1M111 368h2m1 0h4m1 0h5m1 0h26m1 0h3m1 0h1m4 0h3M115 369h3m1 0h31m1 0h2m2 0h5m1 0h1M111 370h3m1 0h1m2 0h1m1 0h7m1 0h16m1 0h6m4 0h2m1 0h1m1 0h4M109 371h1m2 0h2m1 0h3m1 0h3m1 0h17m1 0h8m1 0h2m1 0h2m3 0h2m1 0h2M109 372h3m3 0h3m1 0h1m1 0h27m1 0h1m1 0h1m2 0h2m4 0h1m1 0h1M108 373h3m2 0h2m1 0h33m1 0h3m1 0h1m1 0h1m1 0h1m3 0h2M107 374h2m1 0h3m1 0h23m1 0h6m1 0h1m2 0h2m2 0h1m3 0h1M105 375h1m1 0h1m1 0h4m1 0h1m1 0h26m2 0h3m6 0h3m1 0h1M106 376h5m1 0h30m1 0h3m1 0h3m1 0h1m1 0h2M103 377h1m3 0h4m1 0h2m1 0h3m1 0h12m1 0h5m1 0h2m1 0h1m2 0h2m7 0h1m6 0h1M102 378h1m1 0h1m1 0h2m2 0h2m1 0h5m1 0h16m1 0h3m1 0h3m1 0h4m1 0h1M103 379h1m1 0h30m1 0h4m2 0h1m2 0h3M102 380h26m1 0h7m2 0h3m3 0h1m1 0h1m3 0h1M100 381h6m1 0h19m2 0h9m1 0h2m2 0h1m7 0h1M101 382h30m1 0h2m3 0h1m5 0h2m6 0h1m1 0h1M103 383h28m1 0h3m2 0h1m4 0h1m9 0h1M101 384h6m1 0h14m1 0h5m1 0h1m1 0h1m3 0h1m3 0h1m1 0h3m7 0h1m13 0h1M99 385h1m1 0h23m1 0h1m2 0h5m1 0h1m4 0h2m1 0h2M98 386h2m1 0h11m1 0h8m1 0h6m1 0h1m1 0h3m2 0h2m1 0h1m2 0h1m22 0h1M100 387h1m1 0h10m1 0h11m1 0h4m4 0h1M100 388h13m1 0h9m1 0h1m4 0h1m1 0h1m1 0h1m1 0h2m2 0h1m2 0h1M97 389h1m4 0h19m1 0h1m3 0h1m1 0h1m2 0h1m1 0h1m4 0h3m1 0h3M100 390h1m1 0h7m1 0h3m1 0h5m4 0h1m3 0h1m4 0h2M97 391h1m1 0h2m2 0h1m1 0h5m1 0h5m1 0h2m1 0h2m1 0h1m1 0h2m3 0h1m2 0h1m11 0h1m5 0h1M100 392h1m1 0h13m1 0h1m1 0h1m1 0h1m5 0h2m1 0h2m1 0h1m10 0h1m7 0h1m1 0h1M97 393h4m2 0h1m3 0h5m1 0h1m2 0h2m1 0h1m2 0h5m2 0h1m2 0h1m1 0h1m10 0h3m5 0h1m45 0h1m9 0h1M100 394h1m2 0h17m7 0h1m4 0h2m10 0h1m2 0h1m2 0h5m44 0h1m8 0h2M98 395h1m1 0h1m3 0h5m1 0h1m2 0h1m1 0h2m3 0h2m5 0h2m2 0h2m2 0h1m3 0h1m7 0h3m1 0h1m46 0h1m1 0h1m6 0h1m1 0h1M99 396h1m5 0h1m1 0h5m1 0h4m1 0h1m2 0h1m3 0h2m1 0h1m3 0h1m2 0h1m10 0h1m4 0h2m42 0h2m1 0h1m1 0h2m2 0h2m1 0h1m1 0h1M103 397h1m3 0h1m1 0h3m1 0h2m1 0h1m4 0h4m3 0h2m1 0h1m1 0h1m3 0h1m1 0h2m5 0h1m2 0h1m2 0h2m31 0h1m9 0h1m2 0h4m1 0h1m2 0h2m1 0h1M103 398h2m1 0h1m1 0h1m1 0h2m2 0h2m1 0h1m10 0h1m1 0h1m2 0h1m3 0h1m3 0h1m5 0h3m34 0h1m12 0h5M102 399h1m2 0h4m1 0h1m2 0h2m1 0h1m1 0h1m3 0h1m4 0h1m3 0h1m7 0h2m6 0h1m36 0h1m1 0h1m11 0h1m1 0h2m3 0h1m1 0h1m2 0h1M107 400h4m1 0h1m1 0h1m1 0h3m1 0h1m7 0h2m3 0h1m1 0h1m39 0h1m2 0h3m5 0h1m1 0h2m1 0h1m8 0h1m1 0h1m2 0h1m3 0h2M103 401h2m3 0h1m1 0h1m2 0h4m1 0h1m1 0h1m10 0h2m8 0h1m1 0h1m14 0h1m21 0h1m3 0h1m18 0h2m1 0h1m2 0h1m2 0h2M103 402h2m1 0h2m1 0h1m7 0h1m11 0h1m2 0h2m7 0h1m14 0h1m1 0h1m1 0h3m11 0h1m4 0h1m1 0h1m3 0h1m4 0h1m8 0h1m1 0h6m5 0h1m1 0h1M102 403h3m2 0h2m1 0h1m1 0h1m9 0h3m4 0h4m20 0h1m1 0h1m4 0h1m2 0h1m6 0h2m4 0h1m3 0h1m1 0h1m4 0h2m1 0h1m6 0h1m2 0h1m1 0h2m1 0h7m2 0h2M92 404h1m1 0h1m4 0h1m4 0h1m9 0h1m8 0h3m4 0h1m1 0h1m9 0h1m1 0h1m1 0h1m5 0h1m2 0h2m14 0h1m1 0h4m5 0h4m4 0h3m1 0h2m3 0h6m2 0h1m4 0h1M93 405h1m6 0h2m1 0h1m8 0h1m1 0h1m1 0h1m5 0h1m3 0h1m3 0h1m6 0h4m5 0h1m2 0h1m1 0h1m2 0h1m7 0h1m6 0h1m1 0h1m4 0h1m5 0h1m1 0h1m1 0h2m1 0h2m2 0h2m3 0h1m1 0h3m4 0h1m1 0h2m1 0h2M98 406h1m1 0h1m1 0h1m1 0h1m2 0h1m1 0h2m5 0h2m5 0h1m2 0h1m2 0h1m7 0h1m3 0h3m2 0h1m7 0h1m2 0h1m5 0h2m1 0h1m3 0h2m3 0h1m6 0h1m2 0h1m1 0h2m3 0h1m1 0h1m1 0h3m3 0h2m2 0h1m1 0h1m1 0h3m2 0h1M97 407h1m2 0h1m4 0h1m3 0h1m1 0h2m4 0h1m6 0h1m1 0h1m12 0h1m1 0h1m1 0h1m9 0h5m3 0h2m1 0h2m3 0h1m1 0h1m1 0h2m1 0h2m3 0h1m1 0h4m2 0h2m1 0h7m1 0h3m1 0h7m2 0h3M94 408h1m1 0h2m10 0h1m3 0h4m17 0h1m21 0h2m5 0h1m1 0h2m1 0h1m2 0h1m4 0h1m2 0h4m2 0h2m2 0h1m1 0h7m1 0h5m2 0h2m1 0h2m1 0h1m1 0h1M89 409h1m22 0h1m19 0h2m19 0h1m3 0h5m3 0h3m1 0h1m1 0h2m1 0h1m2 0h1m1 0h1m3 0h2m4 0h1m5 0h2m1 0h7m4 0h1m1 0h1m1 0h2M94 410h1m2 0h1m7 0h1m1 0h2m24 0h1m14 0h1m2 0h1m7 0h3m2 0h1m1 0h1m4 0h2m2 0h1m1 0h7m1 0h1m1 0h3m6 0h1m3 0h2m4 0h2m1 0h1m1 0h4m1 0h1M104 411h1m1 0h2m2 0h1m22 0h3m10 0h2m1 0h1m3 0h1m1 0h1m2 0h2m1 0h1m1 0h1m3 0h1m1 0h1m1 0h1m4 0h5m2 0h3m1 0h1m4 0h1m4 0h3m1 0h1m2 0h4m1 0h1m1 0h2m1 0h1M106 412h1m2 0h1m1 0h2m1 0h1m17 0h1m1 0h1m11 0h2m2 0h1m2 0h1m3 0h4m4 0h4m5 0h2m1 0h1m1 0h1m1 0h2m2 0h5m3 0h1m1 0h5m1 0h1m1 0h2m3 0h2m3 0h2M86 413h1m17 0h3m2 0h2m1 0h5m31 0h1m1 0h1m1 0h3m2 0h1m1 0h1m3 0h1m5 0h1m1 0h2m2 0h1m1 0h1m1 0h1m4 0h2m3 0h1m1 0h1m2 0h2m6 0h4m1 0h1m2 0h3m1 0h2M86 414h1m24 0h1m31 0h1m3 0h3m2 0h2m2 0h1m1 0h2m3 0h5m1 0h1m2 0h2m1 0h3m1 0h1m1 0h4m1 0h1m1 0h1m3 0h1m1 0h2m1 0h2m1 0h7m2 0h6M86 415h1m7 0h1m1 0h1m5 0h1m1 0h1m5 0h2m21 0h1m8 0h3m7 0h6m1 0h1m1 0h1m2 0h2m2 0h1m1 0h8m1 0h1m4 0h7m1 0h2m3 0h1m2 0h2m1 0h3m1 0h1m1 0h1m1 0h4m1 0h2M93 416h4m13 0h1m6 0h1m14 0h1m3 0h1m1 0h2m1 0h1m4 0h1m4 0h1m1 0h1m1 0h1m1 0h2m1 0h2m1 0h1m6 0h3m1 0h2m1 0h8m1 0h2m3 0h4m3 0h2m1 0h2m1 0h1m1 0h2m2 0h7M91 417h1m4 0h1m3 0h1m1 0h2m6 0h1m5 0h1m4 0h2m4 0h1m6 0h2m2 0h1m1 0h1m1 0h1m1 0h5m3 0h1m1 0h2m2 0h1m1 0h8m6 0h1m2 0h1m3 0h2m3 0h1m1 0h3m1 0h1m1 0h5m2 0h11m4 0h2M92 418h4m2 0h4m11 0h1m5 0h2m4 0h1m1 0h2m5 0h1m4 0h1m2 0h2m1 0h3m4 0h1m1 0h1m1 0h8m1 0h6m1 0h1m1 0h2m1 0h3m2 0h1m2 0h1m3 0h7m2 0h7m1 0h3m4 0h5M93 419h2m2 0h1m1 0h1m2 0h1m2 0h2m1 0h2m2 0h2m1 0h2m6 0h1m2 0h1m3 0h1m1 0h5m1 0h1m2 0h4m1 0h1m1 0h2m1 0h2m1 0h3m1 0h1m1 0h3m1 0h1m1 0h1m1 0h4m1 0h6m1 0h4m3 0h1m2 0h2m1 0h2m1 0h1m1 0h1m1 0h2m1 0h3m1 0h1m1 0h4m1 0h2m1 0h1M91 420h1m8 0h1m1 0h1m2 0h1m3 0h2m1 0h2m3 0h1m3 0h1m1 0h1m2 0h1m4 0h2m3 0h1m1 0h5m1 0h2m1 0h2m1 0h1m2 0h4m1 0h6m1 0h6m1 0h1m1 0h1m1 0h2m2 0h1m2 0h2m5 0h2m2 0h2m1 0h1m3 0h1m3 0h2m2 0h1m1 0h1m1 0h1m2 0h1M95 421h2m1 0h1m2 0h1m5 0h4m1 0h6m2 0h1m1 0h3m1 0h2m1 0h4m1 0h1m6 0h1m1 0h1m1 0h2m2 0h4m1 0h1m1 0h7m2 0h2m1 0h1m1 0h1m1 0h2m1 0h2m3 0h1m1 0h4m1 0h2m1 0h4m1 0h6m1 0h6m1 0h1m1 0h1m1 0h2M90 422h2m1 0h1m3 0h1m6 0h3m1 0h1m2 0h1m2 0h4m1 0h1m1 0h1m2 0h1m1 0h1m1 0h4m1 0h2m1 0h1m1 0h13m1 0h5m2 0h5m1 0h5m2 0h2m1 0h1m1 0h2m1 0h4m3 0h1m2 0h1m1 0h1m1 0h1m1 0h2m2 0h3m2 0h1m4 0h2m1 0h2m1 0h1M91 423h4m3 0h2m1 0h4m1 0h1m1 0h4m2 0h1m1 0h2m2 0h1m5 0h1m1 0h3m1 0h3m3 0h1m1 0h1m2 0h2m1 0h5m1 0h7m1 0h3m1 0h2m1 0h1m2 0h1m1 0h1m1 0h1m2 0h5m1 0h1m1 0h1m1 0h1m1 0h4m1 0h1m1 0h2m2 0h4m2 0h2m1 0h1m1 0h1m4 0h1M93 424h2m2 0h2m2 0h1m2 0h3m1 0h1m1 0h3m2 0h2m1 0h1m1 0h2m1 0h2m3 0h4m1 0h5m1 0h1m3 0h15m1 0h6m1 0h3m1 0h3m1 0h1m2 0h1m1 0h1m4 0h3m2 0h2m1 0h1m2 0h1m1 0h9m1 0h1m2 0h5m1 0h1M89 425h1m1 0h1m2 0h3m1 0h1m1 0h3m1 0h1m3 0h8m2 0h1m2 0h7m4 0h5m1 0h4m1 0h7m1 0h19m1 0h1m2 0h9m2 0h2m1 0h5m2 0h3m3 0h1m2 0h1m3 0h1m1 0h2m1 0h1m1 0h1M88 426h3m2 0h1m2 0h1m1 0h2m2 0h1m2 0h1m3 0h1m1 0h4m1 0h4m1 0h3m1 0h13m1 0h4m1 0h13m1 0h7m2 0h2m2 0h3m1 0h2m4 0h1m1 0h3m1 0h4m3 0h6m1 0h1m4 0h2m1 0h3m2 0h2M89 427h1m3 0h4m1 0h2m1 0h6m1 0h1m1 0h8m1 0h7m2 0h3m1 0h8m1 0h7m1 0h5m1 0h7m1 0h1m1 0h9m2 0h2m3 0h4m5 0h1m1 0h7m3 0h1m1 0h1m3 0h1m1 0h2m1 0h1m1 0h1M86 428h2m4 0h2m1 0h1m1 0h4m1 0h2m1 0h1m1 0h1m1 0h2m1 0h3m2 0h3m1 0h6m1 0h1m1 0h4m1 0h3m1 0h11m1 0h9m2 0h1m1 0h3m2 0h1m1 0h1m1 0h4m4 0h2m1 0h2m1 0h2m2 0h1m1 0h1m1 0h1m1 0h2m1 0h1m1 0h1m2 0h1m1 0h1m1 0h2M86 429h3m1 0h1m2 0h3m1 0h14m1 0h2m1 0h14m1 0h10m1 0h5m2 0h1m1 0h13m1 0h5m1 0h1m1 0h1m1 0h3m2 0h1m1 0h5m1 0h4m4 0h7m1 0h4m2 0h1m1 0h1m2 0h1M86 430h1m2 0h7m1 0h8m1 0h1m1 0h22m1 0h37m1 0h2m1 0h2m1 0h5m1 0h2m2 0h3m1 0h1m3 0h1m1 0h1m1 0h1m2 0h1m1 0h3m1 0h1m4 0h1m2 0h1M85 431h3m1 0h7m1 0h8m1 0h13m1 0h4m2 0h30m1 0h12m2 0h1m2 0h4m2 0h8m1 0h1m1 0h1m1 0h3m1 0h2m1 0h3m2 0h1m1 0h1m5 0h1M87 432h6m1 0h53m1 0h16m1 0h4m1 0h1m1 0h1m1 0h1m1 0h1m2 0h3m1 0h2m2 0h1m1 0h1m3 0h2m1 0h1m2 0h1m2 0h4m8 0h2M85 433h1m1 0h1m2 0h2m1 0h2m1 0h2m1 0h16m1 0h51m2 0h1m1 0h2m1 0h1m4 0h2m2 0h3m2 0h2m2 0h2m1 0h5m1 0h1m2 0h1m8 0h2M84 434h20m1 0h60m2 0h1m1 0h2m2 0h4m1 0h2m1 0h1m1 0h5m2 0h1m2 0h1m3 0h1m1 0h3M86 435h8m2 0h6m1 0h20m1 0h40m1 0h7m1 0h1m2 0h2m3 0h1m2 0h6m3 0h1m1 0h1m1 0h1m2 0h1m5 0h1M84 436h1m1 0h4m1 0h5m1 0h7m1 0h14m1 0h42m1 0h5m5 0h1m1 0h2m1 0h1m2 0h1m7 0h1m2 0h2m2 0h2m2 0h1m1 0h1m2 0h1m1 0h1M83 437h1m1 0h12m1 0h34m1 0h12m1 0h19m1 0h2m5 0h1m3 0h4m2 0h3m1 0h2m3 0h1m1 0h1m1 0h1m2 0h2m2 0h1M86 438h1m1 0h1m1 0h10m1 0h63m1 0h7m1 0h1m3 0h1m1 0h2m1 0h1m4 0h3m1 0h2m2 0h1m1 0h1m3 0h1m1 0h1M83 439h42m1 0h15m1 0h25m1 0h4m2 0h1m2 0h1m6 0h4m1 0h2M86 440h1m2 0h2m1 0h12m1 0h13m1 0h18m1 0h12m1 0h8m1 0h2m1 0h5m3 0h1m9 0h2m8 0h1M83 441h2m2 0h64m1 0h8m1 0h7m5 0h1m1 0h2m12 0h1m1 0h1M86 442h3m1 0h47m1 0h9m1 0h3m2 0h14m2 0h2M86 443h1m2 0h8m1 0h1m1 0h1m1 0h3m1 0h7m1 0h5m1 0h3m2 0h2m1 0h1m3 0h4m1 0h1m1 0h1m1 0h3m1 0h6m1 0h2m1 0h2m3 0h2m1 0h1m1 0h1m1 0h1" stroke="#000" stroke-width="1" fill="none" stroke-opacity="0.9"/>
<path d="M141 340h1M140 342h1m2 0h2M138 343h1m2 0h2m4 0h1M134 344h1m1 0h2m4 0h1m4 0h1M135 345h2m2 0h1m4 0h1m1 0h1M132 346h2m1 0h1m1 0h2m1 0h2m1 0h1m4 0h1m7 0h1M128 347h1m6 0h1m1 0h2m3 0h1m3 0h1m1 0h2m1 0h1m3 0h1M127 348h1m5 0h2m1 0h3m2 0h4m1 0h3m5 0h1m1 0h1m1 0h1M131 349h3m1 0h2m2 0h1m1 0h2m2 0h2m1 0h4m5 0h1m1 0h1M127 350h1m6 0h1m1 0h3m5 0h2m2 0h3m1 0h1m6 0h2M137 351h1m2 0h2m1 0h1m1 0h3m1 0h4m1 0h3m1 0h2M126 352h2m3 0h10m1 0h1m1 0h1m2 0h6m3 0h3M125 353h1m2 0h1m3 0h3m5 0h1m3 0h5m1 0h3m1 0h5M126 354h1m1 0h6m2 0h2m1 0h3m1 0h8m1 0h2m1 0h1m1 0h2m1 0h1M122 355h1m2 0h1m1 0h2m3 0h2m1 0h18m1 0h1m1 0h2M119 356h1m4 0h1m1 0h1m2 0h1m1 0h2m2 0h2m1 0h1m1 0h13m1 0h5M120 357h1m1 0h1m3 0h9m1 0h7m1 0h5m1 0h1m1 0h2m1 0h2m3 0h2M119 358h4m4 0h1m1 0h2m1 0h4m1 0h18m1 0h5M120 359h1m1 0h6m1 0h1m3 0h5m1 0h1m1 0h19M123 360h2m1 0h4m1 0h2m1 0h2m1 0h16m2 0h5m2 0h1M119 361h1m1 0h1m1 0h3m1 0h2m1 0h24m1 0h1m1 0h2m2 0h1m1 0h1M119 362h2m2 0h1m2 0h1m1 0h1m1 0h3m1 0h21m1 0h1m1 0h4M115 363h1m2 0h2m1 0h5m1 0h4m1 0h7m1 0h18m1 0h1M113 364h1m2 0h1m1 0h5m1 0h1m1 0h1m1 0h1m1 0h25m1 0h1m1 0h2M113 365h1m3 0h2m4 0h1m3 0h3m2 0h18m1 0h2m1 0h1m1 0h2m1 0h3m1 0h1M113 366h1m1 0h5m1 0h9m1 0h23m4 0h2m1 0h1m1 0h1M112 367h2m7 0h10m2 0h8m1 0h14m1 0h1m5 0h1M111 368h1m5 0h4m1 0h1m2 0h27m2 0h3M113 369h3m4 0h7m1 0h22m2 0h1m2 0h2m2 0h1m1 0h1M109 370h3m1 0h1m1 0h1m1 0h31m2 0h5m1 0h2m4 0h1M111 371h1m1 0h4m2 0h24m1 0h6m2 0h1m2 0h3m2 0h1M110 372h1m1 0h7m1 0h16m1 0h5m1 0h8m1 0h2m1 0h1m3 0h1m1 0h1m1 0h2M112 373h1m1 0h12m1 0h18m3 0h1m1 0h4m1 0h1m1 0h1m1 0h1m2 0h1M107 374h2m2 0h4m1 0h2m1 0h22m1 0h1m1 0h2m3 0h3m1 0h1m1 0h1M106 375h1m1 0h1m2 0h1m1 0h18m1 0h9m4 0h2m2 0h3m5 0h1M105 376h32m2 0h6m4 0h1m3 0h1m1 0h1M103 377h1m1 0h2m1 0h12m1 0h15m1 0h3m1 0h2m1 0h1m1 0h4m1 0h3m6 0h1M105 378h10m1 0h2m2 0h8m1 0h1m1 0h3m1 0h3m1 0h1m1 0h4m1 0h1m1 0h2m1 0h1m1 0h1m6 0h1M102 379h1m2 0h32m2 0h2m1 0h1m2 0h1m1 0h1m1 0h1M101 380h1m1 0h15m1 0h10m1 0h4m1 0h4m9 0h1m1 0h1M102 381h2m1 0h29m1 0h1m1 0h2m1 0h1m9 0h1m1 0h1M101 382h26m1 0h1m1 0h5m1 0h3m2 0h1m1 0h1m1 0h1m4 0h1M100 383h3m1 0h9m1 0h10m2 0h10m2 0h2m13 0h1M101 384h18m1 0h3m1 0h2m1 0h4m1 0h1m2 0h2m3 0h1m10 0h2m12 0h1M99 385h2m1 0h26m1 0h1m1 0h2m2 0h1m4 0h1M98 386h2m1 0h9m1 0h10m1 0h2m1 0h4m2 0h4m6 0h1m23 0h1M98 387h2m1 0h20m1 0h1m1 0h5m7 0h1m2 0h1m1 0h1m1 0h2M100 388h1m3 0h13m1 0h1m1 0h1m1 0h1m1 0h2m1 0h1m1 0h2m1 0h1m1 0h1m5 0h3m1 0h1M97 389h1m1 0h1m1 0h22m2 0h4m2 0h1m2 0h1m7 0h1m1 0h1M97 390h3m2 0h9m2 0h6m1 0h2m1 0h2m2 0h5m11 0h1M99 391h8m1 0h9m2 0h3m1 0h3m1 0h1m2 0h2m13 0h1m5 0h2M97 392h1m3 0h1m2 0h11m1 0h3m1 0h1m3 0h1m1 0h2m1 0h2m13 0h1m2 0h1M99 393h2m1 0h2m1 0h6m2 0h1m1 0h3m2 0h1m1 0h5m1 0h3m13 0h2m3 0h1m2 0h1m54 0h2M98 394h2m2 0h7m1 0h4m1 0h1m2 0h2m1 0h4m1 0h2m16 0h1m1 0h1m1 0h1m2 0h1m1 0h1m44 0h2m6 0h1m2 0h1M101 395h1m1 0h3m2 0h2m1 0h1m1 0h2m1 0h5m1 0h4m3 0h1m1 0h1m2 0h1m9 0h2m1 0h1m4 0h1m1 0h1m50 0h2M97 396h1m1 0h2m4 0h2m2 0h4m2 0h2m5 0h1m2 0h1m2 0h3m1 0h2m4 0h1m1 0h1m56 0h1m1 0h1m5 0h2m1 0h1m1 0h1M102 397h2m1 0h1m2 0h4m3 0h3m1 0h2m2 0h1m6 0h1m4 0h2m2 0h1m6 0h2m5 0h1m41 0h1m3 0h1m2 0h4m4 0h1M103 398h1m2 0h2m1 0h1m1 0h1m1 0h2m3 0h1m2 0h1m9 0h1m1 0h2m1 0h1m4 0h1m4 0h1m39 0h1m18 0h1m1 0h1M102 399h1m2 0h1m2 0h2m5 0h6m9 0h1m2 0h1m1 0h1m2 0h1m1 0h1m2 0h1m4 0h1m34 0h1m14 0h1m4 0h1m7 0h1M109 400h2m1 0h2m1 0h1m2 0h4m8 0h1m2 0h1m1 0h3m2 0h1m19 0h1m17 0h1m5 0h1m1 0h1m1 0h1m1 0h1m10 0h1m7 0h2M102 401h1m2 0h1m1 0h4m1 0h2m1 0h3m12 0h1m2 0h1m6 0h1m2 0h1m15 0h1m15 0h1m2 0h1m8 0h1m16 0h1m3 0h3m1 0h1M102 402h1m6 0h1m3 0h3m13 0h2m22 0h1m2 0h1m3 0h3m13 0h1m1 0h1m1 0h2m1 0h2m2 0h2m2 0h1m7 0h1m3 0h2m1 0h1m1 0h1m5 0h1M103 403h2m2 0h2m1 0h4m18 0h1m9 0h1m1 0h1m7 0h2m4 0h4m9 0h2m3 0h1m2 0h4m1 0h4m2 0h3m3 0h1m3 0h1m1 0h3m1 0h2m1 0h2m2 0h3M92 404h1m1 0h1m5 0h1m2 0h1m2 0h2m14 0h2m1 0h1m6 0h1m5 0h1m2 0h1m2 0h1m1 0h2m9 0h1m2 0h1m1 0h2m10 0h1m1 0h2m4 0h1m2 0h1m2 0h1m1 0h1m4 0h2m1 0h2m4 0h5m1 0h1m2 0h1m1 0h1M92 405h3m1 0h3m4 0h4m1 0h1m1 0h1m2 0h1m7 0h2m3 0h1m3 0h1m6 0h1m2 0h2m3 0h1m9 0h1m4 0h1m9 0h1m2 0h1m7 0h2m2 0h1m1 0h3m4 0h2m1 0h1m1 0h2m2 0h2m2 0h1m1 0h2m2 0h1m1 0h1M96 406h1m1 0h2m4 0h1m3 0h2m3 0h4m5 0h1m3 0h1m2 0h1m7 0h1m5 0h1m13 0h1m7 0h1m6 0h1m2 0h1m2 0h2m1 0h1m6 0h1m1 0h2m2 0h1m3 0h2m5 0h1m1 0h2m1 0h1m2 0h1m1 0h1M98 407h2m1 0h1m1 0h2m2 0h1m4 0h3m11 0h1m15 0h1m10 0h1m4 0h3m1 0h4m1 0h1m2 0h1m1 0h1m1 0h1m3 0h1m1 0h4m1 0h2m1 0h1m2 0h1m3 0h1m2 0h2m2 0h4m3 0h2M89 408h1m6 0h2m8 0h2m3 0h3m39 0h2m3 0h2m4 0h1m2 0h1m4 0h1m4 0h2m1 0h1m2 0h1m6 0h1m2 0h3m4 0h1m1 0h2m1 0h1m3 0h1m3 0h1m1 0h1M95 409h3m9 0h2m1 0h2m22 0h1m20 0h1m1 0h1m2 0h3m4 0h1m3 0h1m5 0h2m2 0h4m2 0h2m1 0h7m2 0h4m1 0h1m1 0h4m4 0h2M94 410h1m2 0h1m11 0h1m2 0h1m20 0h1m16 0h1m1 0h1m2 0h1m2 0h2m8 0h1m1 0h1m2 0h3m3 0h1m3 0h2m1 0h1m2 0h2m2 0h1m1 0h1m1 0h2m2 0h4m1 0h1m1 0h2m3 0h2M86 411h1m7 0h1m1 0h2m8 0h3m2 0h1m21 0h1m1 0h1m11 0h3m3 0h3m2 0h1m2 0h1m2 0h2m1 0h2m3 0h3m1 0h1m3 0h1m1 0h2m1 0h1m1 0h4m1 0h2m2 0h4m2 0h2m3 0h4m1 0h2m1 0h2M85 412h2m18 0h1m5 0h1m21 0h2m11 0h3m1 0h1m2 0h2m2 0h1m3 0h1m1 0h2m1 0h1m4 0h1m3 0h2m1 0h2m1 0h5m1 0h2m1 0h1m1 0h1m1 0h1m1 0h7m1 0h1m3 0h1m1 0h1m1 0h4M85 413h1m16 0h1m1 0h1m9 0h1m2 0h1m32 0h1m3 0h1m1 0h1m1 0h2m2 0h1m2 0h3m3 0h1m1 0h2m2 0h1m4 0h1m2 0h4m4 0h4m2 0h3m1 0h2m1 0h1m1 0h2m2 0h2m1 0h1M86 414h1m15 0h2m5 0h1m2 0h4m26 0h2m8 0h2m1 0h1m1 0h6m1 0h2m1 0h3m2 0h1m4 0h3m1 0h4m2 0h1m2 0h1m1 0h7m2 0h1m2 0h1m2 0h1m1 0h1m1 0h1m1 0h1m1 0h1M94 415h1m8 0h1m7 0h3m1 0h2m16 0h2m6 0h1m1 0h1m4 0h1m1 0h5m1 0h1m3 0h6m2 0h1m4 0h1m2 0h5m1 0h3m2 0h3m2 0h1m1 0h2m2 0h1m1 0h1m2 0h3m1 0h2m1 0h3m3 0h2M111 416h1m1 0h1m1 0h1m16 0h1m1 0h4m5 0h1m2 0h2m3 0h1m1 0h2m3 0h1m4 0h1m5 0h1m1 0h2m4 0h3m1 0h3m2 0h2m1 0h1m1 0h2m1 0h1m3 0h1m2 0h4m1 0h1m4 0h2m1 0h1m1 0h1M94 417h2m1 0h1m4 0h2m6 0h1m3 0h3m1 0h2m7 0h1m6 0h2m4 0h1m4 0h2m2 0h1m6 0h4m3 0h2m1 0h11m1 0h1m1 0h4m2 0h3m5 0h1m1 0h1m1 0h1m1 0h4m1 0h1m1 0h1m2 0h2m1 0h1m1 0h2M91 418h1m1 0h1m1 0h1m2 0h1m3 0h1m9 0h2m4 0h2m2 0h1m2 0h1m1 0h1m5 0h3m2 0h3m4 0h1m2 0h4m1 0h1m1 0h3m1 0h1m1 0h3m3 0h3m1 0h7m1 0h3m2 0h2m2 0h2m2 0h3m3 0h4m1 0h2m5 0h1m1 0h2M96 419h1m1 0h3m1 0h1m6 0h1m2 0h1m1 0h1m2 0h1m7 0h1m1 0h1m4 0h1m1 0h2m1 0h1m7 0h1m1 0h1m1 0h12m1 0h5m1 0h1m1 0h1m1 0h1m1 0h1m1 0h5m1 0h7m1 0h1m2 0h1m1 0h1m1 0h1m1 0h3m1 0h2m1 0h2m1 0h1m4 0h1M93 420h2m2 0h1m2 0h1m5 0h1m3 0h1m6 0h2m1 0h1m1 0h3m5 0h3m1 0h1m1 0h6m1 0h2m2 0h7m1 0h3m1 0h2m1 0h5m1 0h4m1 0h2m1 0h2m2 0h2m1 0h2m1 0h2m1 0h1m1 0h10m1 0h3m2 0h2m1 0h1m1 0h1m4 0h1M91 421h2m1 0h1m1 0h2m1 0h1m3 0h2m1 0h2m3 0h2m1 0h2m2 0h5m1 0h1m3 0h1m4 0h1m1 0h2m1 0h1m7 0h5m1 0h3m1 0h1m1 0h3m1 0h7m2 0h3m1 0h1m2 0h2m1 0h1m1 0h1m3 0h2m4 0h4m1 0h1m1 0h2m7 0h2m1 0h1m1 0h4M90 422h1m3 0h1m9 0h2m5 0h1m2 0h2m3 0h1m2 0h1m3 0h2m1 0h1m5 0h1m1 0h1m1 0h2m1 0h1m1 0h1m1 0h6m1 0h11m1 0h1m3 0h7m6 0h1m1 0h3m3 0h8m1 0h3m1 0h5m3 0h2m2 0h2M97 423h1m3 0h2m1 0h2m1 0h1m1 0h1m1 0h2m6 0h1m4 0h2m4 0h5m2 0h4m1 0h3m1 0h4m1 0h6m2 0h1m1 0h5m1 0h1m1 0h4m1 0h1m1 0h7m1 0h1m1 0h1m2 0h2m2 0h3m1 0h1m1 0h2m1 0h1m1 0h1m3 0h4m1 0h1m1 0h1M90 424h1m4 0h3m3 0h2m1 0h5m1 0h1m1 0h2m2 0h1m1 0h2m1 0h1m1 0h1m1 0h3m1 0h3m1 0h1m1 0h1m3 0h1m1 0h3m1 0h1m3 0h1m2 0h1m1 0h2m1 0h12m3 0h2m3 0h2m1 0h1m1 0h1m2 0h1m2 0h3m3 0h1m2 0h4m2 0h3m1 0h1m2 0h2m1 0h2M92 425h1m1 0h2m2 0h1m2 0h6m1 0h11m2 0h4m1 0h13m4 0h2m1 0h1m1 0h13m2 0h4m2 0h2m3 0h1m1 0h1m1 0h3m2 0h1m1 0h4m1 0h5m1 0h2m1 0h4m1 0h3m2 0h6M91 426h5m1 0h1m1 0h10m1 0h3m2 0h3m2 0h9m1 0h1m1 0h1m1 0h20m1 0h13m2 0h1m3 0h2m3 0h2m1 0h2m1 0h3m1 0h1m2 0h1m2 0h4m2 0h4m1 0h1m4 0h1m2 0h2M88 427h1m5 0h5m1 0h3m3 0h16m1 0h4m1 0h1m1 0h2m1 0h7m1 0h8m1 0h9m1 0h4m1 0h2m2 0h4m1 0h2m1 0h1m3 0h1m1 0h2m1 0h1m1 0h2m2 0h1m1 0h1m7 0h1m1 0h3m1 0h2m1 0h1m4 0h1M85 428h2m4 0h2m1 0h8m1 0h3m2 0h9m3 0h2m1 0h4m1 0h4m1 0h9m1 0h2m1 0h5m2 0h7m2 0h2m1 0h8m1 0h2m1 0h2m1 0h2m2 0h2m3 0h1m1 0h1m1 0h1m1 0h2m2 0h1m4 0h3m2 0h1m2 0h1m1 0h1M86 429h1m1 0h4m1 0h17m1 0h13m1 0h2m2 0h42m1 0h1m1 0h3m1 0h4m3 0h3m3 0h1m1 0h2m1 0h2m2 0h1m1 0h2m1 0h2m1 0h2m1 0h2m1 0h2M87 430h3m1 0h3m1 0h12m1 0h7m2 0h14m1 0h34m1 0h3m2 0h3m1 0h3m1 0h1m2 0h5m1 0h2m2 0h1m5 0h1m1 0h1m1 0h2m2 0h2M86 431h2m1 0h1m1 0h1m1 0h18m1 0h2m1 0h1m1 0h5m1 0h5m1 0h44m2 0h1m2 0h2m5 0h1m1 0h2m2 0h1m1 0h1m3 0h1m5 0h1m2 0h1m5 0h4M86 432h1m2 0h19m1 0h7m1 0h6m1 0h47m3 0h2m1 0h2m2 0h1m3 0h1m2 0h1m1 0h1m1 0h2m1 0h2m1 0h1m1 0h2M83 433h1m1 0h3m1 0h2m2 0h2m1 0h24m1 0h24m1 0h24m1 0h1m1 0h1m7 0h1m2 0h1m1 0h2m1 0h3m1 0h3m1 0h1m1 0h2m3 0h1M84 434h1m1 0h2m1 0h1m1 0h16m1 0h3m1 0h10m2 0h16m1 0h3m1 0h25m1 0h2m3 0h1m2 0h3m1 0h1m2 0h1m3 0h3m7 0h1m1 0h1m3 0h1m6 0h1M84 435h2m3 0h6m1 0h3m1 0h5m1 0h4m1 0h6m1 0h4m2 0h18m1 0h21m1 0h1m1 0h1m1 0h2m5 0h1m3 0h2m1 0h1m1 0h1m2 0h1m7 0h1m1 0h3m5 0h1M84 436h1m1 0h1m1 0h14m1 0h45m1 0h13m1 0h3m1 0h3m7 0h1m1 0h1m3 0h3m4 0h1m2 0h1m2 0h1m2 0h1m5 0h3M85 437h27m1 0h23m1 0h5m1 0h10m1 0h6m1 0h8m1 0h3m1 0h1m2 0h1m2 0h6m1 0h1m3 0h3m2 0h1m2 0h2M85 438h1m1 0h3m1 0h4m1 0h6m1 0h25m2 0h30m1 0h1m1 0h6m2 0h1m5 0h1m1 0h1m2 0h1m1 0h1m1 0h3m1 0h1m7 0h1m1 0h1m1 0h1M86 439h24m1 0h2m1 0h16m1 0h4m1 0h8m1 0h20m1 0h4m2 0h1m3 0h1m2 0h1m1 0h1m1 0h1m4 0h1m11 0h1M87 440h19m1 0h27m1 0h5m1 0h16m1 0h5m1 0h4m1 0h2m2 0h1m2 0h2m1 0h2m2 0h1m1 0h3m2 0h3M83 441h1m1 0h6m1 0h11m1 0h20m1 0h4m1 0h5m1 0h4m1 0h4m2 0h2m1 0h13m2 0h1m1 0h1m2 0h2m2 0h1m13 0h1m1 0h2M84 442h3m1 0h1m1 0h18m2 0h2m1 0h9m1 0h7m1 0h2m1 0h12m1 0h6m1 0h1m1 0h2m2 0h5m2 0h2m1 0h1M88 443h1m1 0h9m1 0h1m2 0h1m1 0h1m1 0h2m1 0h1m2 0h1m1 0h2m1 0h2m1 0h3m2 0h4m3 0h1m1 0h1m1 0h1m1 0h1m1 0h1m2 0h1m1 0h2m3 0h1m1 0h4m2 0h3" stroke="#000" stroke-width="1" fill="none" stroke-opacity="0.9"/>
<path d="M91 386h2m1 0h2m2 0h1M91 387h3m1 0h1m1 0h3M90 388h1m1 0h1m1 0h1m2 0h1m1 0h1m1 0h1M89 389h2m1 0h1m2 0h5M85 390h2m1 0h1m4 0h1m1 0h2m2 0h4M87 391h2m6 0h1m6 0h1M84 392h2m2 0h1m6 0h2m3 0h1m2 0h1M83 393h2m3 0h1m13 0h3M81 394h2m1 0h1m2 0h2m9 0h1m2 0h2m1 0h1M81 395h1m1 0h1m17 0h1m2 0h1M79 396h2m1 0h2m2 0h1m14 0h1m1 0h2M79 397h4m16 0h1m1 0h2M79 398h3m5 0h1m1 0h1m11 0h1m2 0h1M78 399h1m1 0h2m4 0h2m2 0h1m1 0h1m7 0h1m2 0h1M77 400h2m1 0h1m13 0h2m6 0h1m2 0h1M77 401h1m1 0h1m6 0h2M76 402h1m5 0h1m11 0h1m7 0h4M76 403h1m1 0h1m14 0h1m3 0h1m6 0h1M75 404h2m7 0h2m18 0h2M75 405h1m8 0h1m18 0h2M74 406h3m6 0h1m15 0h1m2 0h1M74 407h1m10 0h1m10 0h1m3 0h1M74 408h1m2 0h1m13 0h1M73 409h3m28 0h1M73 410h2m5 0h1m17 0h1m4 0h2M73 411h2m16 0h1m2 0h1m6 0h2M71 412h1m3 0h1m7 0h1M72 413h1m2 0h1m18 0h1m5 0h1m1 0h1M71 414h3m4 0h1m1 0h1m12 0h1m1 0h2m5 0h2M70 415h3m4 0h1m1 0h1m3 0h1m17 0h3M70 416h3m28 0h2M70 417h4m9 0h1m5 0h1m8 0h1m3 0h1M70 418h2m24 0h1m1 0h4M71 419h1m27 0h1m1 0h1M70 420h1m4 0h1m22 0h1m1 0h2M71 421h2m9 0h1m6 0h1m2 0h1m5 0h1m1 0h1M69 422h3m1 0h1m9 0h1m1 0h1m12 0h3M69 423h2m1 0h1m24 0h2M69 424h3m26 0h1M69 425h2m25 0h1M69 426h3m5 0h1m12 0h1M70 427h1m8 0h1m14 0h4M69 428h3m22 0h1m1 0h1M70 429h1m2 0h1m13 0h1m6 0h1m1 0h1M70 430h1m2 0h2m3 0h1m6 0h1m5 0h1m2 0h2M69 431h1m1 0h1m7 0h1m12 0h1M70 432h1m2 0h1m6 0h2m10 0h1M69 433h1m1 0h1m3 0h1m13 0h4M72 434h3m12 0h4m1 0h1M71 435h1m10 0h1m6 0h3M71 436h2m2 0h3m1 0h1m9 0h1M71 437h1m2 0h1m1 0h1m4 0h6m2 0h1M73 438h3m3 0h1m2 0h1m3 0h3M75 439h3m1 0h2m1 0h3m1 0h1M77 440h1m2 0h1m1 0h2m2 0h1M74 441h1m4 0h1m1 0h1" stroke="#1a1aff" stroke-width="1" fill="none" stroke-opacity="0.8"/>
<path d="M91 386h1m2 0h3m1 0h1M90 387h3m1 0h1m1 0h3M86 388h1m3 0h1m2 0h1m2 0h2m1 0h1M87 389h2m2 0h2m2 0h1m4 0h1M83 390h1m2 0h2m4 0h1m4 0h3M88 391h1m4 0h2m5 0h3M84 392h2m4 0h1m1 0h1m4 0h1m3 0h1m1 0h1M82 393h4m1 0h2m7 0h1m4 0h3M80 394h4m4 0h1m2 0h1m3 0h1m6 0h3M80 395h3m3 0h1m10 0h1m4 0h1M82 396h1m6 0h1m13 0h2M80 397h1m19 0h1M78 398h5m19 0h1m2 0h1M79 399h2m11 0h1m12 0h1M77 400h1m24 0h1M81 401h1m3 0h1m16 0h4M77 402h2m1 0h1m1 0h1m8 0h1m7 0h1M77 403h2m23 0h4M75 404h1m8 0h1m4 0h1m9 0h1m1 0h1m1 0h2M74 405h3m17 0h1m3 0h1m2 0h3M75 406h2m1 0h1m1 0h2M74 407h1m6 0h1m6 0h1m11 0h1m2 0h1m1 0h1M73 408h4m13 0h1m5 0h1m1 0h1m4 0h2M75 409h1m15 0h1m9 0h2m1 0h1M72 410h2m2 0h1m17 0h1m6 0h3M72 411h2m11 0h1m14 0h2m1 0h1M73 412h1m11 0h2m2 0h1m13 0h1M72 413h2m1 0h1m5 0h1m7 0h1m11 0h2M72 414h1m1 0h1m2 0h1m20 0h1M72 415h1m5 0h1m16 0h1m6 0h1M71 416h1m13 0h1m2 0h1m10 0h1m2 0h2M71 417h2m13 0h1m11 0h1m1 0h2M70 418h1m1 0h1m8 0h1m1 0h1m7 0h1m6 0h1M71 419h1m1 0h1m7 0h1m11 0h1m3 0h1m1 0h3M71 420h1m1 0h1m10 0h1m14 0h1m1 0h1M69 421h1m4 0h2m18 0h1m4 0h1m1 0h1M69 422h2m28 0h1M69 423h1M98 424h2M69 425h3m13 0h1M69 426h2m1 0h2m6 0h1m3 0h1m2 0h1m8 0h3M70 427h1m1 0h1m8 0h1m14 0h2M70 428h1m2 0h1m21 0h1M70 429h2m21 0h1m1 0h1M71 430h2m21 0h1M70 431h2m19 0h1M69 432h3m5 0h1m11 0h4M70 433h3m1 0h1m3 0h1m11 0h1m1 0h1M71 434h3m9 0h1m5 0h1m1 0h2M76 435h1m9 0h1m2 0h2M71 436h2m1 0h2m1 0h1m7 0h1m1 0h4M72 437h1m2 0h2m2 0h1m4 0h1m1 0h3M72 438h1m1 0h1m6 0h1m2 0h1m2 0h1M73 439h1m2 0h1m2 0h1m3 0h4M75 440h7m1 0h2M77 441h1m2 0h4M80 442h1" stroke="#1a1aff" stroke-width="1" fill="none" stroke-opacity="0.8"/>
<path d="M91 386h4m1 0h2m2 0h1M87 387h1m1 0h1m2 0h5m1 0h2M87 388h1m3 0h2m1 0h1m1 0h1m1 0h2M90 389h1m1 0h1m1 0h4m1 0h1m1 0h1M86 390h2m1 0h2m1 0h1m1 0h1m1 0h4m1 0h2M84 391h1m2 0h1m12 0h1m1 0h1M87 392h1m9 0h3m3 0h1M81 393h1m9 0h1m10 0h3M82 394h1m1 0h1m6 0h2m2 0h1m5 0h1m1 0h1M79 395h1m1 0h2m8 0h1m2 0h1m8 0h1M79 396h1m1 0h1m19 0h2m1 0h1M78 397h2m23 0h2M87 398h1m7 0h1m2 0h1m2 0h1m2 0h1M80 399h1m3 0h1m17 0h1M78 400h2m24 0h1M76 401h1m12 0h1m15 0h1M102 402h1m1 0h2M90 403h1m1 0h1m10 0h2M76 404h2m1 0h1m1 0h2m1 0h1m19 0h3M75 405h1m27 0h1M73 406h1m4 0h1m11 0h1M74 407h2m27 0h2M73 408h1m1 0h1m2 0h1m2 0h1m1 0h1m3 0h1m10 0h1m4 0h1M73 409h2m11 0h1m6 0h3M72 410h3m1 0h1m10 0h1m11 0h1m1 0h2M71 411h1m2 0h1m3 0h1m4 0h1m2 0h1m1 0h1m13 0h2M72 412h1m15 0h1m9 0h1m4 0h1M72 413h2m5 0h1m17 0h1m4 0h1M71 414h1m2 0h1m2 0h1m6 0h1M71 415h1m9 0h1m7 0h1m5 0h1m6 0h1M72 416h2m7 0h1m9 0h1m6 0h1m2 0h1M71 417h1m10 0h1m7 0h1m4 0h1m5 0h2M71 418h1m30 0h1M71 419h1m12 0h1m3 0h1m10 0h1m2 0h1M70 420h1m2 0h1m23 0h1m1 0h2M72 421h1m11 0h1m2 0h1m2 0h1m8 0h2M70 422h1m9 0h2m4 0h1M70 423h2m10 0h1m6 0h1m5 0h2m1 0h2M69 424h5m11 0h1m11 0h3M70 425h2m8 0h1m12 0h1m1 0h1m1 0h3M70 426h1m23 0h1m1 0h1M70 427h2m1 0h1m3 0h1m7 0h1m1 0h1m8 0h1M70 428h1m3 0h3m19 0h1M70 429h1m1 0h1m4 0h2m13 0h1M70 430h1m1 0h1m1 0h1m14 0h1m5 0h1M71 431h1m7 0h1m14 0h1M73 432h1m1 0h1m3 0h1m4 0h1m5 0h1m1 0h1M71 433h2m13 0h2m4 0h2M76 434h2m11 0h1m1 0h1M70 435h2m3 0h2m11 0h2M70 436h1m1 0h2m1 0h2m4 0h2m2 0h2m1 0h3M72 437h6m1 0h1m3 0h1m1 0h3M71 438h1m2 0h1m1 0h1m3 0h2m2 0h1m2 0h2M75 439h1m1 0h1m1 0h1m2 0h1m1 0h3M76 440h2m3 0h4M76 441h1m1 0h2m3 0h1" stroke="#1a1aff" stroke-width="1" fill="none" stroke-opacity="0.8"/>
<path d="M92 389h2m4 0h1M95 390h1m3 0h1M90 391h1m2 0h1m1 0h1m3 0h1M85 392h1m1 0h1m2 0h1m1 0h1m5 0h2M96 393h2M82 394h1m13 0h1m1 0h1m1 0h1M84 395h1m2 0h1m11 0h2m1 0h1M88 396h1m2 0h2m5 0h2M86 397h1m1 0h6m7 0h1M83 398h3m2 0h2m1 0h1m2 0h1m8 0h1M86 399h1m1 0h3m3 0h2m1 0h1m2 0h2M80 400h1m4 0h8m2 0h1m4 0h1M75 401h1m6 0h10m1 0h3m5 0h2M79 402h2m1 0h2m1 0h1m1 0h2m1 0h4m1 0h2M77 403h1m2 0h1m2 0h5m1 0h6m1 0h1m5 0h2M79 404h7m1 0h2m2 0h5m1 0h2m4 0h1M79 405h1m2 0h1m1 0h3m2 0h4m1 0h2m6 0h2M79 406h3m1 0h9m1 0h2m1 0h2M75 407h1m1 0h2m3 0h1m1 0h12m6 0h1M76 408h4m2 0h3m1 0h1m1 0h2m1 0h2m1 0h1m1 0h2M75 409h1m1 0h1m1 0h6m1 0h5m1 0h2m1 0h1m1 0h1m4 0h1M78 410h9m2 0h8M75 411h1m1 0h2m1 0h6m1 0h1m1 0h3m2 0h3M73 412h1m1 0h1m1 0h19m1 0h1m1 0h1M73 413h3m1 0h2m1 0h3m1 0h5m1 0h6m5 0h1M70 414h1m3 0h8m1 0h12m3 0h1M74 415h4m1 0h16m5 0h1M72 416h22m1 0h2M73 417h2m3 0h18m1 0h1m2 0h1M73 418h3m1 0h2m1 0h7m1 0h8m4 0h1M73 419h12m1 0h4m1 0h4m2 0h1M71 420h2m1 0h6m1 0h8m1 0h1m1 0h3M71 421h12m1 0h4m1 0h5M72 422h5m1 0h7m1 0h1m1 0h4M71 423h3m1 0h2m1 0h3m1 0h3m2 0h1m1 0h6m3 0h1M71 424h5m1 0h6m1 0h7m1 0h2M70 425h1m1 0h21m1 0h2M73 426h7m1 0h2m1 0h8m2 0h1M72 427h3m2 0h6m1 0h1m2 0h3m1 0h1M73 428h5m2 0h7m1 0h2m5 0h1M72 429h5m1 0h4m1 0h5m1 0h1m1 0h3M73 430h5m2 0h2m1 0h2m2 0h2m1 0h2M73 431h4m1 0h3m1 0h3m1 0h2m2 0h1M72 432h4m1 0h2m1 0h1m1 0h3m1 0h2M72 433h8m1 0h6M70 434h1m2 0h9m1 0h3m4 0h1M72 435h1m1 0h1m1 0h2m1 0h5m3 0h1M74 436h4m2 0h3m2 0h1m2 0h1M73 437h1m2 0h5m4 0h1M77 438h2m1 0h1m2 0h1M75 441h1M74 443h1" stroke="#000" stroke-width="1" fill="none" stroke-opacity="0.85"/>
<path d="M88 383h1M95 388h2M94 389h1m2 0h1M87 392h2m2 0h1m2 0h1m2 0h1m2 0h1M84 393h3m7 0h4M89 394h1m2 0h1m4 0h1m1 0h3M84 395h1m3 0h1m2 0h1m5 0h1m3 0h2M80 396h1m8 0h1M82 397h2m1 0h8m6 0h1m2 0h1M79 398h1m1 0h2m2 0h1m1 0h3m1 0h3m1 0h1m1 0h1M84 399h5m1 0h2m1 0h3M85 400h11m7 0h1M82 401h2m1 0h5m1 0h1m1 0h3m3 0h1M78 402h1m2 0h4m1 0h4m1 0h2m1 0h3M79 403h4m1 0h4m1 0h2m1 0h2m1 0h2m1 0h1m1 0h2M78 404h1m1 0h13m1 0h5M76 405h1m2 0h4m2 0h5m1 0h5m1 0h1M76 406h1m1 0h4m1 0h1m1 0h13M77 407h5m1 0h1m1 0h5m1 0h2m1 0h3m5 0h1M77 408h5m1 0h10m1 0h3m1 0h1M75 409h1m1 0h3m2 0h1m1 0h4m1 0h1m4 0h2m1 0h1m5 0h1M75 410h2m3 0h6m1 0h6m2 0h2M76 411h3m2 0h1m1 0h1m1 0h4m1 0h2m1 0h2m4 0h1M75 412h10m1 0h4m1 0h2m3 0h1m1 0h1m3 0h1M74 413h10m1 0h5m1 0h2m1 0h1m1 0h1m1 0h1M74 414h12m1 0h2m1 0h1m1 0h3m1 0h1m1 0h1m1 0h1M70 415h1m1 0h8m1 0h7m1 0h1m1 0h2m2 0h1m1 0h1M71 416h1m1 0h3m2 0h4m1 0h5m2 0h2m1 0h1M73 417h10m1 0h4m2 0h1m1 0h4M70 418h1m2 0h9m1 0h6m1 0h5m1 0h1m1 0h1M66 419h1m6 0h2m2 0h1m1 0h2m3 0h4m1 0h6M68 420h1m2 0h4m1 0h7m2 0h9m1 0h2M72 421h2m1 0h2m1 0h1m1 0h6m2 0h6m1 0h1M72 422h4m1 0h7m1 0h7M72 423h6m1 0h5m1 0h2m1 0h4m1 0h1m2 0h2M72 424h1m1 0h7m1 0h8m2 0h2m1 0h1M70 425h1m1 0h1m1 0h5m3 0h4m2 0h1m1 0h4M71 426h5m1 0h2m2 0h11M73 427h10m1 0h3M71 428h3m1 0h3m1 0h1m1 0h1m1 0h2m2 0h4M72 429h5m1 0h1m1 0h10M65 430h1m5 0h8m1 0h8m4 0h2M64 431h1m9 0h2m3 0h8m1 0h2m1 0h1M69 432h1m3 0h6m1 0h4m1 0h4m1 0h1m1 0h1M67 433h1m5 0h1m1 0h3m1 0h1m1 0h4m1 0h1m3 0h1M74 434h8m1 0h3m4 0h1M69 435h1m1 0h1m1 0h2m1 0h1m1 0h6m3 0h2M74 436h10m2 0h2M72 437h1m2 0h3m1 0h1m1 0h1m1 0h1M79 438h3M77 439h1m4 0h1M75 440h1" stroke="#000" stroke-width="1" fill="none" stroke-opacity="0.85"/>
<path d="M97 388h1M92 389h1m1 0h2M93 390h1m5 0h1M87 391h1m3 0h1m1 0h1M88 392h1m3 0h1m5 0h1m2 0h1M86 393h1m5 0h1M86 394h1m1 0h1m1 0h2m4 0h1m2 0h1M85 395h1m7 0h1m6 0h1M86 396h1m1 0h1m1 0h1m10 0h1M81 397h1m5 0h4m2 0h1m3 0h1m2 0h3M86 398h9m2 0h2m1 0h1M79 399h1m1 0h1m3 0h1m1 0h5m1 0h2m5 0h1M80 400h1m2 0h8m1 0h2m1 0h1M82 401h7m1 0h3m1 0h1m1 0h2m1 0h1m1 0h1m1 0h1M76 402h1m1 0h2m1 0h1m1 0h2m1 0h11M79 403h1m2 0h3m1 0h4m1 0h5M79 404h4m1 0h5m1 0h5M76 405h1m3 0h2m1 0h4m1 0h2m1 0h6m1 0h1M78 406h15m1 0h3m1 0h1m2 0h1M77 407h8m1 0h12M76 408h10m1 0h7m1 0h2m2 0h1M76 409h8m1 0h1m2 0h3m1 0h5m1 0h2m2 0h1M74 410h1m1 0h3m1 0h11m2 0h4m6 0h1M73 411h1m1 0h15m1 0h2m1 0h2m3 0h1M74 412h3m1 0h5m1 0h3m2 0h8m1 0h1m1 0h2M73 413h1m1 0h7m1 0h5m1 0h5m2 0h1m1 0h2M72 414h1m2 0h1m1 0h4m1 0h11m1 0h3m2 0h1M77 415h8m2 0h6m1 0h3m3 0h1M71 416h1m2 0h10m1 0h7m1 0h1m1 0h1M69 417h1m3 0h6m2 0h3m1 0h5m1 0h3m1 0h1m2 0h1M71 418h1m2 0h10m1 0h4m1 0h5m1 0h2M75 419h2m1 0h4m1 0h6m2 0h1m1 0h2m2 0h1M73 420h4m1 0h8m1 0h5m4 0h1m2 0h1M72 421h1m1 0h20M72 422h10m1 0h4m1 0h8M71 423h1m1 0h17m1 0h2M70 424h1m1 0h2m1 0h8m1 0h1m1 0h8m1 0h1m1 0h1M74 425h18M71 426h8m1 0h4m1 0h2m1 0h3M70 427h9m2 0h1m1 0h8m5 0h1M71 428h1m1 0h2m1 0h7m2 0h2m1 0h3m2 0h1M72 429h1m2 0h2m1 0h3m1 0h5m1 0h4M72 430h4m2 0h2m1 0h1m1 0h6M70 431h1m1 0h3m2 0h4m1 0h3m2 0h2M72 432h2m1 0h1m2 0h1m2 0h4m1 0h3M69 433h1m3 0h3m1 0h4m1 0h1m1 0h2m1 0h3M73 434h1m1 0h4m1 0h4m10 0h1M72 435h1m1 0h3m1 0h6m1 0h1m2 0h1M69 436h1m4 0h7m2 0h2M76 437h6m2 0h1M76 438h2m1 0h1M70 440h1M70 442h1M69 447h1" stroke="#000" stroke-width="1" fill="none" stroke-opacity="0.85"/>
<ellipse cx="83.5" cy="418.5" rx="13" ry="5.5" transform="rotate(-68 83.5 418.5)" fill="#000"/>
<path d="M100 389h1M100 390h1M98 391h1m3 0h1m1 0h1M101 392h1m1 0h1M101 393h1m2 0h2M103 394h3M103 395h2m1 0h1M103 396h2m1 0h1M102 397h2m1 0h1M102 398h4M104 399h1m1 0h1M103 400h1M101 401h1m1 0h4m1 0h1M103 402h1m1 0h3M102 403h3M104 404h3M104 405h4M103 406h2M104 407h5M106 408h1M104 409h3m1 0h2M105 410h4m1 0h1M106 411h2M107 412h1m1 0h1M105 413h2m1 0h1M105 414h1m1 0h1m1 0h1M106 415h1M105 416h1m1 0h1m2 0h1M107 417h1m1 0h1M101 418h1m6 0h2M106 419h1m2 0h1M98 420h1m1 0h1m2 0h1m4 0h1m1 0h1M101 421h1m6 0h1M101 422h1m7 0h1m1 0h1M101 423h2M97 424h1m3 0h1m6 0h1m4 0h1M97 425h1M100 426h1M102 427h1m4 0h1M96 430h1M99 432h1M95 434h1M66 436h1M65 437h1M68 438h1m1 0h1m3 0h1M65 439h1m2 0h3M69 440h1m2 0h1m2 0h1M70 441h1m4 0h1M70 442h1" stroke="#10e010" stroke-width="1" fill="none" stroke-opacity="0.85"/>
<path d="M104 384h1M105 386h1M104 389h1m1 0h1M100 392h2M102 393h2M103 394h1M100 395h1m2 0h1M100 396h2m1 0h2M102 397h2m1 0h1M104 398h1M104 399h1m1 0h1M102 400h1m1 0h2M104 401h2m1 0h1M104 402h2m2 0h1M102 403h5M103 404h3m2 0h1M102 405h4m1 0h1M104 406h3m2 0h1M105 407h2M104 408h4M105 409h3m2 0h1M104 410h5m1 0h1M103 411h3M107 412h4M104 413h2m2 0h1M107 414h1m1 0h1M107 415h3M106 416h2m1 0h1M107 417h2m1 0h1M106 418h1m3 0h1M98 419h1m5 0h1M109 421h1m2 0h1M100 422h1M98 424h1M112 428h1M100 430h1M97 432h1M68 436h1m1 0h1M64 437h4m1 0h1m2 0h1M67 438h1M66 439h3m1 0h2m1 0h1M69 440h1m1 0h2m1 0h1M68 441h3m1 0h1M73 442h1" stroke="#10e010" stroke-width="1" fill="none" stroke-opacity="0.85"/>
<path d="M90 382h1M88 383h2m1 0h1m1 0h1M88 384h1m1 0h6M87 385h1m1 0h9M89 386h2m1 0h5m1 0h2M92 387h1m1 0h3m1 0h1M94 388h1m2 0h1m1 0h2M99 390h1m1 0h2M100 391h1" stroke="#ff1010" stroke-width="1" fill="none" stroke-opacity="0.85"/>
<path d="M88 382h1M88 383h1m1 0h4M87 384h1m1 0h1m1 0h6M86 385h1m3 0h3m1 0h6M89 386h1m2 0h2m1 0h4m1 0h1M90 387h1m3 0h2m2 0h2M93 388h1m1 0h1m1 0h2m2 0h1M95 389h1m3 0h2m1 0h1" stroke="#ff1010" stroke-width="1" fill="none" stroke-opacity="0.85"/>
<path d="M277 70h1M277 77h1M277 79h1M339 80h1M335 81h1M277 82h1m64 0h1M277 85h1M347 91h1m27 0h1M346 92h1M349 94h1M347 98h1M355 102h1M277 104h1m64 0h1M277 105h1m80 0h1M277 106h1M342 114h1M277 115h1M277 116h1M335 118h1m18 0h1M277 121h1m66 0h1M335 122h1M277 123h1m81 0h1M277 124h1M350 127h1M337 128h1M346 129h1m12 0h1M336 131h1m6 0h1m15 0h1M277 132h1m15 0h1m47 0h1m20 0h2M331 133h1m2 0h1m36 0h1M301 134h1m59 0h1M290 135h1m6 0h1m1 0h1M288 136h1m6 0h1m37 0h1M296 137h1m35 0h1m12 0h1M296 139h3m37 0h1m2 0h1m30 0h1M292 140h1m46 0h1M299 141h1M335 142h1m6 0h1M335 143h1M396 144h1M296 145h1m3 0h1m33 0h1M365 146h1M277 147h1M303 148h1m65 0h1M285 149h1M277 150h1m12 0h1m37 0h1M301 151h1m29 0h1m9 0h1M298 152h2m34 0h2m1 0h1M294 153h1m35 0h1M280 154h1m3 0h1m3 0h1m7 0h1m2 0h1M334 155h1M304 157h1m25 0h1M297 158h1m39 0h1m36 0h1M375 159h1M332 160h1m2 0h1M289 161h1m10 0h2M340 162h1M277 164h1M297 167h1M277 170h1M289 171h1M285 172h2M277 173h1m17 0h1m2 0h1m38 0h1M286 174h1m6 0h1M336 176h1M337 177h1M295 178h1M334 179h1m1 0h1M336 180h1M294 181h1m4 0h1m32 0h1M297 182h1M282 183h1M277 184h1M277 185h1m21 0h1M277 186h1m17 0h1M302 189h1m33 0h1M288 190h1m3 0h1m1 0h1M293 191h1M277 192h1m21 0h1M277 194h1m12 0h1m44 0h1M332 196h1M294 197h1M300 198h1M277 199h1m58 0h1M277 200h1m53 0h2M333 201h1M297 202h1m33 0h1M337 203h1M337 205h1M330 206h1M284 207h1" stroke="#2020ff" stroke-width="1" fill="none" stroke-opacity="0.45"/>
<path d="M277 71h1M277 74h1M277 75h1M277 79h1m56 0h1M277 82h1m60 0h1M336 83h1m3 0h1M277 85h1m63 0h1M352 86h1M413 91h1M353 96h1M361 97h1M277 103h1m66 0h1M343 105h1m3 0h1m3 0h1M333 106h1M277 107h1M334 108h1M346 109h1m8 0h1M337 111h1M340 112h1M277 115h1m59 0h1M363 119h1M341 120h1m14 0h1M358 121h1M277 122h1m74 0h1m7 0h1M350 123h1m8 0h1M349 124h1M277 126h1m77 0h1M277 128h1M359 129h1M335 130h1m13 0h1m14 0h1M342 131h1m2 0h1m1 0h1M277 132h1M286 133h1m11 0h1m4 0h1m29 0h1m9 0h1M300 134h1M285 135h1m13 0h1M294 137h1m46 0h1m2 0h1M277 138h1m20 0h1m65 0h1m6 0h1M300 139h1m32 0h1m6 0h1M303 141h1m30 0h1m3 0h1M297 143h1M292 144h1m46 0h1M343 145h1M277 146h1M299 147h1m39 0h1m22 0h1m4 0h1M294 148h1m3 0h1m1 0h1M277 149h1m53 0h1m36 0h1M330 150h1M331 151h1m6 0h1m33 0h1M277 152h1m49 0h1M295 153h1m5 0h1M284 154h1m17 0h1m69 0h1m53 0h1M301 155h1M295 156h1m5 0h1M304 157h1m29 0h1M298 158h1M283 159h1m54 0h1M295 160h1m4 0h1M295 161h1M277 163h1M336 165h1M283 166h1m11 0h1m41 0h1M292 167h1m43 0h1M298 169h1M295 170h1M336 171h2M277 172h1m11 0h1M296 173h1m39 0h1M294 174h1M290 175h1m4 0h1m37 0h1M333 179h1M335 182h1M288 184h1m9 0h1M337 185h1M277 186h1m15 0h1M294 187h1m42 0h1M284 188h1M277 189h1m8 0h1m11 0h1M295 190h1m2 0h1M299 191h1M293 193h1M280 194h1m12 0h1M296 195h1M284 196h1M277 197h1m52 0h1M280 198h1m49 0h1M295 199h1m42 0h1M334 200h1M277 202h1M331 204h1m1 0h1M277 205h1m58 0h1M281 207h1m50 0h1m83 0h1M290 209h1m44 0h1m57 0h1m32 0h1" stroke="#2020ff" stroke-width="1" fill="none" stroke-opacity="0.45"/>
<path d="M339 79h1m1 0h1M277 80h1m55 0h1M350 83h1M340 84h1M342 86h1M344 87h1M277 88h1m66 0h1M346 93h1M345 94h1M346 95h1M345 97h1M344 98h1M344 100h1M277 105h1m55 0h1M350 106h1M333 107h1M339 108h1M277 109h1M343 110h1M338 111h1M336 112h1m1 0h1m4 0h1M337 113h1M338 116h1m28 0h1M360 120h1M351 123h1M277 124h1m92 0h1M356 125h1M349 126h1M277 127h1m60 0h1m19 0h1m1 0h1M343 128h1m27 0h1M277 129h1m70 0h1M334 130h1M277 132h1M363 133h1M289 134h1M342 135h1M336 137h1M300 138h1m2 0h1m35 0h1m4 0h1M294 139h1m39 0h2M277 140h1m25 0h1m2 0h1m55 0h1m4 0h1M277 141h1M291 142h1m4 0h1m45 0h1M299 143h1m62 0h1m4 0h1M301 144h1m2 0h1M300 146h1m3 0h1m36 0h1m19 0h1M340 147h1m62 0h1M334 148h1M277 149h1m10 0h1m53 0h1M289 151h1m10 0h1M335 152h1m34 0h1M277 153h1m92 0h1M336 155h1M301 156h1m70 0h1M284 157h1m13 0h1m77 0h1M303 159h1M292 160h1m80 0h1M277 161h1m15 0h1m4 0h1M277 162h1M335 163h1M299 164h1M299 165h1M281 166h1M297 167h1M283 168h1m12 0h1M277 170h1m16 0h1M277 171h1m9 0h1M283 172h1M279 175h1m16 0h1M331 176h1m5 0h1M291 177h1m40 0h1M289 178h1m44 0h2M331 179h1M296 180h1M287 181h1m7 0h1M334 182h1M282 183h1m5 0h1M278 184h1m2 0h1m53 0h1M296 185h1M277 187h1m3 0h1m14 0h1m3 0h1m36 0h1M296 189h1m39 0h1M277 190h1M299 191h1m35 0h1M277 192h1M277 193h1M277 194h1m12 0h1M277 195h1m15 0h1M299 197h1M277 198h1m13 0h1M411 199h1M277 202h1m17 0h1M277 203h1M295 206h1M290 208h1m44 0h1M337 209h1" stroke="#2020ff" stroke-width="1" fill="none" stroke-opacity="0.45"/>
<path d="M335 86h1M337 87h1m1 0h1M338 88h3m2 0h1M334 89h1M339 91h1m4 0h1M343 92h1M333 93h1m5 0h1M342 95h2M277 96h1m64 0h1M342 97h1M277 98h1m63 0h1M340 99h1M341 100h1M277 101h1m60 0h1M335 102h1m1 0h1M335 104h3M336 105h2M337 106h1M335 107h2M277 111h1M277 119h1M277 120h1M353 129h2m2 0h1M355 130h2M351 131h2m3 0h1M323 132h1m29 0h1M329 133h1m20 0h2m3 0h1M303 134h1m22 0h1m22 0h1m2 0h1M277 135h1m30 0h1m40 0h1m4 0h1m3 0h1m1 0h1M304 136h1m3 0h1m1 0h1m17 0h1M304 137h1m2 0h1m1 0h1m15 0h1m29 0h1m3 0h1M325 138h1m1 0h1m2 0h1m25 0h2M324 139h1m3 0h1M309 140h1m13 0h1m1 0h1m21 0h1m1 0h1m6 0h1M308 141h1m18 0h1m17 0h1m8 0h2M322 142h1m22 0h1m4 0h1m2 0h1m4 0h3M307 143h1m13 0h1m5 0h1m2 0h1m17 0h1m1 0h1m4 0h2m1 0h1M322 144h1m1 0h1m3 0h2m16 0h1m1 0h1m2 0h1m1 0h1m3 0h1M325 145h1m28 0h1M308 146h1m20 0h1m14 0h1m5 0h3m1 0h1M305 147h1m1 0h2m8 0h1m12 0h1m12 0h1m11 0h4M317 148h1m25 0h1m3 0h2m8 0h1M309 149h1m5 0h1m4 0h1m3 0h1m1 0h1m37 0h1M307 150h1m8 0h1m2 0h2m3 0h1m1 0h1m19 0h1m14 0h1M304 151h1m1 0h1m1 0h1m14 0h1m15 0h2m24 0h1M339 152h1m24 0h1m4 0h1M322 153h1m9 0h1m8 0h1m25 0h1M306 154h1m17 0h1m6 0h1m36 0h1M306 155h1m1 0h1m31 0h1m1 0h1m24 0h1M277 156h1m29 0h2m24 0h1m33 0h1M328 157h1m12 0h1m1 0h1m22 0h1m1 0h1M277 158h1m29 0h2m30 0h1m3 0h1m26 0h1M277 159h1m27 0h1m20 0h1m40 0h1M304 160h1m6 0h1m12 0h1m2 0h1M323 161h1m4 0h1m4 0h1m7 0h1m22 0h1m1 0h1m1 0h1M300 162h1m2 0h1m3 0h1m19 0h1m15 0h1M302 163h1m15 0h1M305 164h1m17 0h1m7 0h1M301 165h1m1 0h1m3 0h2M303 166h2m3 0h1m15 0h1m11 0h1M301 167h1m3 0h1m2 0h2m15 0h1M307 168h1m2 0h1m14 0h2M305 169h1m25 0h1m2 0h1M297 170h1m12 0h1m14 0h2m6 0h1M297 171h1m2 0h1m2 0h1m1 0h1m3 0h3m7 0h1m6 0h1m1 0h1m6 0h1M326 172h1m3 0h1M308 173h1M308 174h4m17 0h1M303 175h2m1 0h1M277 176h1m51 0h1M297 177h2m5 0h1m3 0h1m2 0h1m15 0h1m2 0h1M298 178h1m7 0h2m11 0h1m7 0h1M298 179h2m4 0h1M277 180h1m41 0h1m9 0h1M306 181h1m18 0h2m2 0h1M300 182h1m3 0h2m1 0h1m12 0h1M320 183h1m3 0h1M302 184h2m1 0h1m4 0h1m14 0h2m2 0h1M306 185h1m21 0h1m2 0h1m1 0h1M305 186h2m3 0h1m13 0h1m5 0h1M334 187h1M305 188h2m5 0h1M294 189h1m16 0h1m15 0h1M304 190h1m24 0h1m2 0h1M330 191h2m1 0h1M305 192h1m23 0h1M303 193h1m24 0h1m1 0h1m1 0h1M307 194h2m17 0h1m2 0h2M300 195h1m28 0h1M324 196h1M303 197h3m2 0h2m16 0h1M301 198h1m21 0h1m3 0h1M303 199h2m17 0h1m1 0h2m2 0h1M303 200h1m2 0h4m12 0h1m4 0h1M303 201h1M304 202h1M325 203h1M301 204h1m5 0h2m20 0h1M301 205h1m1 0h3m2 0h2m17 0h1M277 206h1m25 0h1m9 0h1m10 0h1m2 0h1M306 207h1m6 0h2m1 0h1m9 0h1M305 208h1m11 0h1m12 0h1M308 209h1M277 210h1m22 0h1m8 0h1m7 0h1m3 0h1m8 0h1M277 211h2m4 0h2m2 0h3m2 0h1m2 0h1m1 0h1m4 0h1m1 0h3m5 0h3m1 0h1m1 0h1m1 0h1m5 0h1m1 0h2m1 0h1" stroke="#2020ff" stroke-width="1" fill="none" stroke-opacity="0.6"/>
<path d="M333 82h1M333 83h1M334 84h2M333 85h1m3 0h1M335 86h1m2 0h2M334 87h2m1 0h1M333 88h1m1 0h1m5 0h1M334 89h1m5 0h2M340 90h1m2 0h1M277 91h1m55 0h1M342 93h1M277 94h1m61 0h1m2 0h1M277 95h1m63 0h1M277 96h1m62 0h1M277 97h1m65 0h1M341 98h1M277 99h1m55 0h1m6 0h2M333 100h1m6 0h1M338 101h2m2 0h1M277 102h1m63 0h1M334 103h2m2 0h1M277 112h1M277 113h1M277 118h1M277 119h1M355 130h1M311 132h1m13 0h2m1 0h1m19 0h1m4 0h1M308 133h1m17 0h1m2 0h2m24 0h1m3 0h1M277 134h1m29 0h1m20 0h1m18 0h1m6 0h1M277 135h1m26 0h2m3 0h1m18 0h1m19 0h1M277 136h1m32 0h1m16 0h1m18 0h1m1 0h2m1 0h1M355 137h2M309 138h1m16 0h1m1 0h1m21 0h1m10 0h1M309 139h1m20 0h1m19 0h1m5 0h2m1 0h1m1 0h2M309 140h1m15 0h1m5 0h1m23 0h2M300 141h1m22 0h1m6 0h1m18 0h2m3 0h1M305 142h2m1 0h1m16 0h1m25 0h2m1 0h1M277 143h1m48 0h1m2 0h1m19 0h2m1 0h1m2 0h2m3 0h1M277 144h1m30 0h1m21 0h1m23 0h1M277 145h1m30 0h1m11 0h1m30 0h1m1 0h1m1 0h1M307 146h1m17 0h2m1 0h2m12 0h1m5 0h1m6 0h2m3 0h1M307 147h1m7 0h1m1 0h1m30 0h3m8 0h1M314 148h1m1 0h1m9 0h1m1 0h1m1 0h1m14 0h1M318 149h1m3 0h3m1 0h1m18 0h1m12 0h1m6 0h1M308 150h1m6 0h1m29 0h2m15 0h2m1 0h1M303 151h4m2 0h1m9 0h1M308 152h1m12 0h1m45 0h1M307 153h1m24 0h1m11 0h1m22 0h1M305 154h1m25 0h1m8 0h1m24 0h1m2 0h1M277 156h1m47 0h2m40 0h1M277 157h1m48 0h2m39 0h2M277 158h1m47 0h2m12 0h1m1 0h1M327 159h1m2 0h1m35 0h1m2 0h1M305 160h1m1 0h1m18 0h1m3 0h1m12 0h1M311 161h2m13 0h1M307 162h1m10 0h1m7 0h1m2 0h1m3 0h2m7 0h1m2 0h1m19 0h3M300 163h1m6 0h1m9 0h1m7 0h1m2 0h1m17 0h1m16 0h1M303 164h1m1 0h1m19 0h2m3 0h1m3 0h1M302 165h1m1 0h1m18 0h1m2 0h1m5 0h1M277 166h1m25 0h1m3 0h2m1 0h1m14 0h1m1 0h1m2 0h1M277 167h1m26 0h1m19 0h1m2 0h1m4 0h1M277 168h1m23 0h1m2 0h1m1 0h1m17 0h1m6 0h1M302 169h1m4 0h1m18 0h1m1 0h1m4 0h1M301 170h1m10 0h1m14 0h1M300 171h1m10 0h1m15 0h1m6 0h1M298 172h1m2 0h1m4 0h1m19 0h1m1 0h1m2 0h1M305 173h1m3 0h1m20 0h2m1 0h1M277 174h1m29 0h1m1 0h1m16 0h1m1 0h1M307 175h1m1 0h1m16 0h1M277 176h1m19 0h1m3 0h1m5 0h1M308 177h1m21 0h1M277 178h1m23 0h1m24 0h1M325 179h1m1 0h1M305 180h1m15 0h1m2 0h1m1 0h1M301 181h1m1 0h1m17 0h1m1 0h1m3 0h1M277 182h1m48 0h1m2 0h2M302 183h1m1 0h1m3 0h1m1 0h1m12 0h1m4 0h2M303 184h1m1 0h1m2 0h1m14 0h1M307 185h2m1 0h1m18 0h1m3 0h1M301 186h2m8 0h1m14 0h2m6 0h1M303 187h1m2 0h1m3 0h1m1 0h1M311 188h1m14 0h1m2 0h1m3 0h1M305 189h1m26 0h1M313 190h1m16 0h2M301 192h1m3 0h3m21 0h1m2 0h1M302 193h1m15 0h1m8 0h1M300 194h1M303 195h1m3 0h1m16 0h2M302 196h1m20 0h1m2 0h1m2 0h1M302 197h1m1 0h1m18 0h1m3 0h1M305 198h1m20 0h1m1 0h1M304 199h1m17 0h1M309 200h1m15 0h2M304 201h1m2 0h1m12 0h1m2 0h2m1 0h1M302 202h2m1 0h1m1 0h1m15 0h2m1 0h1M327 203h1M324 204h2M298 205h2m4 0h1m3 0h1m18 0h1M277 206h1m25 0h1m6 0h3m1 0h1m9 0h3m1 0h1M277 207h1m34 0h1m3 0h1m10 0h1M277 208h1m23 0h1m7 0h1m8 0h1m4 0h1m1 0h1m4 0h1M277 209h1m24 0h1m4 0h2m8 0h1m3 0h1M312 210h1m3 0h1m1 0h1m1 0h1m8 0h1M278 211h2m1 0h1m2 0h1m1 0h2m4 0h1m1 0h4m2 0h2m1 0h1m1 0h2m1 0h1m1 0h1m4 0h1m2 0h2m1 0h1m7 0h2m2 0h3" stroke="#2020ff" stroke-width="1" fill="none" stroke-opacity="0.6"/>
<path d="M333 82h1M334 85h1M337 86h1m1 0h1M336 87h1m2 0h1M333 88h1m1 0h1m3 0h3M337 89h1M277 90h1m60 0h1m2 0h1m2 0h1M341 91h1m1 0h1M277 92h1M277 93h1m55 0h1m6 0h2m1 0h1M341 95h1M277 96h1m63 0h1M277 99h1M277 100h1M277 101h1m60 0h1M336 103h3M340 104h1M337 105h3M338 106h1M338 107h1M277 112h1M277 117h1M277 118h1M277 119h1M353 129h1M353 130h1m4 0h1M351 131h2m3 0h1M320 132h2m4 0h1M277 133h1m29 0h1m1 0h1m38 0h2m8 0h1M308 134h1m17 0h1m20 0h1m3 0h1m6 0h1M302 135h1m47 0h1m1 0h1m2 0h1M277 136h1m28 0h1m1 0h1m17 0h2m1 0h1m21 0h1m5 0h1M305 137h2m18 0h1m20 0h1m5 0h3m4 0h1M327 138h1m29 0h2M310 139h1m35 0h1m2 0h1m6 0h1m1 0h1m3 0h1M301 140h1m21 0h1m6 0h1m16 0h1m4 0h1M302 141h1m26 0h1m15 0h1m12 0h1M277 142h1m28 0h1m15 0h1m6 0h1m16 0h3m6 0h3M301 143h1m6 0h1m14 0h1m2 0h1m1 0h1m22 0h1M305 144h1m17 0h1m21 0h2m3 0h1m8 0h1M321 145h1m1 0h1m2 0h1m1 0h2m18 0h1m7 0h1M307 146h1m16 0h1m1 0h1m15 0h1M308 147h1m16 0h1m4 0h1m23 0h1M304 148h1m3 0h1m13 0h1m5 0h1m30 0h1M307 149h1m9 0h1m1 0h1m24 0h1m19 0h1M307 150h1m1 0h1m10 0h1m4 0h1m18 0h1m1 0h2m16 0h1M306 151h2m12 0h1m42 0h1M322 152h1m15 0h1m6 0h1m18 0h1M306 153h1m36 0h1m23 0h1M304 154h1m20 0h1m15 0h2M308 155h1m15 0h2m7 0h1m31 0h1M308 156h1m33 0h1m25 0h1M277 157h1m46 0h2m1 0h1M277 158h1m31 0h1m15 0h1m13 0h1m28 0h1m1 0h1M326 159h2m1 0h1m13 0h1m22 0h1M306 160h2m2 0h1m13 0h1m6 0h1m9 0h1m1 0h1m21 0h1m1 0h1M304 161h1m2 0h1m26 0h1m8 0h2M325 162h1m15 0h1m2 0h1M317 163h1m6 0h1m1 0h1m6 0h1M306 164h1m19 0h1m1 0h1M277 165h1m29 0h2m15 0h1M302 166h1m3 0h1m24 0h1M277 167h1m23 0h1m3 0h1M277 168h1m29 0h1m3 0h1m17 0h1M309 169h1m16 0h2m3 0h1m1 0h1m1 0h1M303 170h2m4 0h1m10 0h1m9 0h1M303 171h1m1 0h1m3 0h1M305 172h2m21 0h1m5 0h1M302 173h1m1 0h1m1 0h1m2 0h1m1 0h1m14 0h1m1 0h1M309 174h1m18 0h1M300 175h1m6 0h1m18 0h1M300 176h1m2 0h1m1 0h1m3 0h2m15 0h1M277 177h1m26 0h1M303 178h1m3 0h1M298 179h1m20 0h1m5 0h1M277 180h1m27 0h1m13 0h1m6 0h1M277 181h1m24 0h1m4 0h1m12 0h1m1 0h1m1 0h1m2 0h2m1 0h1M307 182h1m19 0h1M301 183h1m18 0h2m2 0h1m1 0h2M323 184h2m9 0h1M301 185h1m1 0h1m3 0h1m24 0h1M301 186h1m4 0h1m17 0h1m1 0h1m3 0h1M312 187h1m14 0h1m3 0h1m3 0h1M294 188h1M304 189h1m1 0h1m5 0h2m16 0h1m2 0h1M333 190h1M305 191h1m25 0h1m1 0h1M304 192h1m2 0h1m21 0h1M307 193h1m25 0h1M302 194h2M300 195h1m1 0h1m23 0h1M303 196h1m2 0h2m18 0h1M307 197h2M323 198h1m1 0h1m1 0h1M301 199h1m3 0h1m3 0h1m13 0h1m2 0h1M325 200h3m1 0h1M304 201h1m3 0h1m11 0h2m1 0h1m4 0h1M308 202h1m15 0h1m4 0h1M322 203h1M299 204h2m23 0h1m4 0h1M305 205h1m1 0h1m1 0h1m15 0h1M301 206h1m7 0h2m4 0h1M277 207h1m23 0h1m3 0h1m9 0h1m8 0h1M277 208h1m31 0h1m12 0h2m3 0h1M304 209h1m4 0h1m1 0h2m6 0h1m9 0h1M322 210h3M281 211h2m1 0h1m3 0h1m1 0h1m1 0h3m3 0h2m4 0h1m2 0h1m1 0h1m1 0h1m2 0h4m3 0h2m1 0h1m3 0h2m2 0h4" stroke="#2020ff" stroke-width="1" fill="none" stroke-opacity="0.6"/>
<path d="M337 90h1M334 91h1M334 92h2m1 0h1M337 93h2M334 94h1m3 0h1M333 95h1m1 0h1M334 96h2M334 97h2m2 0h1M333 98h1m1 0h3M335 99h1m2 0h2M335 100h2m2 0h1M336 102h1M315 132h1m1 0h1M315 133h3m2 0h1m1 0h3M312 134h2m4 0h1m2 0h3m1 0h1M315 135h3m1 0h1m1 0h1M312 136h4m5 0h1m1 0h1M314 137h1m1 0h2m2 0h2m2 0h1M313 138h2m3 0h2m2 0h1M315 139h1m1 0h1m5 0h1M310 140h1m2 0h1m1 0h2M310 141h6m4 0h3M310 142h1m3 0h1m1 0h5M310 143h3m4 0h1m1 0h1M310 144h1m2 0h1m5 0h1M311 145h1m2 0h2m2 0h1M310 146h1m4 0h1M318 147h1m1 0h4M311 148h1m39 0h2M310 149h1m1 0h2m35 0h4m2 0h1M311 150h1m36 0h2m3 0h2m1 0h1m1 0h1M312 151h2m3 0h1m31 0h3m4 0h2m1 0h1M311 152h4m2 0h1m32 0h2m1 0h3m3 0h3M309 153h1m1 0h2m1 0h1m30 0h1m2 0h1m3 0h2m2 0h2m1 0h5M310 154h2m1 0h1m2 0h4m27 0h2m1 0h2m1 0h9M311 155h1m1 0h1m5 0h2m1 0h1m23 0h1m3 0h1m1 0h2m1 0h6m1 0h2M311 156h2m10 0h1m22 0h6m1 0h1m2 0h1m1 0h2m1 0h2M309 157h1m1 0h2m1 0h1m4 0h1m1 0h1m23 0h1m3 0h14m1 0h2M313 158h2m1 0h1m3 0h1m23 0h2m3 0h1m1 0h4m1 0h6M314 159h8m22 0h1m1 0h1m1 0h3m1 0h6m1 0h4M308 160h1m6 0h5m2 0h1m23 0h1m3 0h6m1 0h3m1 0h3M310 161h1m3 0h2m5 0h1m25 0h8m1 0h2m1 0h3M309 162h1m4 0h2m5 0h1m26 0h12m1 0h1M310 163h1m1 0h2m5 0h2m27 0h3m6 0h1M310 164h2m8 0h1m1 0h1M311 165h1m2 0h1m2 0h2M311 166h1m1 0h2m1 0h2m1 0h1m1 0h2M312 167h3m2 0h1m4 0h1M312 168h1m1 0h1m2 0h2m1 0h2M313 169h1m2 0h1m5 0h1M313 170h2m1 0h1m4 0h1m2 0h1M316 171h2m5 0h2M313 172h2m7 0h1M314 173h1m1 0h1m4 0h3m1 0h1M314 174h1m3 0h1m1 0h1M317 175h1m1 0h2m2 0h1M313 176h1m1 0h2m2 0h1m4 0h1M314 177h1m1 0h1m5 0h1m2 0h1M311 178h1m1 0h2m1 0h2M308 179h2m4 0h1m6 0h1M317 180h1M309 181h1m3 0h2m2 0h1M309 182h1m1 0h1m1 0h2M312 183h2m1 0h1M314 184h1m4 0h1M313 185h1m1 0h1m5 0h1M314 186h4m3 0h1m1 0h1M308 187h1m4 0h1m1 0h2m6 0h1M308 188h2m11 0h1m1 0h1M319 189h1m2 0h1M307 190h2m10 0h1m1 0h1m1 0h2M312 191h1m2 0h1m2 0h1m3 0h1m1 0h1m2 0h1M309 192h1m1 0h1m2 0h1m1 0h1m10 0h1M310 193h1m9 0h1M305 194h1m5 0h1m1 0h1m6 0h1m1 0h3M308 195h1m1 0h1m2 0h1m1 0h1m4 0h1M309 196h1m1 0h1m2 0h1m1 0h3m1 0h2M312 197h2m4 0h2m1 0h2M314 198h1m3 0h1m1 0h2M312 199h1m1 0h5M312 200h1m2 0h1M309 201h1m1 0h2m3 0h4M310 202h1m1 0h2m1 0h1m2 0h1M310 203h1m2 0h1m1 0h1m2 0h2m3 0h1M309 204h2m6 0h2m4 0h1M311 205h1m1 0h1m7 0h1M316 206h1m1 0h2m1 0h1M319 207h1m1 0h2" stroke="#2020ff" stroke-width="1" fill="none" stroke-opacity="0.75"/>
<path d="M335 90h2M334 91h1m1 0h2M336 92h2M336 93h1M335 94h1m2 0h1M333 95h4M335 96h2m1 0h2M335 97h1m3 0h1M333 98h3M334 99h1m3 0h1M335 101h1M317 132h2M314 133h1m2 0h2m1 0h3M311 134h5m1 0h3m3 0h1m1 0h1M310 135h1m2 0h2m1 0h4m2 0h4M312 136h2m1 0h2m1 0h2m1 0h1M312 137h1m1 0h1m1 0h2m1 0h1m1 0h4M312 138h1m1 0h1m3 0h2M311 139h1m2 0h1m2 0h1m1 0h2m1 0h1M311 140h3m5 0h1m2 0h1M313 141h1m2 0h2m2 0h1M314 142h1m1 0h1m1 0h1m2 0h1M309 143h1m1 0h1m3 0h1m1 0h1m1 0h1M310 144h1M310 145h2M310 146h1m2 0h1m3 0h1m1 0h1m1 0h1M309 147h2m7 0h2m2 0h2M310 148h1m1 0h1m7 0h2M310 149h2m1 0h1m34 0h1m5 0h4M311 150h1m38 0h1m4 0h2m1 0h1M317 151h1m30 0h1m4 0h4m2 0h2m1 0h1M310 152h3m1 0h1m1 0h3m30 0h1m3 0h2m1 0h2m2 0h1M310 153h1m2 0h3m1 0h2m1 0h1m25 0h1m2 0h1m1 0h1m2 0h2m4 0h1m3 0h1M310 154h1m1 0h1m1 0h1m1 0h1m3 0h1m24 0h3m2 0h1m1 0h11m1 0h1M315 155h2m2 0h2m2 0h1m19 0h2m4 0h10m1 0h1m1 0h1M311 156h1m1 0h1m3 0h1m4 0h1m20 0h1m4 0h2m1 0h10m2 0h3M310 157h1m2 0h1m4 0h1m1 0h3m25 0h5m1 0h11M310 158h2m1 0h1m4 0h3m24 0h1m1 0h2m2 0h1m1 0h3m2 0h7M311 159h1m1 0h1m6 0h2m24 0h1m1 0h1m2 0h8m1 0h1m2 0h1M309 160h1m2 0h1m1 0h1m5 0h1m25 0h1m1 0h1m2 0h1m1 0h5m2 0h4M316 161h1m30 0h2m1 0h3m1 0h2m1 0h1m1 0h2m1 0h1M350 162h10m2 0h2M308 163h2m1 0h2m2 0h1m3 0h2m28 0h1m1 0h1m1 0h1m1 0h1M311 164h1m3 0h3M312 165h1m1 0h1m1 0h1m3 0h1M315 166h2M311 167h1m1 0h1m4 0h1m4 0h1M312 168h1m5 0h2M312 169h1m3 0h1m4 0h1M313 170h1m2 0h1m4 0h1m1 0h1M315 171h2m4 0h1m1 0h1M313 172h1m7 0h1M312 173h3m2 0h2m3 0h3M318 174h1m4 0h1m1 0h1M314 175h1m6 0h4M313 176h1m5 0h1m1 0h1m1 0h1m1 0h1M315 177h1m5 0h2m1 0h1M309 178h1m3 0h1m4 0h1m2 0h1m1 0h1M308 179h1m1 0h2m1 0h2m7 0h1M310 180h1m2 0h1m3 0h1M309 181h2m1 0h2m1 0h2M312 182h1M315 183h1m1 0h1M316 184h1m1 0h4M312 185h1m5 0h1m2 0h3M307 186h1m8 0h1m2 0h2m2 0h1M309 187h1m5 0h2m2 0h1m1 0h1M309 188h1m4 0h1m2 0h2m1 0h1m2 0h1m1 0h1M310 189h1m4 0h2m4 0h1m3 0h1M307 190h2m1 0h1m10 0h1m2 0h1m1 0h1M308 191h1m2 0h1m1 0h1m3 0h1m1 0h1m3 0h3M311 192h2m3 0h1m3 0h4m1 0h2M304 193h1m7 0h2m5 0h2m1 0h2m2 0h1M304 194h2m3 0h2m1 0h4m7 0h2M311 195h1m6 0h3M310 196h3m1 0h1m1 0h1m1 0h1m1 0h1M310 197h1m4 0h1m1 0h1m2 0h2M312 198h1m1 0h4m3 0h1M311 199h4m3 0h2M311 200h1m3 0h1M310 201h1m2 0h2m2 0h3M310 202h1m3 0h1m1 0h2M310 203h2M311 204h3m1 0h1m1 0h1m1 0h2M315 205h1m4 0h1m1 0h1M319 206h2M322 207h1M320 208h2" stroke="#2020ff" stroke-width="1" fill="none" stroke-opacity="0.75"/>
<path d="M336 91h1M337 92h1M334 93h5M333 94h1m2 0h1M334 95h2m1 0h1M335 96h1m1 0h2M333 97h1m1 0h1M333 98h1m1 0h3M335 99h1m1 0h1M335 100h2M336 101h1M318 132h1m3 0h1M312 133h1m1 0h3m2 0h2m2 0h1m1 0h1M311 134h6m1 0h1m2 0h1M310 135h1m1 0h7m1 0h1M313 136h1m1 0h1m3 0h2M315 137h3m1 0h1m4 0h1M312 138h2m3 0h1m1 0h1m2 0h1M312 139h1m5 0h1m2 0h1M310 140h1m9 0h2M311 141h2m1 0h1m6 0h1M311 142h1m4 0h3m2 0h1M311 143h1m3 0h1M309 144h2m4 0h1m2 0h1M309 145h1m2 0h1m1 0h2m1 0h1M310 146h1m2 0h1m1 0h1m1 0h1m2 0h1M310 147h1M312 148h2m5 0h2m29 0h2m1 0h1M348 149h1m1 0h4m3 0h1M350 150h1m1 0h1m1 0h1m4 0h2M310 151h1m2 0h2m33 0h1m2 0h1m1 0h3m4 0h1M313 152h1m2 0h2m31 0h2m2 0h2m1 0h2m1 0h2M316 153h1m1 0h2m1 0h1m24 0h4m1 0h3m1 0h5m1 0h4M309 154h1m5 0h2m5 0h1m24 0h2m1 0h5m1 0h3m2 0h3M309 155h1m3 0h2m2 0h2m1 0h1m1 0h1m20 0h4m2 0h2m1 0h11M310 156h1m1 0h1m4 0h1m3 0h1m1 0h1m20 0h1m4 0h5m1 0h2m1 0h4M309 157h4m2 0h1m2 0h1m2 0h3m21 0h1m1 0h11m1 0h4m1 0h1M312 158h2m1 0h1m4 0h1m1 0h2m21 0h1m1 0h7m2 0h10M313 159h2m4 0h1m2 0h1m21 0h1m1 0h1m1 0h13m2 0h1M315 160h1m1 0h1m3 0h1m24 0h2m2 0h4m1 0h8M308 161h2m4 0h3m4 0h1m25 0h2m1 0h5m1 0h3m1 0h2M313 162h2m1 0h1m2 0h1m1 0h1m24 0h2m2 0h4m1 0h1m1 0h5m1 0h1M308 163h1m12 0h1m28 0h1m1 0h2m1 0h2M311 164h1m1 0h1M310 165h1m3 0h1m1 0h1m3 0h2M312 166h1m2 0h1m3 0h4M313 167h1m2 0h2m2 0h2m1 0h1M313 168h2m3 0h1m3 0h1M320 169h1m2 0h1M317 170h1m5 0h2M322 171h1M316 172h1m1 0h1m2 0h1M312 173h4m4 0h1m3 0h1M314 174h1m1 0h2m2 0h2m1 0h1M313 175h1m1 0h2m8 0h1M313 176h2m10 0h1M313 177h2m1 0h2m3 0h2m1 0h1M308 178h4m3 0h1m5 0h1m2 0h2M311 179h2m3 0h3m3 0h1M309 180h1m1 0h3m2 0h3M314 181h1m1 0h2M309 182h2m1 0h3m1 0h1M313 183h1m1 0h3M313 184h2m3 0h1M312 185h1m1 0h2m4 0h1m1 0h1M313 186h1m4 0h2M308 187h2m5 0h1m1 0h1m1 0h1m1 0h2m1 0h1M314 188h2m2 0h3m1 0h1M308 189h1m1 0h1m5 0h1m4 0h1m3 0h2M312 190h1m2 0h1m2 0h3m3 0h1m1 0h1M309 191h2m3 0h1m1 0h1m2 0h2m1 0h1m2 0h2M310 192h1m2 0h1m2 0h1m1 0h1m1 0h1m1 0h1m4 0h1M304 193h1m1 0h1m4 0h2m2 0h2m6 0h1M310 194h1m3 0h2M308 195h1m2 0h2m9 0h1M308 196h3m2 0h1m4 0h1m1 0h2M310 197h2m2 0h2m5 0h1M313 198h1m3 0h2M312 199h1M313 200h1m1 0h1m2 0h2M311 201h2m1 0h1M311 202h1m4 0h1m2 0h1M312 203h3m1 0h2m1 0h1M312 204h1m8 0h3M315 205h1m1 0h1m5 0h1M316 206h1m4 0h2M319 207h2m1 0h1" stroke="#2020ff" stroke-width="1" fill="none" stroke-opacity="0.75"/>
<path d="M312 76h1m4 0h1m2 0h1M280 79h1M278 112h1M278 114h1M332 119h1M284 120h1M292 122h1M287 125h1M298 127h1M280 128h1m3 0h1m12 0h1M300 129h1M304 130h1M307 132h1M367 163h1M368 164h1M369 168h1M368 169h1M339 176h1M339 178h1M370 181h1M369 182h1M372 184h1M370 185h1M371 192h1M371 193h1M338 195h1M339 200h1m32 0h1M339 205h1M368 211h1" stroke="#000" stroke-width="1" fill="none" stroke-opacity="0.5"/>
<path d="M309 76h1m3 0h1M288 78h1M284 79h1M283 80h1M280 117h1M281 119h1m50 0h1M283 122h1m47 0h1M284 123h1m5 0h2M282 124h1m10 0h1M294 126h1m2 0h1m1 0h1M333 127h1M277 128h1M292 129h1m4 0h1m6 0h1M285 131h1m1 0h1m10 0h1M304 132h1M370 169h1M367 170h1M338 171h1m29 0h1M369 175h1M338 177h1M339 180h1M369 185h1M369 186h1M369 188h1M339 189h1M373 195h1M374 196h1M339 199h1M370 203h1M368 206h1M339 209h1" stroke="#000" stroke-width="1" fill="none" stroke-opacity="0.5"/>
<path d="M296 75h1m11 0h1M293 76h1m16 0h1m14 0h1M277 109h1M278 114h1M281 121h1m49 0h1M277 123h1m16 0h2M277 124h1m54 0h1M295 125h1m3 0h1M333 127h1M286 129h1M293 132h1M367 163h1m10 0h1M370 165h1M340 166h1M339 167h1M339 169h1M339 174h1M368 177h1M339 192h1M339 204h1M340 210h1M342 211h1" stroke="#000" stroke-width="1" fill="none" stroke-opacity="0.5"/>
<path d="M296 78h1M292 79h1m34 0h1m2 0h1M285 80h1m3 0h2m39 0h1M332 81h1M277 82h2m4 0h2m48 0h1M278 83h2m5 0h1M277 84h1m2 0h1M279 85h1M278 87h1m1 0h1M279 88h1M277 93h2M277 94h1M277 95h1M277 96h1M277 97h1M277 99h1M277 100h1M278 102h1M278 103h2M278 104h1M277 105h1m1 0h1M278 107h1m54 0h1M280 108h1m2 0h2M279 109h1M279 110h1m53 0h1M281 111h1m1 0h1m47 0h2M281 112h1M288 113h1m42 0h1M280 114h1m9 0h1M284 115h1m3 0h2M330 116h2M288 117h1m6 0h2M289 118h1m3 0h1m5 0h1m30 0h1M285 119h2m4 0h1m3 0h1m4 0h1m1 0h1m4 0h1m20 0h1M289 120h1m3 0h1m4 0h1m1 0h1m6 0h1m19 0h1M287 121h1m10 0h1m4 0h2m1 0h1m19 0h1M286 122h1m11 0h1m7 0h1m19 0h1M307 123h1M330 124h1M309 125h1M304 126h1M302 127h1M307 128h1M310 129h1M308 130h1m22 0h1M309 131h2m16 0h1M308 132h2m3 0h1m11 0h2m3 0h1M365 163h1M341 166h1m24 0h1M342 167h1M342 168h1M342 169h1M340 171h2M366 172h1M366 174h1M366 177h1M366 179h1M368 180h1M339 182h1M366 183h1M340 184h2M341 185h1m24 0h1M366 186h1M368 189h1M367 190h1M341 191h1M367 192h1M367 193h1M367 200h1M340 203h1m25 0h1M341 204h1M365 208h1M343 209h1M343 210h1M365 211h1" stroke="#000" stroke-width="1" fill="none" stroke-opacity="0.65"/>
<path d="M299 77h1m21 0h1M330 78h1M289 79h1m41 0h1M288 80h2M332 81h1M280 82h1m4 0h1M278 83h1m1 0h1M278 85h1M278 86h1M277 87h1M279 89h1M279 93h1M277 105h2M279 109h2M284 110h1M281 112h1m49 0h1M282 113h1m1 0h1m5 0h1m39 0h1M280 114h2m2 0h1m1 0h1m4 0h2M280 115h1m3 0h2m3 0h1m38 0h1M282 116h3m6 0h1m3 0h1m5 0h1m29 0h1M284 117h1m3 0h1m5 0h1m2 0h1m1 0h1M286 118h1m5 0h1m3 0h1m9 0h1m19 0h1M291 119h1m6 0h1m8 0h1m21 0h3M292 120h1m6 0h1m3 0h2m21 0h3M287 121h1m4 0h1m12 0h1m1 0h1m19 0h1M288 122h1m19 0h1m20 0h1M303 123h1m22 0h1M302 124h1m1 0h1m22 0h2m1 0h1M304 125h1m26 0h1M301 126h1m2 0h2m1 0h2m20 0h1M302 127h1m1 0h1m23 0h1M304 128h1m6 0h1M308 130h1m20 0h1M312 131h1m15 0h1M322 132h1m3 0h1M344 163h1M342 164h1M367 165h1M342 169h1M340 170h1M340 172h1M366 173h1M366 175h1M365 177h1M365 178h1M367 179h1M366 180h1M341 182h1M340 183h1M367 187h1M341 188h1M366 189h1M367 191h1M340 193h1M366 194h1M341 196h1M341 197h1m24 0h1M341 201h1M341 203h1m24 0h2M366 205h1M342 206h1M366 210h1M344 211h1m17 0h1" stroke="#000" stroke-width="1" fill="none" stroke-opacity="0.65"/>
<path d="M303 77h1m10 0h1M289 79h1m3 0h1m33 0h1M285 80h1m3 0h1m43 0h1M279 81h1m2 0h1m5 0h1m43 0h1M281 83h2M281 84h1M281 85h1M278 86h1M280 87h1M278 88h2M277 89h2M277 90h2M279 93h1M278 94h1M277 95h1M278 102h1M278 103h1M278 105h1M277 107h1m3 0h1M281 108h1m1 0h1m49 0h1M283 109h2M280 110h1M281 111h1m1 0h2M289 112h1M287 113h1m3 0h1m37 0h1m2 0h1M283 114h1m1 0h2m1 0h1m4 0h1m34 0h1m1 0h1M286 115h1m13 0h1m27 0h1m1 0h1M285 116h1m3 0h1m4 0h1m4 0h2m27 0h1M292 117h1m5 0h1m29 0h1M284 118h1m15 0h1M286 119h2M289 120h1m9 0h1m2 0h1m24 0h1M286 121h1m2 0h1m6 0h1m7 0h1m2 0h1M301 122h2M328 123h2M304 124h1m2 0h2m20 0h1M307 125h1M301 126h1m8 0h1m18 0h1M303 127h1m3 0h1m21 0h1m2 0h1M310 128h1m17 0h1m2 0h2M308 129h1M309 130h2m18 0h2M310 131h1m1 0h1M319 132h1m9 0h1M344 163h1m18 0h1M366 164h1M366 165h1M340 172h1M366 173h1M366 174h1M341 175h1M367 180h1M340 182h1m25 0h1M341 184h1M366 186h1M341 187h1M366 189h1M341 190h1M341 191h1m25 0h1M367 192h1M366 194h1M366 196h1M366 197h1M367 200h1M366 201h3M341 202h1M341 203h1M365 205h2M366 206h1M343 209h1M365 210h1M362 211h1" stroke="#000" stroke-width="1" fill="none" stroke-opacity="0.65"/>
<path d="M311 78h1m4 0h1M295 79h1m2 0h1m3 0h3m2 0h4m2 0h4m1 0h2m1 0h3m1 0h2M293 80h1m2 0h1m1 0h10m1 0h10m2 0h1m2 0h1m4 0h1M292 81h1m1 0h2m2 0h1m2 0h1m1 0h2m6 0h6m3 0h2m3 0h1m2 0h3M288 82h1m1 0h1m1 0h4m1 0h1m2 0h3m2 0h3m1 0h14m3 0h4m1 0h1M286 83h1m1 0h2m1 0h1m1 0h1m1 0h8m1 0h17m1 0h7m3 0h1M286 84h3m1 0h18m1 0h2m1 0h10m2 0h8M285 85h2m1 0h1m1 0h3m3 0h32m1 0h4M281 86h2m2 0h1m1 0h1m3 0h3m1 0h4m1 0h21m1 0h4m1 0h1m2 0h3M282 87h1m1 0h1m2 0h4m1 0h2m1 0h38M282 88h4m1 0h2m2 0h3m1 0h20m1 0h16M281 89h1m3 0h14m1 0h4m1 0h26m1 0h2M283 90h2m1 0h1m1 0h2m1 0h39m1 0h2M284 91h46m1 0h3M280 92h1m2 0h1m1 0h49M281 93h3m3 0h1m1 0h41m1 0h3M279 94h1m1 0h50m1 0h2M279 95h1m1 0h1m1 0h1m1 0h3m2 0h1m1 0h27m1 0h14M278 96h1m1 0h2m3 0h2m3 0h44M278 97h1m1 0h1m1 0h1m1 0h1m2 0h47M278 98h2m2 0h2m2 0h2m1 0h7m1 0h31m1 0h5M278 99h1m7 0h2m3 0h42M279 100h1m8 0h2m1 0h43M287 101h2m1 0h1m1 0h34m1 0h6M283 102h2m1 0h42m1 0h5M284 103h5m1 0h43M281 104h1m3 0h1m3 0h2m1 0h7m1 0h20m1 0h4m1 0h3m1 0h2M280 105h1m5 0h1m1 0h3m1 0h15m1 0h5m1 0h9m1 0h3m1 0h1m1 0h3M283 106h1m1 0h2m2 0h5m1 0h1m1 0h13m1 0h17M290 107h2m2 0h2m1 0h1m1 0h11m1 0h12m1 0h4m1 0h1M286 108h2m2 0h5m1 0h1m1 0h1m1 0h1m1 0h18m1 0h2m1 0h2m5 0h2M289 109h1m1 0h29m1 0h8m1 0h2M290 110h1m5 0h4m1 0h3m1 0h1m2 0h6m2 0h2m4 0h1m2 0h1m3 0h1M285 111h1m3 0h1m3 0h1m1 0h2m1 0h2m2 0h2m2 0h3m1 0h5m1 0h1m2 0h6m1 0h1m1 0h2M294 112h2m1 0h4m1 0h18m2 0h2m1 0h2M292 113h1m3 0h3m1 0h2m4 0h3m2 0h2m1 0h1m1 0h2m2 0h2m2 0h1M296 114h1m12 0h2m1 0h5m3 0h3m2 0h2M297 115h1m5 0h2m1 0h1m5 0h1m1 0h6m1 0h1m1 0h1M303 116h1m1 0h1m3 0h1m4 0h4m6 0h2M302 117h2m6 0h1m1 0h3m1 0h1m5 0h2m1 0h2M303 118h3m2 0h1m2 0h1m5 0h3m2 0h1M304 119h1m5 0h2m1 0h4m3 0h3m1 0h1M309 120h1m2 0h2m1 0h3m2 0h3M313 121h1m2 0h1m2 0h1m1 0h1M311 122h1m1 0h1m3 0h3m3 0h1m1 0h1M313 123h1m3 0h1m2 0h1m1 0h1M310 124h1m2 0h5m8 0h1M310 125h1m1 0h1m2 0h6m1 0h2m2 0h1M311 126h4m1 0h4m1 0h1m1 0h1m1 0h1M312 127h1m4 0h1m3 0h1m1 0h1m1 0h2M318 128h1m2 0h1m2 0h1m2 0h1M314 129h3m1 0h2m1 0h2m1 0h1m3 0h1M312 130h3m2 0h2m3 0h3m2 0h1M316 131h3m1 0h1m1 0h1m1 0h2M317 132h2M345 163h3m1 0h3m1 0h1m1 0h1m1 0h1m1 0h3M344 164h1m2 0h1m1 0h4m1 0h7m1 0h2M343 165h1m1 0h2m1 0h1m1 0h13M346 166h12m1 0h2m1 0h1M344 167h20M344 168h2m1 0h15M344 169h1m2 0h2m1 0h11m2 0h2M344 170h2m1 0h14m1 0h2M343 171h1m1 0h3m1 0h15M342 172h1m1 0h1m2 0h15m1 0h2M345 173h1m1 0h15m1 0h1M342 174h18m1 0h2M347 175h17M343 176h1m2 0h19M342 177h2m1 0h17M343 178h19m2 0h1M345 179h17M343 180h1m1 0h19M342 181h1m1 0h19m2 0h1M342 182h1m2 0h18m1 0h1M343 183h20m1 0h1M345 184h17m3 0h1M344 185h18m1 0h3M342 186h2m1 0h2m1 0h12m1 0h1M343 187h1m2 0h17m1 0h1M342 188h2m1 0h17m1 0h1M342 189h1m1 0h20M343 190h22M344 191h19m1 0h1M342 192h1m2 0h20M343 193h19m2 0h1M343 194h21M343 195h17m2 0h1m1 0h1M345 196h1m1 0h13m1 0h1m1 0h2M343 197h1m1 0h6m1 0h10m1 0h1M343 198h2m1 0h13m1 0h3m2 0h1M345 199h2m1 0h14m2 0h1M342 200h1m2 0h19M343 201h19M346 202h15M344 203h1m1 0h14m5 0h1M343 204h1m1 0h18M344 205h1m1 0h1m1 0h14M346 206h1m1 0h15M344 207h5m1 0h11m2 0h2M345 208h1m1 0h12m1 0h4M346 209h6m1 0h7m3 0h1M344 210h2m2 0h12m1 0h1m1 0h1M347 211h1m1 0h4m1 0h3m1 0h1" stroke="#000" stroke-width="1" fill="none" stroke-opacity="0.9"/>
<path d="M300 78h1m1 0h2m12 0h1M296 79h1m4 0h1m4 0h2m1 0h1m3 0h1m1 0h1m1 0h1m1 0h2m2 0h1m1 0h1M292 80h1m6 0h3m2 0h2m1 0h1m1 0h1m1 0h1m6 0h2m1 0h2m3 0h2m1 0h1M290 81h1m2 0h3m1 0h1m1 0h3m2 0h12m1 0h3m1 0h5M290 82h1m6 0h2m1 0h4m1 0h6m1 0h4m1 0h4m1 0h4m3 0h1M286 83h1m1 0h7m1 0h3m1 0h7m1 0h1m1 0h3m2 0h9m1 0h3m1 0h2m1 0h1M284 84h1m3 0h3m2 0h6m2 0h8m1 0h12m1 0h6m2 0h3M285 85h2m7 0h1m1 0h4m1 0h18m1 0h6m1 0h1m2 0h3M281 86h1m2 0h1m2 0h5m1 0h1m1 0h3m1 0h29m1 0h1m2 0h2M286 87h5m1 0h4m1 0h31m2 0h4M282 88h4m4 0h4m1 0h31m1 0h4m1 0h2M280 89h1m2 0h11m1 0h7m1 0h25m1 0h5M280 90h2m2 0h17m1 0h29M281 91h1m1 0h2m1 0h7m1 0h1m1 0h32m2 0h1m1 0h1M282 92h1m1 0h2m1 0h1m1 0h44M281 93h1m3 0h1m1 0h4m1 0h4m1 0h35m1 0h1M281 94h1m1 0h2m1 0h47M283 95h1m1 0h13m1 0h34M280 96h2m1 0h2m2 0h2m1 0h44M279 97h1m3 0h1m1 0h49M281 98h5m1 0h2m1 0h7m1 0h35M278 99h1m3 0h1m4 0h40m1 0h5M278 100h2m1 0h2m1 0h2m1 0h37m1 0h7m1 0h1M284 101h1m1 0h5m1 0h3m1 0h38M279 102h4m3 0h25m1 0h20M284 103h2m2 0h3m1 0h38m1 0h3M281 104h2m1 0h1m2 0h5m1 0h1m1 0h27m1 0h4m1 0h2M282 105h3m1 0h1m1 0h1m1 0h2m1 0h27m1 0h4m1 0h1m1 0h2m1 0h2M280 106h2m1 0h1m5 0h5m1 0h1m1 0h5m1 0h16m1 0h11m1 0h1M282 107h1m4 0h2m1 0h3m1 0h4m1 0h8m1 0h9m2 0h1m1 0h3m1 0h1m1 0h3m1 0h1M288 108h2m2 0h1m1 0h3m1 0h2m1 0h2m2 0h1m1 0h12m1 0h1m4 0h1m1 0h1m1 0h2m1 0h1M285 109h2m2 0h2m1 0h2m2 0h4m1 0h2m1 0h5m1 0h1m1 0h8m2 0h3m2 0h2m3 0h1M285 110h1m1 0h3m1 0h1m1 0h1m1 0h5m1 0h2m1 0h7m1 0h12m1 0h2M286 111h1m1 0h1m5 0h1m1 0h1m2 0h6m1 0h2m5 0h5m1 0h1m1 0h4m1 0h2M293 112h1m1 0h2m1 0h3m2 0h5m1 0h2m2 0h2m1 0h1m1 0h2m1 0h4m1 0h2M295 113h1m2 0h1m1 0h1m1 0h6m1 0h1m1 0h3m2 0h7m3 0h1M304 114h1m2 0h1m1 0h2m1 0h4m1 0h7m3 0h1M298 115h1m4 0h3m3 0h1m4 0h1m1 0h1m2 0h2m2 0h2M303 116h2m1 0h1m4 0h2m1 0h3m1 0h1m2 0h6M304 117h1m2 0h1m1 0h2m1 0h1m3 0h1m1 0h1m3 0h1m2 0h2M303 118h1m3 0h1m1 0h1m1 0h1m1 0h1m1 0h1m1 0h1m4 0h2M308 119h2m3 0h1m1 0h4m5 0h2M310 120h1m4 0h1m2 0h4M313 121h2m5 0h2m1 0h2M313 122h3m1 0h1m2 0h1m2 0h1m1 0h1M309 123h2m3 0h1m1 0h1m1 0h2m1 0h3M312 124h3m1 0h1m2 0h1m1 0h2m1 0h1m1 0h1M310 125h1m2 0h1m5 0h2M313 126h1m2 0h1m1 0h1m1 0h2m1 0h2m1 0h1M311 127h1m1 0h1m1 0h4m1 0h2m1 0h1m2 0h1M314 128h1m3 0h2m1 0h3m1 0h1m1 0h1M312 129h2m2 0h2m1 0h1m1 0h1m2 0h2m2 0h1M314 130h1m1 0h1m6 0h2m1 0h1M314 131h1m1 0h1m3 0h2m1 0h3M345 163h1m2 0h2m1 0h8m1 0h2M346 164h1m1 0h1m1 0h1m1 0h3m1 0h5m1 0h2M343 165h17m2 0h1M343 166h3m1 0h13m3 0h1M345 167h1m1 0h1m1 0h14M344 168h2m1 0h13m1 0h4M344 169h2m1 0h14m3 0h1M344 170h1m1 0h15m1 0h3M342 171h1m2 0h13m1 0h4M342 172h1m2 0h1m1 0h14m1 0h2M345 173h18M342 174h1m1 0h18M345 175h21M344 176h1m1 0h15M342 177h2m1 0h18m1 0h1M342 178h1m1 0h17m1 0h2M344 179h18m1 0h2M342 180h3m2 0h16M344 181h19M346 182h19M341 183h1m3 0h2m1 0h14m2 0h1M344 184h20m1 0h1M343 185h1m1 0h17m2 0h2M344 186h16m2 0h1m1 0h1M342 187h2m2 0h19M344 188h1m2 0h14m1 0h2M342 189h1m1 0h15m2 0h1m1 0h2M343 190h2m1 0h19M345 191h1m1 0h15m1 0h2M343 192h1m1 0h16m1 0h1M343 193h1m2 0h20M342 194h1m1 0h1m1 0h16m2 0h1M343 195h1m2 0h19M344 196h3m1 0h12m1 0h1m1 0h1m1 0h1M342 197h21M343 198h1m1 0h17m3 0h1M342 199h1m1 0h20M343 200h3m1 0h16M344 201h5m1 0h14M343 202h3m1 0h18M343 203h4m1 0h12m3 0h3M346 204h16M343 205h1m1 0h5m1 0h11M343 206h3m1 0h14M347 207h14m3 0h1M345 208h1m1 0h10m1 0h3m3 0h1M345 209h4m1 0h8m1 0h1m2 0h3M349 210h9m3 0h1m1 0h1M347 211h4m2 0h6m1 0h1" stroke="#000" stroke-width="1" fill="none" stroke-opacity="0.9"/>
<path d="M295 79h1m2 0h2m1 0h1m2 0h3m1 0h1m1 0h1m1 0h2m3 0h4m1 0h1m1 0h1m1 0h1M293 80h3m1 0h7m1 0h3m1 0h1m1 0h1m1 0h2m1 0h2m1 0h2m1 0h3m1 0h1M292 81h4m1 0h3m1 0h1m1 0h2m4 0h6m1 0h5m1 0h2m1 0h1m2 0h1M292 82h2m2 0h16m1 0h2m2 0h4m1 0h4m4 0h1M288 83h1m2 0h2m1 0h3m1 0h23m1 0h9m1 0h1M287 84h1m2 0h2m2 0h1m1 0h1m1 0h8m1 0h1m1 0h5m1 0h3m1 0h9m1 0h1m1 0h1M283 85h3m3 0h5m1 0h32m2 0h4M283 86h1m1 0h1m1 0h1m3 0h6m1 0h23m1 0h3m1 0h1m1 0h2m2 0h1M286 87h1m2 0h2m1 0h2m1 0h1m1 0h34M283 88h1m1 0h5m2 0h35m1 0h3m1 0h1M283 89h3m2 0h2m4 0h35m2 0h2M281 90h1m1 0h1m2 0h4m1 0h37m1 0h1m1 0h3M280 91h4m1 0h1m1 0h27m1 0h19M281 92h4m1 0h7m1 0h2m1 0h37M284 93h7m1 0h40m1 0h1M285 94h1m2 0h2m1 0h3m1 0h39M280 95h1m1 0h2m3 0h43m1 0h3M283 96h1m1 0h3m1 0h36m1 0h8M278 97h1m2 0h2m1 0h3m1 0h44M280 98h2m1 0h1m1 0h2m1 0h1m1 0h42m1 0h1M284 99h2m4 0h4m1 0h36m1 0h1M279 100h1m2 0h4m1 0h4m1 0h2m1 0h39M278 101h2m2 0h2m1 0h2m1 0h2m1 0h36m1 0h5M283 102h4m1 0h1m1 0h2m1 0h2m1 0h10m1 0h27M282 103h1m1 0h1m3 0h4m1 0h38m1 0h1M281 104h1m1 0h2m1 0h1m2 0h9m1 0h25m1 0h2m2 0h1m1 0h3M283 105h2m3 0h5m1 0h10m1 0h23m2 0h3M280 106h2m2 0h1m2 0h2m1 0h2m1 0h8m1 0h6m1 0h15m1 0h3m1 0h2M284 107h1m3 0h2m2 0h1m1 0h1m2 0h5m1 0h5m1 0h7m1 0h4m2 0h3m1 0h4m1 0h1M286 108h3m1 0h3m1 0h3m2 0h3m1 0h3m1 0h2m1 0h13m1 0h5m1 0h2M286 109h1m1 0h3m2 0h1m1 0h2m1 0h1m2 0h4m1 0h1m1 0h1m1 0h5m1 0h5m1 0h1m2 0h1m1 0h1m2 0h1m1 0h1M288 110h5m1 0h2m1 0h5m3 0h1m1 0h4m1 0h9m3 0h3m1 0h2M286 111h2m5 0h3m1 0h2m4 0h1m3 0h1m1 0h4m1 0h5m1 0h2m2 0h2m1 0h4M286 112h1m5 0h1m5 0h3m1 0h1m1 0h1m1 0h2m1 0h1m2 0h4m1 0h5m2 0h1m1 0h1M292 113h4m1 0h1m1 0h2m2 0h2m1 0h4m2 0h6m2 0h2m2 0h2M294 114h1m1 0h2m2 0h1m2 0h1m1 0h1m2 0h2m1 0h3m1 0h2m2 0h3m2 0h4M296 115h3m3 0h1m1 0h1m1 0h1m2 0h6m1 0h4m1 0h1m3 0h1M308 116h1m4 0h3m1 0h4m4 0h1M302 117h2m9 0h5m2 0h2m1 0h2M303 118h1m6 0h1m1 0h3m1 0h2m2 0h1m4 0h1M304 119h1m6 0h2m1 0h1m2 0h1m1 0h1m1 0h1M311 120h6m3 0h1m1 0h1m1 0h1M309 121h1m1 0h1m3 0h1m1 0h3m2 0h1m2 0h1M309 122h1m2 0h1m2 0h2m2 0h4M310 123h1m2 0h2m1 0h5m2 0h3M310 124h3m1 0h4m1 0h2m1 0h2m2 0h1M315 125h2m2 0h1m1 0h1m1 0h1M311 126h1m2 0h2m1 0h1m4 0h1m1 0h2M314 127h1m2 0h1m4 0h1m2 0h2M318 128h4m2 0h2M311 129h4m1 0h4m2 0h3M312 130h2m1 0h4m5 0h1m3 0h1M315 131h1m1 0h1m1 0h1m2 0h2M316 132h1m1 0h1m5 0h1M349 163h1m1 0h2m1 0h2m2 0h3M344 164h2m1 0h2m1 0h12m1 0h1M344 165h1m2 0h1m1 0h13m1 0h1M343 166h19M347 167h18M344 168h21M344 169h16m3 0h2M343 170h1m1 0h1m2 0h15m1 0h1M344 171h21M343 172h14m1 0h6M344 173h2m1 0h16m1 0h1M342 174h1m1 0h19m1 0h2M344 175h20M342 176h2m1 0h2m1 0h14m1 0h1m1 0h1M343 177h1m2 0h17M343 178h1m1 0h16m1 0h1M345 179h18M342 180h1m2 0h19m1 0h1M342 181h1m1 0h1m2 0h16m2 0h1M344 182h1m1 0h18m1 0h1M342 183h21m1 0h1M343 184h2m1 0h15m1 0h1M344 185h1m1 0h16M343 186h1m1 0h1m1 0h15m2 0h1M343 187h20M343 188h18m1 0h2M344 189h1m1 0h18m1 0h1M343 190h1m2 0h15m1 0h2M342 191h20m2 0h1M343 192h1m1 0h16m1 0h2M345 193h17M342 194h1m1 0h21M344 195h1m1 0h17m1 0h1M345 196h1m1 0h16m1 0h2M342 197h20m1 0h1M345 198h1m1 0h14m2 0h1m1 0h1M345 199h16m1 0h2M343 200h1m1 0h19M346 201h14m1 0h2m1 0h1M345 202h13m1 0h1m1 0h2m2 0h1M342 203h1m1 0h3m1 0h14m2 0h1M344 204h17M345 205h17m2 0h1M347 206h11m1 0h4M344 207h2m1 0h3m1 0h5m1 0h6m1 0h1M346 208h2m1 0h12m1 0h1m1 0h1M346 209h1m3 0h15M344 210h3m2 0h1m1 0h1m1 0h3m1 0h3m1 0h1M346 211h2m1 0h4m1 0h1m1 0h3m1 0h1" stroke="#000" stroke-width="1" fill="none" stroke-opacity="0.9"/>
<path d="M326 320h1M335 337h1M277 339h1M277 340h1M343 342h1M277 343h1M354 347h1M397 349h1M335 351h1m4 0h1M340 354h1M335 355h1m4 0h1M347 359h1M352 360h1M339 363h1M335 365h1M338 366h1m12 0h1M335 368h1M338 369h1m2 0h1M343 370h1M357 371h1M358 374h1m1 0h1M277 375h1m62 0h1M277 376h1M277 377h1M335 378h1m1 0h1M362 380h1M282 381h1m41 0h1m9 0h1M303 382h1m19 0h1m4 0h1m31 0h1M285 383h1M300 384h1m37 0h1M283 385h1m20 0h1M293 386h1m7 0h1m3 0h1m9 0h1m8 0h1m5 0h1M286 387h1m6 0h1m10 0h1M305 388h1m10 0h1m15 0h1m3 0h1M307 389h1m23 0h1m28 0h1M305 390h1m16 0h1m13 0h1M281 391h1m58 0h1M294 393h1m60 0h1M277 394h1m26 0h1M305 395h1m26 0h1m5 0h1M295 396h1m2 0h1m2 0h1M302 397h1m29 0h1m1 0h1M302 398h1M289 399h1M277 401h1m21 0h1m4 0h1m27 0h1m1 0h1M358 402h1m1 0h1M277 403h1m5 0h1m2 0h1m2 0h1m35 0h1m13 0h1M278 404h1m4 0h1m38 0h1M283 405h1m38 0h1m13 0h1M292 406h1m16 0h1m23 0h1M290 407h1m15 0h1m3 0h1m12 0h1m37 0h2M303 408h1m8 0h1M304 409h1M283 410h1M281 411h1m18 0h1M285 412h1m3 0h1m65 0h2M301 413h1M284 415h1m13 0h1M296 418h1M280 419h2m5 0h1M289 420h1M292 422h1M291 423h1M286 424h1M286 425h1M284 428h1M280 429h1m4 0h1M284 431h1M285 433h1M283 434h1m1 0h1M284 439h1M292 443h1M288 444h1M293 446h1M277 447h1m3 0h1m7 0h1M277 448h1M285 450h1m53 0h1M300 454h1M302 456h1m32 0h1M284 457h1m17 0h1m32 0h1M282 458h1m13 0h1m9 0h1m1 0h1m2 0h1m7 0h1M312 459h1m18 0h1M340 460h1M284 462h1" stroke="#2020ff" stroke-width="1" fill="none" stroke-opacity="0.45"/>
<path d="M277 329h1M339 331h1M277 332h1M339 340h1M341 343h1M349 344h1M336 345h1m9 0h1M335 346h1M337 348h1M347 349h1M336 351h1M341 352h1M337 353h1M346 354h1M350 356h1M340 359h1M344 360h1m4 0h1M343 361h1m1 0h1M346 362h1M350 363h1M338 364h1m3 0h1m11 0h1M344 366h1m47 0h1M339 367h1M335 369h1M355 370h1M335 371h1m3 0h1M341 372h1M277 376h1m61 0h2M354 378h1M335 379h1M356 380h1m1 0h1M277 381h1m23 0h1m37 0h1M277 382h1m46 0h1M302 383h1M277 385h1m18 0h1m8 0h1m19 0h1m2 0h2M287 386h1m2 0h1m12 0h1M298 387h1m37 0h1M286 388h1m33 0h1M291 389h1m24 0h1M294 390h1M304 391h1m1 0h1m17 0h1m6 0h1M288 392h1m45 0h1M297 393h1M283 394h1m50 0h1M335 395h1M306 396h1M296 397h1m11 0h1M283 398h1m5 0h1m44 0h1M277 399h1M322 400h1m38 0h2M290 402h1m14 0h1M296 403h1m4 0h1M289 404h1m35 0h1M281 406h1m43 0h1m12 0h1M283 407h1m25 0h1m30 0h1m1 0h1m2 0h1M285 408h1m14 0h2m40 0h1M285 409h1m20 0h1m29 0h1m22 0h1m11 0h1M296 410h1m11 0h2m30 0h1m3 0h1m16 0h1M284 411h1m72 0h1M281 412h1m11 0h1M277 414h1m5 0h1M285 415h1M289 416h1M280 417h1M292 418h1m2 0h1M291 419h1M294 420h1M288 422h1M288 423h1M283 429h1M279 435h2M277 436h1m3 0h1m2 0h1M277 438h1M279 440h1m5 0h1M284 441h1M292 443h1M284 444h1m3 0h1M281 445h1M288 447h1m1 0h1M282 448h1M277 450h1m55 0h1M277 452h1M278 453h1M278 454h1M293 455h1m3 0h1m24 0h1m2 0h1M286 456h1m17 0h2M309 457h1m12 0h1m1 0h1m14 0h1M311 458h1m4 0h1m1 0h1m7 0h1M304 459h1m13 0h1M283 462h1" stroke="#2020ff" stroke-width="1" fill="none" stroke-opacity="0.45"/>
<path d="M335 327h1M335 332h1M340 333h1m1 0h1M277 334h1M277 338h1m62 0h1M277 340h1M277 341h1M336 345h1M335 346h1M335 349h1m1 0h1M340 353h1M349 354h1M335 355h1M338 357h1m7 0h1M335 358h1M350 360h1M338 361h1m3 0h1m75 0h1M346 362h1M351 363h1M338 364h1m13 0h1M339 365h1M335 366h1m19 0h1M277 370h1m62 0h1m1 0h1M343 371h1M336 372h1M343 373h1M277 374h1M356 375h1M340 378h1M302 381h1m12 0h1m12 0h1M288 382h1m3 0h1M294 383h1M277 384h1m46 0h1m2 0h1m8 0h1M322 385h1M286 386h1m3 0h1m42 0h1m82 0h1M300 387h1m56 0h1M286 388h1m28 0h1m17 0h1m2 0h1m2 0h1M325 389h1M280 390h1m76 0h1M304 391h1M340 392h1M334 393h1M299 395h1m6 0h1M277 396h1m10 0h1M333 397h1m4 0h1M292 398h1m3 0h1m2 0h1m38 0h1M336 400h1m19 0h1M287 401h1m11 0h1m31 0h1M321 402h1m1 0h1m14 0h1M277 403h1m20 0h1m32 0h1m3 0h1m28 0h1M277 404h1m57 0h1M298 405h1m5 0h1m29 0h1m4 0h1m20 0h1M285 406h1m10 0h1m7 0h2M313 407h1M333 408h1m25 0h1M302 409h1M294 410h1M305 411h1m50 0h1M281 412h1m7 0h1m52 0h1m1 0h1m13 0h1M277 413h1m11 0h1m10 0h1M294 414h1M294 415h1m4 0h1M285 416h1m9 0h1M298 417h1M281 418h1M290 420h1M284 422h1M280 424h1M280 427h1M282 429h1M285 437h1M279 439h1M286 440h1M277 442h1M279 446h1M289 447h1M286 448h1m1 0h1M334 450h1M336 452h1M298 453h1M333 454h1M327 455h1M299 456h1M279 457h1M314 458h1m17 0h1M282 459h1m15 0h1m21 0h1m5 0h1m2 0h1m2 0h1M277 461h1M278 462h2m32 0h1m25 0h1" stroke="#2020ff" stroke-width="1" fill="none" stroke-opacity="0.45"/>
<path d="M277 345h1M277 346h1M336 347h1M336 349h1M336 350h1M277 351h1M336 355h2M277 356h1M277 357h1M277 359h1m58 0h1M277 360h1M277 361h1M277 363h1M277 365h1m69 0h1M277 366h1m69 0h1m1 0h1M344 367h1m3 0h1M345 368h2M345 369h3m4 0h1M277 371h1m68 0h1m2 0h2M277 372h1m68 0h1m2 0h1m1 0h2M345 373h1m2 0h1M345 374h1m4 0h1M344 375h1m1 0h1m5 0h1m1 0h1M345 376h1m1 0h2m1 0h1m3 0h1M344 378h1m1 0h1m3 0h1M341 379h1M340 380h2m1 0h1m5 0h1M308 381h1m5 0h1m3 0h1m23 0h1m1 0h1m8 0h1m1 0h1M307 382h1m4 0h1m4 0h1m33 0h1m3 0h1M309 383h2m2 0h2m1 0h2m35 0h1M308 384h1m10 0h1m23 0h1m11 0h1M309 385h1m7 0h2m19 0h1M294 386h1m13 0h1m3 0h1m4 0h1m21 0h1m15 0h1M277 387h1m31 0h1m33 0h1m10 0h1M294 388h1m13 0h1m2 0h1m14 0h2m27 0h2M298 389h1M277 390h1m20 0h2m12 0h1m8 0h1m19 0h1m12 0h1M277 391h1m20 0h1m9 0h2m5 0h3m4 0h1m6 0h1m23 0h2M277 392h1m32 0h1m2 0h1m2 0h1m1 0h1M330 393h1m11 0h2M301 394h1m16 0h1m9 0h1m4 0h1m20 0h1M314 395h2m7 0h1m1 0h1m1 0h1m15 0h1m8 0h1m1 0h1M314 396h2m6 0h1m4 0h2m13 0h1m10 0h1M313 397h1m2 0h1m3 0h1m19 0h1m13 0h1M313 398h1m1 0h1m1 0h2m3 0h2m15 0h1m4 0h1m6 0h1m1 0h1M301 399h1m6 0h1m1 0h1m3 0h1m13 0h1m1 0h1m12 0h1m1 0h1M302 400h1m3 0h1m6 0h1m4 0h1m26 0h2m2 0h1m3 0h1M309 401h1m3 0h1m29 0h1m5 0h1m1 0h1m1 0h2M307 402h2m3 0h2m4 0h1m9 0h1m19 0h3M310 403h1m3 0h1m29 0h1M310 404h1m34 0h1m2 0h1m3 0h2m1 0h1M320 405h1m8 0h1m12 0h1M277 406h1m42 0h1m19 0h1m12 0h1m4 0h1M315 407h1m34 0h1m1 0h1M277 408h1m42 0h1m10 0h1M316 409h2m3 0h1m7 0h1m1 0h1M312 410h1m2 0h2m8 0h1m5 0h2m2 0h1m10 0h1m3 0h1M319 411h1m3 0h1m10 0h1m5 0h2m4 0h1m5 0h1M327 412h3m3 0h2m11 0h1m1 0h1m1 0h1m2 0h1M305 413h2m1 0h1m3 0h1M304 414h1m4 0h1m29 0h1M301 415h1m5 0h1M277 416h1m24 0h1m6 0h1m28 0h1M277 417h1m24 0h1M277 418h1m24 0h1m2 0h1m34 0h1M290 419h1M277 420h1m27 0h1M297 421h1m42 0h1M277 422h1M277 423h1M290 424h1m6 0h1m2 0h1M294 425h2m2 0h1M277 426h1m11 0h1m2 0h1m7 0h1M286 427h1m10 0h1M287 428h1m11 0h1M294 429h1m4 0h1M277 430h1m12 0h1m8 0h1M289 431h1m5 0h1m2 0h1M288 432h1m2 0h1m3 0h2M294 433h1m1 0h1m2 0h1M277 434h1m16 0h1m2 0h1M277 435h1m10 0h1m5 0h1m45 0h1M300 436h1M286 437h2m5 0h1m1 0h1m2 0h1M293 438h1m6 0h3M289 439h1m3 0h1m9 0h1M292 440h1m1 0h1m3 0h1m1 0h1M289 441h2m5 0h2m3 0h2m37 0h1M295 442h1m4 0h1M297 443h1m3 0h1M294 444h1m4 0h1m4 0h1M277 445h1m16 0h1m2 0h1M300 446h1m35 0h1m2 0h1M296 447h1m3 0h1m4 0h1m26 0h2m1 0h1m1 0h1M301 448h1m2 0h1m11 0h1m12 0h2M311 449h1m4 0h1m12 0h1m3 0h1m1 0h1M296 450h1m1 0h1m1 0h1m7 0h1m3 0h1m2 0h1m1 0h1m4 0h2m4 0h2M294 451h1m7 0h2m3 0h1m5 0h1m7 0h1m3 0h1m1 0h1m1 0h1M315 452h1m22 0h1M303 453h1m7 0h2m1 0h1m2 0h1m1 0h2m2 0h1m16 0h1M305 454h2m9 0h1m2 0h1m9 0h1m7 0h1M277 455h1m31 0h1m7 0h1m22 0h1M316 456h1M277 457h1M277 458h1m58 0h1M309 459h1m11 0h1M324 460h1M316 461h1M280 462h1m5 0h5m2 0h1m1 0h4m1 0h2m1 0h2m2 0h3m1 0h1m2 0h2m3 0h2m3 0h1m1 0h1m1 0h1m5 0h1m1 0h1" stroke="#2020ff" stroke-width="1" fill="none" stroke-opacity="0.6"/>
<path d="M277 333h1M277 346h1M277 347h1M277 349h1M277 352h1M277 353h1M277 354h1m61 0h1M277 356h1M277 358h1m58 0h1M335 359h1M277 360h1M277 361h1m57 0h2m12 0h1M277 364h1m70 0h1M346 365h1M277 366h1M350 367h1M350 368h1M345 369h1M349 370h1M277 371h1m68 0h1m6 0h1M349 372h1m1 0h1m1 0h1M349 374h1m5 0h1M346 375h1m4 0h1m1 0h1M345 376h1m3 0h1m2 0h1M346 377h1m3 0h1M346 378h1m4 0h1M277 379h1m65 0h2m1 0h1M351 380h1M307 381h1m4 0h1m5 0h1m32 0h2M309 382h1m40 0h1M307 383h1m4 0h2m6 0h2m1 0h1m16 0h1m11 0h1M352 384h2M309 385h1m1 0h1m5 0h1m25 0h1M309 386h1m1 0h1m26 0h1M296 387h1m14 0h1m15 0h1m12 0h1M277 388h1m17 0h2m2 0h1m10 0h2M277 389h1m33 0h2m15 0h2m11 0h1m12 0h1M300 390h1m19 0h1M301 391h1m10 0h1m7 0h1m22 0h1M277 392h1m39 0h2m11 0h1M300 393h1m9 0h2m3 0h1m2 0h1m1 0h1m21 0h1M311 394h2m1 0h1m3 0h1m1 0h2m4 0h1m1 0h1m22 0h1M300 395h1m10 0h1m8 0h1m4 0h1m27 0h1M310 396h1m4 0h1m2 0h1m1 0h1m4 0h1m15 0h1m11 0h1M315 397h1m5 0h1m1 0h1m1 0h1m1 0h1m1 0h1m21 0h2M311 398h1m30 0h1m4 0h1m3 0h1M306 399h1m12 0h1m7 0h1m21 0h3M305 400h1m1 0h1m1 0h1m10 0h1m28 0h1M300 401h2m24 0h2m22 0h1M307 402h1m35 0h1m5 0h1m5 0h2M312 403h1m14 0h1m14 0h1m2 0h1m4 0h1m1 0h1m3 0h1M308 404h1m32 0h1m3 0h2M312 405h1m2 0h1m12 0h1m15 0h1m3 0h1m1 0h1M319 406h1m12 0h1m8 0h1m14 0h2M277 407h1m38 0h1m3 0h1m8 0h1m27 0h1M277 408h1m44 0h1m28 0h1m2 0h2M277 409h1m37 0h1m5 0h1m8 0h1m17 0h1m1 0h1M277 410h1m39 0h1m6 0h1m5 0h1m3 0h2m11 0h2M315 411h2m2 0h1m3 0h1m1 0h2m10 0h1m6 0h1m2 0h1M312 412h1m2 0h1m12 0h1m12 0h1m9 0h1M305 413h1m6 0h1m23 0h1m1 0h1M300 414h1m4 0h1m2 0h1m2 0h1m28 0h1M277 415h1m32 0h1M305 416h1m2 0h1M304 417h1m34 0h2M277 418h1m20 0h1m2 0h1m3 0h1M299 419h1m39 0h1M298 420h1m6 0h1m33 0h1M300 421h1m1 0h2m36 0h1M295 422h1m2 0h1M340 423h1M292 424h1m1 0h1m2 0h1m2 0h1M289 425h1m5 0h1m1 0h1M277 426h1m11 0h1m3 0h1m6 0h1M277 427h1m1 0h1m6 0h2m4 0h1m3 0h1M277 428h1m20 0h1m2 0h1M277 429h1m10 0h1m4 0h2m1 0h1m2 0h2M277 430h1m13 0h2m5 0h1m1 0h1M290 431h1m8 0h1M277 432h1m18 0h1m1 0h1m1 0h1M290 433h1M287 434h1M296 435h1m1 0h1M288 436h1m2 0h1m1 0h2M299 437h1M288 438h1m2 0h1m3 0h1m7 0h1M286 439h1m2 0h1m5 0h1M290 440h1m3 0h1m5 0h3M298 441h1M295 442h1m4 0h1M277 443h1m20 0h1m2 0h1M277 444h1m16 0h1m5 0h1m3 0h1M300 445h1m2 0h1m28 0h1m2 0h1m3 0h2M278 446h1m15 0h1m1 0h1m1 0h1m6 0h1m34 0h1M302 447h3m15 0h2m8 0h2M307 448h1m29 0h2M302 449h1m34 0h1M296 450h1m14 0h1m6 0h1m4 0h1M294 451h1m19 0h1m4 0h2m1 0h1m1 0h1m1 0h3M295 452h1m3 0h1m1 0h1m1 0h2m4 0h1m11 0h2m4 0h1M304 453h1m14 0h1m9 0h1M308 454h1m7 0h1m7 0h1m12 0h4M305 455h1m5 0h2M277 456h1M323 458h1m11 0h1m2 0h1M308 459h1M290 460h1m47 0h2M309 461h1m21 0h1M281 462h2m7 0h9m1 0h3m1 0h1m1 0h2m2 0h1m6 0h2m1 0h1m2 0h2m3 0h2m1 0h1m1 0h1m2 0h1" stroke="#2020ff" stroke-width="1" fill="none" stroke-opacity="0.6"/>
<path d="M277 333h1M277 346h1M277 347h1M277 348h1M277 350h1M277 351h1M277 353h1M337 355h1m1 0h1M277 356h1M335 360h1M277 361h1m58 0h1m12 0h1M277 362h1m70 0h1M277 364h1M277 366h1m67 0h1m2 0h1M346 367h1m1 0h1M348 368h1m2 0h1M350 370h1M348 372h2m1 0h1m1 0h1M277 373h1m70 0h1M353 374h1M344 376h1m6 0h2M343 378h1m6 0h1m1 0h1M277 379h1m67 0h1M277 380h1m73 0h2m2 0h1M308 381h1m3 0h1m31 0h1m5 0h2m2 0h1M313 382h1m26 0h1m2 0h1M321 383h1m19 0h1m9 0h1m3 0h1M307 384h1m35 0h1M308 385h1m1 0h1m8 0h1m20 0h1M277 386h1m16 0h1m59 0h1M277 387h1m35 0h1m14 0h2m12 0h1M277 388h1m33 0h1m29 0h3M277 389h1m34 0h1m14 0h1m2 0h1M309 390h3m17 0h1M299 391h1m7 0h1m8 0h1m3 0h1m22 0h1m11 0h1M300 392h1m9 0h1m2 0h1m15 0h1M318 393h1m32 0h1M301 394h1m11 0h1m2 0h1m4 0h2m2 0h1m15 0h1M318 395h1m2 0h1m21 0h1m8 0h2M313 396h1m3 0h2m25 0h1m9 0h1M318 397h2m20 0h1m2 0h1M308 398h1m1 0h1m8 0h1m3 0h1m2 0h2m13 0h1m4 0h1m3 0h1M317 399h1m9 0h1m2 0h2m9 0h1m5 0h1m3 0h1m1 0h1M302 400h1m9 0h1m3 0h2m12 0h1m16 0h1m4 0h1M317 401h1m1 0h1m6 0h2m18 0h2m5 0h1M318 402h1m27 0h1M309 403h1m1 0h1m2 0h1m2 0h1m28 0h1m2 0h2m2 0h1m1 0h1M314 404h1m15 0h1m12 0h1m1 0h2m3 0h1M313 405h2m12 0h1m2 0h1m1 0h1m8 0h1m11 0h1M319 406h1m9 0h1m16 0h2m2 0h1m1 0h1m1 0h1m2 0h1M319 407h1m8 0h1m1 0h1m16 0h1m4 0h1M277 408h1m69 0h1m9 0h1M277 409h1m40 0h1m1 0h1m8 0h1m19 0h1m5 0h1M310 410h2m2 0h2m2 0h2m26 0h1M319 411h1m9 0h1m2 0h1m6 0h1m7 0h1M312 412h1m10 0h1m4 0h1m1 0h1m5 0h1m1 0h1m10 0h1m1 0h2M305 413h1m31 0h1M302 414h1m7 0h1m27 0h1m1 0h1M304 415h1m3 0h1m2 0h1M277 416h1m1 0h1m23 0h1m2 0h1m31 0h1M277 417h1m24 0h1M290 419h1m8 0h1m3 0h1m36 0h1M296 420h1M295 421h1m4 0h3m37 0h1M277 422h1M277 423h1m17 0h1m3 0h1m1 0h2M277 424h1m18 0h3M277 425h1m10 0h1m4 0h3M291 426h1m4 0h1M287 427h1m9 0h2m2 0h1m38 0h1M277 428h1m14 0h1m3 0h2M290 429h1m1 0h1m8 0h1M277 430h1M297 431h2M277 432h1m16 0h1m2 0h1M277 433h1m10 0h1m4 0h1m1 0h1m3 0h1M289 434h1m2 0h2m3 0h1M286 435h1m1 0h2m2 0h1m5 0h1M294 436h1m5 0h1m1 0h1M290 437h1m12 0h1M289 438h1m4 0h1m5 0h1m39 0h1M301 439h1m2 0h1M289 440h1m2 0h1m2 0h1m44 0h1M296 441h3m3 0h1M301 442h1M296 443h1m3 0h1m39 0h1M277 444h1M277 445h1m16 0h1m3 0h1m36 0h1M303 446h1M296 447h1m36 0h1M298 448h1m6 0h2m29 0h1M298 449h1m5 0h1m5 0h1m5 0h1m13 0h1M300 450h1m7 0h1m8 0h1M295 451h1m3 0h1m4 0h1m9 0h1m7 0h1m1 0h1m3 0h1m9 0h1M294 452h1m7 0h1m3 0h1m3 0h2m1 0h2m3 0h1m21 0h1M309 453h1m1 0h1m27 0h1M308 454h1m4 0h1m3 0h3m4 0h1M312 455h1m4 0h1m1 0h1m8 0h1M338 456h1M277 457h1M337 458h1M323 459h1m12 0h1M327 460h1m9 0h2M327 461h1m6 0h1M287 462h6m3 0h2m2 0h1m2 0h5m1 0h1m4 0h1m1 0h2m2 0h3m2 0h1m2 0h1m2 0h2m1 0h2" stroke="#2020ff" stroke-width="1" fill="none" stroke-opacity="0.6"/>
<path d="M347 377h2M347 379h1m1 0h1M346 381h1m1 0h1M346 382h3M346 383h2m2 0h1M347 384h2M350 386h3M345 387h1m2 0h2m1 0h2M344 388h3m1 0h2M345 389h1m6 0h2M345 390h3m2 0h1m1 0h1M344 391h1m1 0h1m4 0h1M344 392h1m1 0h1m2 0h1m1 0h1M346 393h1m1 0h1M346 394h1M348 395h1M345 396h1m1 0h1m2 0h1M347 397h1M316 412h1m3 0h3m2 0h2M314 413h1m3 0h1m1 0h3m6 0h1m4 0h1M312 414h1m2 0h1m3 0h1m1 0h1m11 0h2M317 415h1m1 0h1m8 0h3m1 0h4M311 416h1m1 0h1m2 0h7m1 0h3m2 0h1m1 0h6M306 417h1m5 0h2m1 0h2m2 0h4m3 0h3m1 0h4m1 0h2M307 418h1m1 0h1m4 0h1m1 0h1m1 0h3m3 0h1m2 0h2m2 0h4m1 0h2M314 419h1m1 0h3m1 0h6m1 0h1m1 0h2m1 0h2m1 0h1m2 0h1M307 420h2m1 0h3m5 0h2m1 0h1m1 0h1m1 0h1m1 0h3m1 0h2m3 0h2M305 421h1m2 0h1m1 0h1m1 0h3m1 0h4m2 0h4m1 0h4m1 0h1m1 0h1m1 0h1m1 0h1M303 422h3m6 0h2m2 0h4m3 0h3m1 0h1m2 0h6m1 0h2M305 423h1m2 0h1m1 0h1m2 0h1m1 0h5m2 0h1m1 0h2m1 0h2m3 0h3m1 0h1m2 0h1M302 424h1m4 0h1m1 0h1m1 0h1m1 0h5m1 0h12m2 0h1m1 0h1m1 0h1m1 0h1M302 425h1m1 0h2m4 0h1m3 0h17m1 0h2m1 0h2m3 0h1M306 426h1m1 0h3m1 0h4m1 0h13m1 0h3m1 0h1m1 0h3M307 427h2m1 0h4m1 0h1m3 0h7m1 0h5m1 0h5m1 0h1M308 428h2m1 0h3m2 0h4m1 0h10m1 0h1m2 0h1m2 0h2M304 429h1m1 0h1m1 0h5m2 0h13m2 0h2m1 0h2m1 0h1M303 430h1m4 0h2m1 0h2m1 0h5m1 0h10m1 0h4m1 0h1m1 0h1M301 431h1m1 0h2m4 0h1m1 0h2m1 0h23m1 0h2M301 432h1m1 0h1m3 0h1m1 0h3m2 0h2m1 0h9m1 0h9m1 0h4M303 433h1m2 0h1m3 0h4m2 0h16m2 0h1m1 0h1m2 0h2M301 434h1m2 0h6m2 0h2m1 0h9m1 0h8m2 0h2m2 0h2M302 435h4m1 0h2m1 0h1m3 0h8m2 0h3m1 0h6m1 0h5M304 436h4m1 0h2m4 0h5m1 0h4m1 0h3m1 0h3m1 0h3m1 0h2M306 437h1m2 0h11m1 0h4m1 0h8m1 0h2M308 438h1m1 0h1m4 0h1m2 0h3m5 0h4m1 0h1m3 0h2m1 0h2M306 439h2m2 0h3m1 0h1m1 0h1m1 0h1m1 0h2m1 0h2m1 0h5m2 0h3m1 0h1m1 0h1M304 440h1m4 0h1m4 0h3m1 0h2m1 0h3m3 0h1m2 0h1m1 0h1m3 0h1M305 441h1m1 0h2m1 0h1m2 0h4m1 0h1m3 0h4m1 0h1m2 0h1m1 0h4m1 0h1m1 0h1M304 442h1m1 0h1m1 0h2m1 0h3m1 0h1m1 0h1m1 0h4m5 0h6m3 0h1m1 0h1M307 443h1m1 0h1m1 0h2m1 0h2m1 0h1m2 0h1m2 0h5m2 0h3m4 0h1m1 0h1M305 444h1m4 0h1m1 0h2m1 0h3m3 0h1m1 0h1m2 0h5m1 0h1m1 0h1m2 0h2M306 445h1m2 0h1m2 0h1m5 0h1m5 0h3m2 0h1m6 0h1M307 446h4m3 0h1m3 0h1m2 0h1m4 0h1m3 0h1M308 447h1m3 0h1m2 0h1M309 448h1m3 0h1m1 0h1m2 0h1m4 0h1m1 0h2M313 449h1m6 0h1m3 0h2M314 450h1m5 0h1m5 0h2" stroke="#2020ff" stroke-width="1" fill="none" stroke-opacity="0.75"/>
<path d="M349 377h1M349 378h1M345 381h1M348 382h1M345 383h1M347 384h2m2 0h1M346 385h1m5 0h1M345 386h1m3 0h1M346 387h3M344 388h1m2 0h1m4 0h2M345 389h1m1 0h3m3 0h1M344 390h1m1 0h2m3 0h2M344 391h4m4 0h1M350 392h1M345 393h2M345 394h1m1 0h1m1 0h1M344 395h2m1 0h1m2 0h1M346 396h2m1 0h1M346 397h1M316 412h1m8 0h1M313 413h2m3 0h1m2 0h1m3 0h1m8 0h2M313 414h2m1 0h1m1 0h1m3 0h1m6 0h2m2 0h1M314 415h1m2 0h2m1 0h1m1 0h1m1 0h2m1 0h2m1 0h2m1 0h2M316 416h1m1 0h1m5 0h2m2 0h3m2 0h1m2 0h1M306 417h1m1 0h1m2 0h1m2 0h1m1 0h1m2 0h1m2 0h1m2 0h7m6 0h1M306 418h1m1 0h1m2 0h2m3 0h1m2 0h7m2 0h4m1 0h2m1 0h1M308 419h1m2 0h1m1 0h1m1 0h1m1 0h1m2 0h8m1 0h1m1 0h5m1 0h1M311 420h3m4 0h4m1 0h3m1 0h8m1 0h3M305 421h1m5 0h1m3 0h4m1 0h3m1 0h7m1 0h1m1 0h1m2 0h1M304 422h3m2 0h3m2 0h9m1 0h2m1 0h2m1 0h1m2 0h2M306 423h1m1 0h2m2 0h1m1 0h15m2 0h4m4 0h1M303 424h1m3 0h2m1 0h1m2 0h1m1 0h1m1 0h1m1 0h9m1 0h5m2 0h1m1 0h2M301 425h1m4 0h3m1 0h17m1 0h2m1 0h8M301 426h1m1 0h5m1 0h3m1 0h18m1 0h2m4 0h3M302 427h1m2 0h4m2 0h10m1 0h2m1 0h13M306 428h2m2 0h4m1 0h15m1 0h6M303 429h1m1 0h1m1 0h4m1 0h2m2 0h9m1 0h4m1 0h1m1 0h1m1 0h2M303 430h1m5 0h4m1 0h4m1 0h13m1 0h7M303 431h1m5 0h1m1 0h1m1 0h1m1 0h8m1 0h6m1 0h4m1 0h3M303 432h2m3 0h2m2 0h1m1 0h18m1 0h3m3 0h1M303 433h3m7 0h12m1 0h10m1 0h1m2 0h1M300 434h2m6 0h5m1 0h4m1 0h4m1 0h2m1 0h5m1 0h2m1 0h4M299 435h1m4 0h2m2 0h1m1 0h2m1 0h1m3 0h1m1 0h7m1 0h3m2 0h3m3 0h1M304 436h1m1 0h1m2 0h1m3 0h2m1 0h10m1 0h1m1 0h3m1 0h1m1 0h2m1 0h1M309 437h3m4 0h8m1 0h2m1 0h6m2 0h1m1 0h2M308 438h1m4 0h4m2 0h3m1 0h1m2 0h3m1 0h1m1 0h1m2 0h1m3 0h1M305 439h1m1 0h1m1 0h2m2 0h1m1 0h1m2 0h2m1 0h8m1 0h5m2 0h1m1 0h1M305 440h2m3 0h1m1 0h1m1 0h3m2 0h3m1 0h2m1 0h1m2 0h2m3 0h1m1 0h1m1 0h2M304 441h1m1 0h1m1 0h1m2 0h2m1 0h1m1 0h1m2 0h4m2 0h2m1 0h2m7 0h1m1 0h1M304 442h3m2 0h1m1 0h1m1 0h6m1 0h1m2 0h2m3 0h1m1 0h1m3 0h1M305 443h2m1 0h1m4 0h1m1 0h1m1 0h3m1 0h1m1 0h1m3 0h1m1 0h1m2 0h4m2 0h2M310 444h2m1 0h2m1 0h2m2 0h1m7 0h3m1 0h1m2 0h2M309 445h3m2 0h3m2 0h1m1 0h1m1 0h2m2 0h1m1 0h1m1 0h1M308 446h1m1 0h1m3 0h1m4 0h2m3 0h1m1 0h1m2 0h1M306 447h1m3 0h1m2 0h1m4 0h1m6 0h1M309 448h2m1 0h3m3 0h1m4 0h3M312 449h2m6 0h1m6 0h1M320 450h1m4 0h1" stroke="#2020ff" stroke-width="1" fill="none" stroke-opacity="0.75"/>
<path d="M348 377h1M348 378h1M348 379h1M346 380h3M348 381h1M344 382h3M344 383h1m2 0h1M345 384h1m1 0h2m1 0h2M346 385h1m1 0h1m2 0h2M346 386h3m3 0h1M346 387h1m1 0h1m4 0h1M346 388h1m2 0h2M344 389h1m2 0h1m1 0h3m1 0h1M345 390h1m3 0h1M344 391h1m2 0h3m1 0h1M345 392h2m2 0h1M344 393h2m3 0h2M349 394h2M344 395h1m2 0h1m1 0h2M346 396h1m1 0h1m1 0h1M317 412h2m3 0h1m2 0h2M315 413h1m2 0h1m1 0h2m1 0h1m6 0h2m2 0h1M314 414h1m1 0h1m1 0h1m6 0h1m3 0h1m1 0h1m1 0h1M312 415h2m1 0h1m4 0h1m7 0h3m2 0h1m2 0h1M316 416h6m3 0h1m2 0h1m3 0h3m2 0h1M306 417h1m1 0h1m3 0h2m2 0h3m1 0h1m4 0h2m2 0h1m1 0h1M307 418h2m2 0h4m1 0h1m1 0h10m1 0h2m1 0h1m3 0h1M308 419h1m1 0h1m2 0h1m1 0h1m4 0h2m1 0h7m2 0h1m1 0h1M309 420h2m1 0h1m2 0h14m1 0h3m1 0h1m1 0h1M308 421h2m2 0h1m1 0h2m1 0h4m1 0h2m1 0h3m1 0h1m1 0h2m2 0h2M305 422h1m2 0h1m2 0h2m2 0h1m1 0h2m1 0h3m1 0h3m1 0h3m1 0h2m3 0h1m1 0h1M306 423h1m1 0h2m7 0h5m2 0h4m1 0h5m1 0h1M303 424h7m3 0h13m2 0h9m1 0h1M301 425h1m2 0h2m6 0h3m2 0h22m1 0h1M301 426h2m4 0h1m1 0h1m3 0h13m1 0h13M303 427h3m1 0h3m1 0h1m2 0h6m1 0h6m2 0h1m1 0h1m1 0h4m1 0h1M302 428h2m2 0h1m2 0h2m2 0h6m1 0h11m1 0h3m1 0h1M304 429h2m1 0h1m2 0h25m1 0h2M303 430h1m1 0h1m1 0h7m2 0h13m1 0h1m1 0h1m1 0h4m1 0h1M301 431h1m2 0h2m3 0h2m2 0h2m1 0h15m1 0h3m1 0h1m1 0h1M302 432h1m1 0h2m1 0h2m2 0h3m2 0h1m1 0h5m1 0h2m1 0h4m1 0h1m1 0h2m4 0h1M301 433h1m8 0h2m3 0h2m1 0h4m2 0h4m1 0h4m1 0h1m1 0h1m2 0h1M299 434h2m3 0h1m1 0h1m5 0h1m3 0h2m1 0h1m1 0h6m1 0h5m1 0h1m1 0h2M299 435h2m2 0h2m4 0h3m1 0h17m1 0h2m1 0h2M305 436h1m3 0h1m3 0h4m1 0h1m2 0h7m1 0h1m1 0h1m1 0h1m4 0h1M310 437h1m2 0h1m1 0h1m1 0h2m2 0h2m1 0h3m1 0h6m3 0h1M309 438h1m1 0h1m1 0h2m1 0h2m1 0h16m1 0h1M309 439h1m1 0h4m1 0h1m1 0h7m3 0h3m1 0h1m4 0h3M309 440h1m4 0h3m1 0h1m1 0h1m1 0h3m1 0h1m3 0h5m1 0h2M303 441h1m1 0h1m2 0h1m1 0h1m1 0h2m1 0h2m2 0h1m2 0h1m1 0h2m1 0h1m2 0h5m2 0h1M310 442h2m2 0h1m1 0h2m2 0h4m1 0h1m3 0h2m2 0h1m1 0h2M306 443h1m1 0h1m3 0h1m2 0h3m1 0h2m4 0h1m1 0h3m2 0h1m4 0h1m1 0h1M305 444h2m1 0h3m4 0h1m1 0h4m1 0h1m1 0h2m3 0h1m1 0h1m3 0h1M306 445h2m2 0h1m2 0h1m2 0h1m4 0h1m4 0h1m3 0h1m5 0h1M306 446h2m5 0h3m1 0h1m3 0h3m1 0h1m3 0h1M306 447h1m1 0h1m1 0h1m2 0h1m3 0h1m5 0h1m2 0h1m1 0h1M311 448h2m5 0h1m4 0h1m2 0h3M315 449h1m3 0h2m5 0h2M313 450h2m11 0h1" stroke="#2020ff" stroke-width="1" fill="none" stroke-opacity="0.75"/>
<path d="M298 326h1M311 327h1M297 328h1M296 330h1m19 0h1M277 331h1m24 0h1m4 0h1M326 332h1M277 333h1m1 0h1m43 0h1m4 0h1M304 334h1M327 335h1M281 337h1M280 338h1m9 0h1m2 0h1m1 0h1m36 0h1M277 341h1m4 0h1M282 343h1M334 344h1M280 346h1M281 347h1m52 0h1M281 351h2M283 353h1M280 356h1M285 360h1M281 363h1M286 365h2M333 366h1M277 368h1m56 0h1M277 369h1M286 370h1M279 371h1m5 0h1M331 373h1M330 378h1M280 379h1m22 0h1m1 0h1M329 380h1M347 412h1m9 0h1M342 413h1M364 422h1M367 424h1M369 439h1M369 440h1M374 444h1M366 446h1M365 447h1M369 448h1M340 457h1M369 462h1m1 0h1" stroke="#000" stroke-width="1" fill="none" stroke-opacity="0.5"/>
<path d="M317 322h1M314 326h1m3 0h1m4 0h1M302 328h3m1 0h1m16 0h1M308 329h1m1 0h1M292 330h1m40 0h1M277 331h1m43 0h2M290 332h1m7 0h1M327 333h1M290 334h1m41 0h1M288 335h1m37 0h1m2 0h1M296 336h1m35 0h1M286 337h2m8 0h1M284 339h1M334 340h1M277 341h1m8 0h1M283 342h1M280 343h1M285 353h1M282 354h1M282 359h1M280 360h1M282 361h1M288 365h1M282 368h1m3 0h1M285 369h1M286 372h1M332 373h1M286 374h1m2 0h1m39 0h1M284 375h1M284 377h1m43 0h2M292 378h1m3 0h1m31 0h1M281 379h1m2 0h1m6 0h1M296 380h1m2 0h1M309 381h1M362 413h1M363 414h1M368 416h1M364 434h1M365 437h1M366 440h1m3 0h1M367 442h1M373 443h1M364 453h1M363 455h1M370 457h1M365 460h1M366 462h1m1 0h1" stroke="#000" stroke-width="1" fill="none" stroke-opacity="0.5"/>
<path d="M289 326h1m18 0h1m21 0h1M321 327h1M323 328h1M286 329h1m12 0h1m16 0h1m14 0h1M301 330h1m10 0h1M277 331h1m18 0h1m1 0h2m5 0h1m20 0h1M305 332h1m19 0h1M277 333h1m7 0h1m9 0h1m36 0h1M292 334h2m9 0h1M283 335h1M290 336h1M285 338h1m1 0h1m5 0h1M281 340h1M280 341h1M281 343h1M279 344h1m4 0h1M283 345h1m50 0h1M281 347h1M282 350h1M280 351h1M285 353h1M283 357h1M281 358h1M288 362h1M280 363h1m2 0h1M333 364h1M334 370h1M333 371h1M283 372h1m47 0h1M285 374h1m48 0h1M283 375h1M284 377h1M289 378h1M300 379h1m4 0h1M291 380h1m34 0h1M359 413h1M362 414h1M363 419h1M363 424h1M369 429h1M365 432h1M367 438h1M366 444h1M363 450h1M362 458h1M345 462h1m18 0h1m1 0h1" stroke="#000" stroke-width="1" fill="none" stroke-opacity="0.5"/>
<path d="M311 332h1m9 0h1M310 333h1m3 0h2m2 0h1m3 0h1M305 334h1m2 0h1m4 0h1M277 335h1m30 0h1m4 0h1m6 0h2m8 0h1M300 336h1m4 0h2m4 0h1m1 0h1m4 0h1M277 337h1m28 0h1m2 0h1m12 0h1m2 0h1M277 338h1m1 0h1m23 0h1m19 0h1m2 0h1m1 0h1M298 339h1m1 0h1m24 0h1M292 340h1m34 0h1m2 0h1M331 341h1M288 342h1m39 0h1m2 0h1M277 343h1m10 0h1m1 0h1m4 0h2m34 0h1M277 344h1m15 0h1m37 0h1M291 345h2m37 0h2M288 346h1m1 0h1m2 0h1m1 0h1m37 0h1M284 347h1m2 0h1m2 0h1m4 0h1m35 0h2M277 348h1m2 0h1m3 0h1m47 0h1M286 349h1m4 0h2M285 350h3M287 351h1m44 0h1M289 352h1m43 0h1M277 354h1m11 0h1m41 0h1m2 0h1M288 355h1m43 0h1M288 356h2m44 0h1M277 357h1m7 0h1M288 358h1M277 359h1m12 0h2m37 0h1M290 360h1m6 0h1m30 0h1M277 361h1m1 0h1m11 0h1m40 0h1M299 362h1M277 363h1m13 0h1M277 364h1m21 0h1m27 0h1m3 0h1M277 365h1m15 0h2m4 0h1m26 0h1m5 0h1M291 366h1m4 0h1m31 0h1M296 367h1M288 368h1m5 0h1m3 0h1m31 0h1M294 369h1m2 0h1m31 0h2M300 370h1m28 0h1M299 371h1M277 372h1m20 0h1M277 373h2m25 0h1m19 0h1M277 374h1m16 0h2m28 0h1M277 375h1m48 0h1M302 376h1m5 0h2m2 0h1m9 0h1m2 0h1M304 377h1m17 0h1M277 378h1m32 0h2m1 0h1m6 0h1M277 379h1m20 0h1m9 0h1m4 0h1m5 0h1m3 0h1M313 380h1m3 0h1m1 0h1M351 413h1m3 0h1m1 0h1M348 414h2m1 0h1m1 0h1M344 415h1m1 0h2m5 0h1m3 0h1M341 416h1m2 0h1m5 0h1m5 0h1m2 0h1m1 0h1M355 417h1m6 0h1M348 418h1m11 0h1M341 419h1m13 0h1m1 0h1m1 0h2M340 420h2m15 0h1m1 0h1M357 421h1M360 422h1M341 423h1M358 424h1M340 425h1m20 0h1m1 0h1M361 426h2M362 427h1M362 428h1M362 429h1M362 431h1M340 432h1M363 433h1M361 434h2M362 438h1M364 441h1M362 442h1M363 443h1M362 444h1m2 0h1M362 445h1M362 447h1M340 448h1M361 449h1M342 450h1M360 452h2m1 0h1M341 453h1m1 0h2m15 0h1M360 454h1m1 0h1M340 455h1m1 0h1m16 0h1m1 0h1M343 456h2m13 0h1M343 457h1M346 458h1m12 0h1M357 459h1M346 460h1M359 461h3M341 462h1m2 0h1m4 0h1m3 0h1m3 0h1m4 0h1" stroke="#000" stroke-width="1" fill="none" stroke-opacity="0.65"/>
<path d="M312 331h1m1 0h1M310 332h1m5 0h1m3 0h1M313 333h1m1 0h1m3 0h1m1 0h1M318 334h2M277 335h1m30 0h1m3 0h1m1 0h1m15 0h1M301 336h1m6 0h1m6 0h1M277 337h1m22 0h1M277 338h1M296 339h1M291 340h1m1 0h1m34 0h1m2 0h1M294 341h1m1 0h1m31 0h1M277 342h1m13 0h1m2 0h1m1 0h1M330 343h1M277 344h1m16 0h1m35 0h1M277 345h1m11 0h1m2 0h1m2 0h1m34 0h1M287 346h1m5 0h1m1 0h1m34 0h1M277 347h1m7 0h1M279 348h1m10 0h1m40 0h1m1 0h1M277 349h1m8 0h1M280 350h1m10 0h1m40 0h1M277 351h1m6 0h1m3 0h1M333 352h1M289 353h1M289 354h1M277 356h1m1 0h1m3 0h1m50 0h1M277 357h1m52 0h2M285 358h1m48 0h1M298 359h1M277 360h2m7 0h1m41 0h3m2 0h1M328 361h1m1 0h1m2 0h1M277 362h1m20 0h1m32 0h2M328 363h1M327 364h1m2 0h1M293 365h1m1 0h2m30 0h1m1 0h1M332 366h1M277 367h1m11 0h1m5 0h2m1 0h2m29 0h1m1 0h1M288 368h2m5 0h1m1 0h1m32 0h2M292 369h1m3 0h1M300 370h1m25 0h1M277 371h1m10 0h2m4 0h1m29 0h2M277 372h1m10 0h1m2 0h1m7 0h1m28 0h1M277 373h1m15 0h1m11 0h1m19 0h3M277 374h1m23 0h1m17 0h2m1 0h1M294 375h1m5 0h1m5 0h1m2 0h1m2 0h1m6 0h1m7 0h1M277 376h1m18 0h1m3 0h1m7 0h3m15 0h1M307 377h1m5 0h1M277 378h1m20 0h1m12 0h1m9 0h1m2 0h1M308 379h1m4 0h1m1 0h1M308 380h1m8 0h1M345 413h2m1 0h1M350 414h1M353 415h2m3 0h1M341 416h2m6 0h1m5 0h1M341 417h1m15 0h1m4 0h1M341 418h1M356 419h2m1 0h1M360 420h1M340 421h1M360 423h1M340 424h1m18 0h1M364 427h1M362 428h1M364 429h1M362 430h1M340 432h1m22 0h1M340 433h1M361 435h1M361 436h1M340 437h1M362 439h1m1 0h1M340 440h1M363 441h1M363 442h1M362 446h1m1 0h1M363 447h1M362 450h1M341 451h1M341 452h1m1 0h1M341 453h2M340 454h1m1 0h1m1 0h1M346 455h1M346 456h1M346 457h1m11 0h1M344 458h1m11 0h1M341 460h1m1 0h1m3 0h1m10 0h1M344 461h1m2 0h1M342 462h1m10 0h1m3 0h2m2 0h1" stroke="#000" stroke-width="1" fill="none" stroke-opacity="0.65"/>
<path d="M312 332h1M308 333h1M313 334h1m2 0h1m4 0h1M309 335h2m8 0h1m1 0h1m9 0h1M277 336h1m25 0h1m2 0h1m3 0h1m4 0h1m2 0h1M277 337h1m23 0h1m2 0h1M301 338h2m1 0h1m2 0h1m21 0h1M277 339h1m20 0h2m26 0h2m1 0h1m2 0h1M297 340h1m34 0h1M290 341h1m2 0h1m35 0h1m2 0h1M288 342h1M288 343h1m2 0h1m1 0h1m35 0h1M288 344h1m2 0h1m2 0h1m1 0h1M290 345h2m3 0h1M287 346h1m6 0h1m35 0h1M277 347h1m8 0h2m5 0h1m2 0h1M285 348h1m4 0h1m2 0h2m36 0h1M278 349h1m10 0h3m39 0h1M277 350h1m53 0h1M277 351h1M277 352h1m11 0h1m43 0h1M277 353h1m56 0h1M277 354h1m56 0h1M277 355h1m6 0h1m49 0h1M277 356h1m9 0h1m43 0h1m1 0h1M277 357h1m12 0h1m40 0h1M289 358h1m42 0h1m1 0h1M286 359h1m42 0h1M286 360h2m2 0h1m40 0h1M277 361h1m11 0h1m1 0h1m6 0h1m34 0h1M290 362h2m36 0h1m3 0h1M277 363h1m11 0h1m1 0h1m36 0h1M292 364h1M291 366h1m2 0h2m32 0h2M277 367h1m16 0h1m2 0h1M329 368h1M291 369h1m5 0h1m1 0h1M288 370h1m4 0h1m6 0h1m24 0h1m2 0h2m1 0h1M290 371h1m1 0h4m2 0h1m25 0h1m3 0h1M277 372h1m16 0h2m3 0h1m3 0h1M291 373h1m14 0h1M296 374h1m2 0h2m2 0h2m6 0h1m8 0h1m5 0h1M277 375h1m17 0h1m2 0h1m20 0h1m2 0h1M277 376h1m17 0h1m5 0h1m2 0h1m4 0h1m2 0h1m9 0h2M300 377h1m2 0h1m3 0h1m3 0h1m11 0h1m1 0h1M277 378h1m21 0h1m3 0h1m3 0h1m8 0h1M277 379h1m19 0h1m15 0h1m4 0h1m1 0h1m2 0h1M298 380h1m11 0h1m1 0h1m1 0h1m1 0h1m3 0h1M344 413h1m6 0h1m1 0h1m3 0h1M343 414h1m4 0h1m3 0h1M344 415h1m5 0h1m1 0h1m1 0h1m3 0h1m2 0h1M341 416h1m1 0h1m2 0h1m9 0h1m1 0h1m2 0h1M341 417h1m7 0h1M355 418h1M357 419h1m3 0h1M357 421h1m1 0h2M341 422h1M360 424h1M361 426h1M363 427h1M362 428h1M362 429h1M364 430h1M362 431h1M364 433h1M340 435h1M362 436h1M340 437h1m20 0h1M362 438h1M363 441h1M362 442h1M363 443h1M365 444h1M340 446h1M362 447h1M340 448h2m19 0h1M340 450h2m19 0h1M341 451h3M344 453h1m17 0h1M341 454h1m18 0h1M341 456h1m1 0h1M342 457h2m2 0h1M346 458h1M341 459h2m1 0h1m13 0h1M357 460h2M341 462h3m5 0h1m3 0h1m3 0h1" stroke="#000" stroke-width="1" fill="none" stroke-opacity="0.65"/>
<path d="M310 337h2m8 0h2M312 338h1m2 0h2M301 339h1m1 0h1m5 0h1m3 0h5m3 0h3M303 340h1m2 0h2m2 0h2m1 0h1m2 0h3m6 0h1M298 341h1m4 0h3m3 0h1m1 0h3m1 0h4m4 0h1m1 0h2M299 342h1m1 0h1m1 0h2m1 0h8m3 0h3m2 0h1m3 0h1M297 343h2m1 0h1m2 0h1m1 0h2m1 0h1m1 0h1m1 0h1m2 0h1m2 0h3m1 0h1m1 0h1m2 0h1M297 344h1m3 0h3m1 0h1m3 0h1m1 0h7m1 0h5m2 0h1m1 0h1M294 345h1m4 0h2m2 0h1m2 0h1m1 0h2m1 0h1m1 0h2m1 0h4m1 0h1m1 0h2m4 0h1M303 346h1m1 0h3m3 0h15m2 0h1M300 347h3m3 0h1m1 0h1m1 0h3m1 0h2m1 0h1m1 0h1m1 0h3M295 348h2m6 0h1m4 0h1m1 0h1m2 0h2m2 0h1m1 0h1m1 0h3m1 0h3M297 349h2m5 0h7m1 0h12m1 0h2m2 0h1M292 350h1m1 0h1m3 0h2m3 0h2m8 0h8m1 0h1m2 0h1m1 0h1M294 351h2m2 0h2m1 0h1m1 0h2m1 0h9m1 0h1m1 0h3m1 0h7M290 352h2m2 0h1m2 0h1m1 0h1m2 0h2m1 0h1m1 0h1m2 0h1m3 0h1m1 0h1m1 0h2m1 0h1m2 0h2M296 353h2m2 0h8m1 0h14m1 0h2m3 0h1M290 354h1m3 0h1m1 0h3m6 0h3m3 0h9m6 0h4M295 355h3m2 0h1m2 0h3m2 0h9m1 0h2m1 0h2m1 0h1M291 356h1m2 0h1m1 0h2m3 0h2m1 0h2m1 0h2m1 0h5m1 0h1m2 0h2m1 0h2m1 0h5M296 357h1m1 0h2m3 0h1m2 0h7m1 0h6m4 0h1m1 0h1m2 0h1M302 358h1m1 0h1m3 0h4m1 0h2m2 0h2m1 0h2m2 0h1M296 359h1m4 0h1m1 0h1m1 0h4m1 0h1m1 0h3m2 0h2m2 0h2m1 0h1m2 0h1M293 360h1m8 0h1m4 0h1m1 0h5m1 0h2m1 0h1m1 0h1m2 0h2M292 361h3m5 0h1m1 0h1m1 0h1m1 0h2m1 0h6m1 0h7m2 0h1M292 362h1m8 0h2m2 0h1m3 0h3m1 0h1m1 0h2m1 0h4m4 0h1M295 363h2m1 0h1m7 0h1m2 0h3m1 0h2m1 0h1m1 0h1m4 0h1m1 0h1M297 364h1m3 0h8m1 0h1m1 0h1m1 0h2m2 0h2m1 0h2m1 0h1M304 365h1m1 0h2m1 0h1m2 0h3m1 0h2m1 0h1m1 0h2M302 366h1m2 0h1m1 0h2m1 0h8m1 0h2m2 0h1M300 367h1m1 0h1m2 0h2m1 0h2m3 0h3m1 0h1m2 0h5M307 368h1m3 0h1m1 0h1m3 0h2m4 0h1m3 0h1M301 369h2m2 0h3m1 0h2m1 0h1m1 0h1m5 0h2m1 0h1m1 0h1M302 370h2m1 0h1m1 0h2m1 0h1m3 0h3m1 0h1m1 0h1m2 0h1M302 371h1m4 0h1m1 0h1m3 0h1m3 0h1m2 0h1M304 372h1m8 0h2m5 0h2M308 373h3m2 0h4m2 0h1m3 0h1M316 374h1M314 375h1m1 0h1M313 376h3m2 0h1M317 377h2M318 378h1M343 417h1m2 0h2m3 0h1m1 0h1M344 418h2m6 0h2M343 419h2m6 0h1m2 0h1M343 420h1m5 0h1m1 0h1m3 0h1M344 421h3m1 0h1m5 0h1M350 422h1m4 0h1M342 423h3m1 0h1m1 0h3m3 0h3M341 424h2m1 0h1m1 0h4m1 0h5m1 0h1M343 425h2m2 0h4m5 0h1M341 426h1m3 0h3m1 0h3m1 0h2m2 0h2M341 427h1m2 0h1m2 0h2m1 0h1m1 0h2m1 0h2m1 0h1M340 428h1m3 0h2m1 0h8m1 0h3m1 0h1M341 429h2m2 0h1m1 0h3m1 0h1m1 0h2m1 0h2m2 0h2M342 430h1m2 0h4m1 0h6M341 431h2m1 0h1m2 0h2m1 0h4m2 0h4M341 432h2m1 0h2m1 0h1m2 0h6m1 0h1m1 0h1M342 433h2m1 0h1m1 0h5m2 0h4m1 0h1M342 434h1m2 0h1m1 0h4m1 0h3m2 0h1m2 0h1M345 435h1m1 0h8m1 0h1m1 0h1m1 0h1M343 436h3m1 0h5m1 0h6m1 0h1M342 437h4m1 0h1m1 0h5m1 0h1m4 0h1M344 438h7m1 0h4m1 0h3M341 439h1m1 0h1m1 0h5m1 0h1m1 0h3m2 0h1m1 0h1M341 440h1m1 0h4m1 0h1m1 0h2m1 0h9M343 441h1m1 0h1m1 0h4m2 0h3m1 0h3M342 442h1m1 0h1m2 0h2m1 0h3m1 0h1m1 0h3m2 0h1M342 443h1m1 0h1m1 0h1m1 0h3m1 0h2m1 0h1m5 0h1M343 444h1m2 0h1m1 0h5m1 0h5m1 0h1M341 445h1m2 0h2m1 0h2m2 0h1m1 0h2m1 0h2M341 446h1m1 0h2m1 0h1m1 0h1m3 0h1m1 0h4m1 0h1M345 447h3m2 0h1m1 0h5m1 0h4M342 448h1m2 0h2m2 0h1m1 0h3m1 0h1m1 0h1M344 449h2m2 0h1m3 0h3m1 0h2m2 0h1M345 450h6m1 0h2m1 0h4M351 451h4m4 0h1M345 452h1m2 0h3m1 0h4m2 0h1M349 453h1m3 0h1m1 0h1m2 0h1M346 454h1m4 0h2m1 0h2m1 0h1M348 455h1m1 0h1m1 0h2m1 0h2M353 456h2m1 0h1M347 457h1m7 0h1M347 458h1m1 0h1m2 0h4M347 459h3m1 0h2M350 460h1m1 0h1M351 461h1m1 0h1M350 462h2m4 0h1" stroke="#000" stroke-width="1" fill="none" stroke-opacity="0.9"/>
<path d="M311 337h1m2 0h1m6 0h1M309 338h1m1 0h4m1 0h1m1 0h1m1 0h2M301 339h1m1 0h1m2 0h1m3 0h1m3 0h3m2 0h2m3 0h1M300 340h1m1 0h1m1 0h2m2 0h1m1 0h1m2 0h3m2 0h6M297 341h5m1 0h4m4 0h1m2 0h5m1 0h2m1 0h2m1 0h1M298 342h2m2 0h2m6 0h2m3 0h6m3 0h1m1 0h1M301 343h1m3 0h7m1 0h1m1 0h2m2 0h1m1 0h4m1 0h3M301 344h2m1 0h1m2 0h1m1 0h2m1 0h8m1 0h1m1 0h1m2 0h1M294 345h1m3 0h1m3 0h1m4 0h3m2 0h1m1 0h1m1 0h1m1 0h1m1 0h2m1 0h1m2 0h1M300 346h1m2 0h5m1 0h2m3 0h1m1 0h4m3 0h1m2 0h1M297 347h3m1 0h5m3 0h2m3 0h6m1 0h4m3 0h1M299 348h1m1 0h2m1 0h1m2 0h1m1 0h2m1 0h4m1 0h6m2 0h1M297 349h3m1 0h1m1 0h8m1 0h2m1 0h2m1 0h5m1 0h5M293 350h1m1 0h1m1 0h1m2 0h3m1 0h4m1 0h1m2 0h3m1 0h8m1 0h1m1 0h2M291 351h2m2 0h1m1 0h1m5 0h3m2 0h4m2 0h4m1 0h4m1 0h3m1 0h1M293 352h1m1 0h1m2 0h1m1 0h1m1 0h2m1 0h1m1 0h9m1 0h1m1 0h5m2 0h1m1 0h3M295 353h2m1 0h1m1 0h5m1 0h1m1 0h3m1 0h1m1 0h7m2 0h2m1 0h6M294 354h2m2 0h1m3 0h1m1 0h2m1 0h17m2 0h3M290 355h3m2 0h3m4 0h1m1 0h1m3 0h8m1 0h2m1 0h3m1 0h5M291 356h2m2 0h1m6 0h2m1 0h7m1 0h1m2 0h12M292 357h1m2 0h1m3 0h1m3 0h2m2 0h15m1 0h2m1 0h3M292 358h2m5 0h1m3 0h1m1 0h2m2 0h7m2 0h1m1 0h1m1 0h4m2 0h1M293 359h1m2 0h1m7 0h1m1 0h5m1 0h3m1 0h6m1 0h1m1 0h1m1 0h1M292 360h1m8 0h1m1 0h1m1 0h2m3 0h1m1 0h6m1 0h2m1 0h2M293 361h2m9 0h1m1 0h5m1 0h1m3 0h7m1 0h1M294 362h1m5 0h1m1 0h4m2 0h3m1 0h9m1 0h5M296 363h1m4 0h1m1 0h1m1 0h1m1 0h3m2 0h4m1 0h4m2 0h2M296 364h3m4 0h2m1 0h2m1 0h1m1 0h4m2 0h3m2 0h1M300 365h3m3 0h10m2 0h1M301 366h1m1 0h1m1 0h1m1 0h1m1 0h3m3 0h2m1 0h2m1 0h3M300 367h1m1 0h1m1 0h3m1 0h2m1 0h1m2 0h3m1 0h1m2 0h1m2 0h4M305 368h1m9 0h3m3 0h3m3 0h1M302 369h1m1 0h1m4 0h1m1 0h2m1 0h2m1 0h1m1 0h1m1 0h2m2 0h2M302 370h2m2 0h1m1 0h3m2 0h2m2 0h2m2 0h1M303 371h2m2 0h1m10 0h1m3 0h1M305 372h1m1 0h1m1 0h1m1 0h1m2 0h3m3 0h2M307 373h1m1 0h1m2 0h2m3 0h1m3 0h1m1 0h1M308 374h1m5 0h3M313 375h1m4 0h1M313 376h1m1 0h1M316 377h3M318 378h1M342 417h1m3 0h2m3 0h1M343 418h1m2 0h1m2 0h1m1 0h1M342 419h1m1 0h1m1 0h1m2 0h1m1 0h1m2 0h1M343 420h1m2 0h2m1 0h1m1 0h2M343 421h2m5 0h2m2 0h1M344 422h1m2 0h1m1 0h5M344 423h4m1 0h1m2 0h1m4 0h1M343 424h3m1 0h1m1 0h1m6 0h1M342 425h1m4 0h1m1 0h2m1 0h1m2 0h1m2 0h1M341 426h1m1 0h1m4 0h4m1 0h2m1 0h1m1 0h1M341 427h6m1 0h2m3 0h1m3 0h1M341 428h3m1 0h7m2 0h3m1 0h2M341 429h1m1 0h4m1 0h2m1 0h2m1 0h3m2 0h1M342 430h1m2 0h2m1 0h2m1 0h1m1 0h3m1 0h2M344 431h3m1 0h6m1 0h3M341 432h2m1 0h2m2 0h5m2 0h1m4 0h1M341 433h10m1 0h4m2 0h2M341 434h1m1 0h2m3 0h1m2 0h4m2 0h1m1 0h1M344 435h4m1 0h2m1 0h7m1 0h1M341 436h1m1 0h1m1 0h1m2 0h6m1 0h1M342 437h1m1 0h4m2 0h3m2 0h5M341 438h4m1 0h3m1 0h3m1 0h3m1 0h1M341 439h1m2 0h13m1 0h1M341 440h1m1 0h1m4 0h1m1 0h3m1 0h2m2 0h2M346 441h1m1 0h9m1 0h1M346 442h8m1 0h1m2 0h1M342 443h3m3 0h10m1 0h1M342 444h2m2 0h1m1 0h1m2 0h3m1 0h1M341 445h2m1 0h4m1 0h1m1 0h4m2 0h1m1 0h2M344 446h1m2 0h1m1 0h4m1 0h3m1 0h2M341 447h1m2 0h1m1 0h4m2 0h3m2 0h1m2 0h1M346 448h3m1 0h1m1 0h1m2 0h1m2 0h1M343 449h1m1 0h1m1 0h2m2 0h3m1 0h1m2 0h1m1 0h1M346 450h2m1 0h5m1 0h3m1 0h1M348 451h3m4 0h3m1 0h2M346 452h1m1 0h2m3 0h2M346 453h7m2 0h1m3 0h1M347 454h5m2 0h2m2 0h1M347 455h1m1 0h5m1 0h1M349 456h1m1 0h1m1 0h2m2 0h1M347 457h1m2 0h2M349 458h1m2 0h1m1 0h1M353 459h1m1 0h1M348 460h2m1 0h1m2 0h1M350 461h1m3 0h1M350 462h2m3 0h2" stroke="#000" stroke-width="1" fill="none" stroke-opacity="0.9"/>
<path d="M314 337h1m3 0h2M308 338h1m1 0h1m4 0h2m3 0h1M303 339h1m4 0h1m3 0h1m3 0h4m1 0h3M302 340h1m1 0h3m1 0h1m2 0h1m2 0h4m4 0h1M297 341h1m1 0h2m1 0h1m3 0h1m2 0h1m2 0h3m5 0h1m1 0h1m1 0h1M297 342h1m4 0h2m2 0h2m3 0h4m1 0h3m3 0h3m2 0h1M300 343h1m3 0h1m3 0h11m1 0h1m1 0h1m1 0h1M298 344h1m1 0h2m4 0h1m2 0h2m1 0h4m1 0h2m2 0h1m2 0h1m2 0h1m1 0h1M298 345h1m1 0h1m4 0h1m2 0h2m2 0h2m1 0h3m2 0h6m1 0h2M298 346h7m1 0h1m1 0h1m1 0h5m1 0h2m1 0h5m1 0h1m1 0h1M297 347h1m2 0h1m2 0h1m3 0h3m2 0h1m1 0h1m1 0h3m3 0h3m1 0h1M300 348h3m2 0h1m2 0h3m1 0h4m1 0h3m1 0h1m1 0h1m3 0h1M295 349h1m4 0h4m4 0h1m1 0h3m1 0h4m1 0h1m2 0h1m1 0h4M294 350h2m1 0h3m1 0h1m1 0h1m2 0h1m1 0h4m1 0h1m1 0h9m1 0h1m1 0h1m2 0h1M292 351h1m1 0h1m3 0h1m1 0h9m1 0h14m1 0h1m1 0h2m1 0h1M291 352h1m3 0h1m2 0h2m3 0h7m1 0h2m1 0h2m1 0h1m1 0h7m4 0h1M291 353h2m5 0h1m3 0h1m1 0h2m1 0h1m1 0h9m1 0h1m1 0h2m1 0h7M292 354h2m2 0h2m1 0h1m2 0h1m3 0h1m2 0h4m1 0h1m1 0h3m1 0h2m5 0h1M290 355h2m1 0h1m1 0h1m3 0h3m1 0h2m1 0h4m1 0h10m3 0h1m1 0h4M296 356h1m2 0h1m2 0h5m2 0h9m1 0h1m2 0h1m1 0h1m1 0h1m2 0h2M292 357h1m2 0h1m2 0h3m1 0h1m1 0h2m1 0h17m1 0h2M292 358h2m1 0h2m1 0h1m3 0h3m1 0h2m3 0h4m2 0h3m2 0h3m1 0h1m1 0h1M296 359h1m3 0h4m1 0h4m1 0h2m3 0h2m1 0h1m1 0h5m1 0h1M293 360h4m4 0h1m2 0h1m2 0h2m3 0h1m6 0h7M300 361h1m1 0h1m1 0h4m1 0h13m1 0h1M292 362h1m1 0h1m1 0h2m4 0h2m1 0h1m1 0h1m1 0h4m5 0h3m2 0h1m1 0h1M294 363h2m1 0h3m7 0h1m2 0h2m2 0h3m2 0h1m1 0h5M297 364h1m4 0h2m2 0h2m3 0h2m1 0h9m2 0h1M303 365h1m2 0h1m1 0h2m1 0h3m1 0h3m1 0h2m1 0h1m2 0h1M301 366h1m1 0h2m5 0h6m1 0h1m2 0h3m1 0h1M300 367h1m1 0h1m1 0h2m1 0h2m2 0h2m4 0h3m6 0h1M300 368h1m4 0h2m1 0h2m2 0h1m3 0h2m1 0h2m1 0h1m1 0h1m2 0h1M303 369h1m3 0h1m2 0h3m2 0h1m3 0h5m2 0h1M301 370h1m3 0h1m1 0h2m2 0h1m2 0h4m2 0h2M302 371h1m1 0h2m1 0h1m2 0h3m2 0h1m2 0h1m2 0h1m1 0h1M309 372h1m1 0h2m1 0h2m3 0h2M308 373h1m4 0h1m3 0h1m2 0h1m1 0h1M308 374h1m5 0h2M314 375h1M317 376h1M316 377h4M347 417h1m4 0h3M342 418h1m8 0h3M344 419h2m6 0h1M342 420h1m5 0h2m1 0h1m3 0h1M342 421h2m1 0h1m6 0h3M342 422h2m2 0h3m1 0h1m3 0h2M342 423h1m1 0h1m1 0h2m2 0h1M343 424h2m1 0h3m4 0h1m1 0h3M346 425h1m2 0h2m2 0h1m3 0h1M342 426h8m2 0h2m1 0h1M340 427h5m2 0h1m2 0h5m1 0h3M341 428h1m1 0h2m1 0h3m1 0h1m1 0h2m1 0h1m1 0h1m1 0h1M345 429h1m1 0h3m1 0h1m2 0h6M341 430h3m1 0h4m2 0h8m1 0h2M343 431h1m1 0h1m2 0h2m1 0h1m1 0h3m1 0h3M343 432h1m1 0h2m2 0h1m1 0h1m1 0h1m1 0h3m1 0h2M342 433h1m2 0h4m1 0h2m1 0h4M341 434h4m1 0h3m3 0h1m1 0h4m2 0h1M342 435h14m1 0h2M345 436h11m2 0h1M344 437h1m1 0h2m1 0h4m1 0h3m1 0h1M341 438h1m3 0h1m1 0h1m1 0h3m2 0h6M342 439h1m2 0h2m1 0h3m2 0h2m1 0h2m2 0h1M344 440h6m1 0h4m1 0h1m3 0h1M343 441h3m2 0h5m2 0h6M342 442h2m1 0h1m1 0h4m1 0h2m1 0h3m1 0h1M343 443h1m3 0h8m1 0h1m1 0h1m2 0h1M343 444h1m2 0h5m2 0h5m1 0h3M342 445h2m1 0h2m1 0h8m2 0h1m1 0h1M343 446h4m1 0h5m2 0h2m2 0h1m1 0h1M342 447h1m1 0h3m1 0h9m3 0h1M342 448h1m1 0h3m1 0h3m2 0h3m2 0h1m1 0h1M344 449h5m1 0h1m1 0h1m2 0h4M346 450h2m1 0h2m3 0h1m1 0h3M344 451h1m1 0h2m3 0h6m3 0h1M347 452h1m1 0h1m1 0h2m2 0h1m3 0h1M347 453h1m1 0h2m1 0h4m1 0h2M350 454h1m2 0h1M352 455h1m2 0h1m1 0h1M348 456h1m2 0h1m1 0h1m1 0h2M349 457h4m2 0h1M348 458h1m1 0h2m1 0h1m1 0h1M348 459h1m4 0h1M351 460h1m1 0h1m1 0h2M352 461h1m2 0h1M350 462h2m2 0h3" stroke="#000" stroke-width="1" fill="none" stroke-opacity="0.9"/>
</g>
<path d="M88.9 382 L100 385.8 L108 396" stroke="#555" stroke-width="0.9" fill="none"/><path d="M88.9 382 L67.3 412.1 L65 415.2 L64.6 435.3 L69.6 447.6 L76 445" stroke="#555" stroke-width="0.9" fill="none"/><path d="M79.5 368.2 l1.5 -3" stroke="#666" stroke-width="0.6"/>
<path d="M89.9 132 L104.5 141.5 L109.5 156 L106 165" stroke="#555" stroke-width="0.9" fill="none"/><path d="M89.9 132 L66 162 L63 168 L62.8 183 L69.5 194.3 L77 191.5" stroke="#555" stroke-width="0.9" fill="none"/>
<rect x="88" y="67" width="5.5" height="1.6" fill="#222"/>
<rect x="88.5" y="315" width="5" height="1.6" fill="#222"/>
<rect x="58.5" y="68.5" width="156" height="144" fill="none" stroke="#5a5a5a" stroke-width="1"/>
<rect x="58.5" y="316.5" width="159" height="146.5" fill="none" stroke="#5a5a5a" stroke-width="1"/>
<rect x="276.5" y="68.5" width="156.5" height="144" fill="none" stroke="#6a6a6a" stroke-width="1"/>
<rect x="276.5" y="316.5" width="161" height="146.5" fill="none" stroke="#6a6a6a" stroke-width="1"/>
<line x1="276.5" y1="162.3" x2="433" y2="162.3" stroke="#555" stroke-width="1"/>
<line x1="335.8" y1="68.5" x2="335.8" y2="212.5" stroke="#555" stroke-width="1"/>
<rect x="277.3" y="74.5" width="56.4" height="58" fill="none" stroke="#444" stroke-width="1"/>
<rect x="338.5" y="163.2" width="44" height="49.3" fill="none" stroke="#444" stroke-width="1"/>
<line x1="276.5" y1="412" x2="438" y2="412" stroke="#555" stroke-width="1"/>
<line x1="337.5" y1="316.5" x2="337.5" y2="463" stroke="#555" stroke-width="1"/>
<rect x="277.3" y="321.5" width="57.7" height="59.7" fill="none" stroke="#444" stroke-width="1"/>
<rect x="340.6" y="412.9" width="45" height="50.1" fill="none" stroke="#444" stroke-width="1"/>
<text class="m" x="33.32" y="79.34" font-size="9.60" fill="#1a1a1a" textLength="16.44" lengthAdjust="spacingAndGlyphs">250</text>
<text class="m" x="33.32" y="106.92" font-size="9.60" fill="#1a1a1a" textLength="16.44" lengthAdjust="spacingAndGlyphs">200</text>
<text class="m" x="32.72" y="134.00" font-size="9.60" fill="#1a1a1a" textLength="17.04" lengthAdjust="spacingAndGlyphs">150</text>
<text class="m" x="32.72" y="160.66" font-size="9.60" fill="#1a1a1a" textLength="17.04" lengthAdjust="spacingAndGlyphs">100</text>
<text class="m" x="38.32" y="188.00" font-size="9.60" fill="#1a1a1a" textLength="11.44" lengthAdjust="spacingAndGlyphs">50</text>
<text class="m" x="33.82" y="327.00" font-size="9.60" fill="#1a1a1a" textLength="16.10" lengthAdjust="spacingAndGlyphs">250</text>
<text class="m" x="33.82" y="355.08" font-size="9.60" fill="#1a1a1a" textLength="16.10" lengthAdjust="spacingAndGlyphs">200</text>
<text class="m" x="33.82" y="383.08" font-size="9.60" fill="#1a1a1a" textLength="16.10" lengthAdjust="spacingAndGlyphs">150</text>
<text class="m" x="33.82" y="411.34" font-size="9.60" fill="#1a1a1a" textLength="16.10" lengthAdjust="spacingAndGlyphs">100</text>
<text class="m" x="38.56" y="439.42" font-size="9.60" fill="#1a1a1a" textLength="11.36" lengthAdjust="spacingAndGlyphs">50</text>
<text class="m" x="82.32" y="231.58" font-size="9.60" fill="#1a1a1a" textLength="11.36" lengthAdjust="spacingAndGlyphs">50</text>
<text class="m" x="109.64" y="231.58" font-size="9.60" fill="#1a1a1a" textLength="16.28" lengthAdjust="spacingAndGlyphs">100</text>
<text class="m" x="139.56" y="231.58" font-size="9.60" fill="#1a1a1a" textLength="16.28" lengthAdjust="spacingAndGlyphs">150</text>
<text class="m" x="170.16" y="231.58" font-size="9.60" fill="#1a1a1a" textLength="15.68" lengthAdjust="spacingAndGlyphs">200</text>
<text class="m" x="199.66" y="231.58" font-size="9.60" fill="#1a1a1a" textLength="15.68" lengthAdjust="spacingAndGlyphs">250</text>
<text class="m" x="82.81" y="482.66" font-size="9.60" fill="#1a1a1a" textLength="11.36" lengthAdjust="spacingAndGlyphs">50</text>
<text class="m" x="111.14" y="482.66" font-size="9.60" fill="#1a1a1a" textLength="16.28" lengthAdjust="spacingAndGlyphs">100</text>
<text class="m" x="141.98" y="482.66" font-size="9.60" fill="#1a1a1a" textLength="16.28" lengthAdjust="spacingAndGlyphs">150</text>
<text class="m" x="173.08" y="482.66" font-size="9.60" fill="#1a1a1a" textLength="15.68" lengthAdjust="spacingAndGlyphs">200</text>
<text class="m" x="203.24" y="482.66" font-size="9.60" fill="#1a1a1a" textLength="15.68" lengthAdjust="spacingAndGlyphs">250</text>
<text class="b" x="117.98" y="250.84" font-size="13.20" fill="#1a1a1a" textLength="33.68" lengthAdjust="spacingAndGlyphs">SSC-A</text>
<text class="b" x="113.32" y="501.58" font-size="13.20" fill="#1a1a1a" textLength="34.10" lengthAdjust="spacingAndGlyphs">SSC-A</text>
<text class="m" x="181.00" y="248.36" font-size="7.40" fill="#1a1a1a" textLength="36.10" lengthAdjust="spacingAndGlyphs">(x 1,000)</text>
<text class="m" x="183.82" y="499.86" font-size="7.40" fill="#1a1a1a" textLength="36.86" lengthAdjust="spacingAndGlyphs">(x 1,000)</text>
<text class="b" transform="translate(24.34 159.02) rotate(-90)" font-size="13.50" fill="#1a1a1a" textLength="33.02" lengthAdjust="spacingAndGlyphs">FSC-A</text>
<text class="b" transform="translate(24.34 407.94) rotate(-90)" font-size="13.50" fill="#1a1a1a" textLength="32.86" lengthAdjust="spacingAndGlyphs">FSC-A</text>
<text class="m" transform="translate(19.20 102.34) rotate(-90)" font-size="7.40" fill="#1a1a1a" textLength="36.18" lengthAdjust="spacingAndGlyphs">(x 1,000)</text>
<text class="m" transform="translate(19.20 350.18) rotate(-90)" font-size="7.40" fill="#1a1a1a" textLength="35.94" lengthAdjust="spacingAndGlyphs">(x 1,000)</text>
<text class="b" transform="translate(243.50 169.26) rotate(-90)" font-size="13.50" fill="#1a1a1a" textLength="53.94" lengthAdjust="spacingAndGlyphs">CD8 PE-A</text>
<text class="b" transform="translate(243.50 419.26) rotate(-90)" font-size="13.50" fill="#1a1a1a" textLength="53.76" lengthAdjust="spacingAndGlyphs">CD8 PE-A</text>
<text class="b" x="320.90" y="251.08" font-size="13.20" fill="#1a1a1a" textLength="64.10" lengthAdjust="spacingAndGlyphs">CD4 FITC-A</text>
<text class="b" x="322.90" y="501.66" font-size="13.20" fill="#1a1a1a" textLength="64.10" lengthAdjust="spacingAndGlyphs">CD4 FITC-A</text>
<text class="m" x="332.32" y="34.78" font-size="9.60" fill="#1a1a1a" textLength="48.44" lengthAdjust="spacingAndGlyphs">Y640F (6%)</text>
<text class="m" x="332.32" y="46.86" font-size="9.60" fill="#1a1a1a" textLength="62.36" lengthAdjust="spacingAndGlyphs">D661Y (13.7%)</text>
<text class="m" x="335.24" y="302.62" font-size="9.60" fill="#1a1a1a" textLength="60.44" lengthAdjust="spacingAndGlyphs">Y640F (15.8%)</text>
<text class="m" x="446.56" y="185.66" font-size="10.30" fill="#1a1a1a" textLength="54.46" lengthAdjust="spacingAndGlyphs">no mutation</text>
<text class="m" x="447.16" y="198.50" font-size="10.30" fill="#1a1a1a" textLength="38.18" lengthAdjust="spacingAndGlyphs">detected</text>
<text class="m" x="447.98" y="437.58" font-size="10.30" fill="#1a1a1a" textLength="54.20" lengthAdjust="spacingAndGlyphs">no mutation</text>
<text class="m" x="447.98" y="450.42" font-size="10.30" fill="#1a1a1a" textLength="39.70" lengthAdjust="spacingAndGlyphs">detected</text>
<text class="m" x="253.74" y="195.58" font-size="9.60" fill="#1a1a1a" textLength="9.60" lengthAdjust="spacingAndGlyphs">10</text>
<text x="263.25" y="191.10" font-size="6" fill="#1a1a1a">2</text>
<text class="m" x="253.82" y="444.49" font-size="9.60" fill="#1a1a1a" textLength="10.20" lengthAdjust="spacingAndGlyphs">10</text>
<text x="263.45" y="440.15" font-size="6" fill="#1a1a1a">2</text>
<text class="m" x="292.14" y="231.75" font-size="9.60" fill="#1a1a1a" textLength="11.56" lengthAdjust="spacingAndGlyphs">10</text>
<text x="302.85" y="226.75" font-size="6" fill="#1a1a1a">2</text>
<text class="m" x="292.90" y="482.84" font-size="9.60" fill="#1a1a1a" textLength="10.44" lengthAdjust="spacingAndGlyphs">10</text>
<text x="303.35" y="477.60" font-size="6" fill="#1a1a1a">2</text>
<text class="m" x="253.74" y="159.66" font-size="9.60" fill="#1a1a1a" textLength="9.60" lengthAdjust="spacingAndGlyphs">10</text>
<text x="263.25" y="155.30" font-size="6" fill="#1a1a1a">3</text>
<text class="m" x="253.82" y="408.34" font-size="9.60" fill="#1a1a1a" textLength="10.20" lengthAdjust="spacingAndGlyphs">10</text>
<text x="263.45" y="403.40" font-size="6" fill="#1a1a1a">3</text>
<text class="m" x="331.64" y="231.75" font-size="9.60" fill="#1a1a1a" textLength="10.36" lengthAdjust="spacingAndGlyphs">10</text>
<text x="342.35" y="226.75" font-size="6" fill="#1a1a1a">3</text>
<text class="m" x="333.74" y="482.84" font-size="9.60" fill="#1a1a1a" textLength="9.84" lengthAdjust="spacingAndGlyphs">10</text>
<text x="343.95" y="477.60" font-size="6" fill="#1a1a1a">3</text>
<text class="m" x="253.74" y="124.34" font-size="9.60" fill="#1a1a1a" textLength="9.60" lengthAdjust="spacingAndGlyphs">10</text>
<text x="263.25" y="119.50" font-size="6" fill="#1a1a1a">4</text>
<text class="m" x="253.82" y="371.59" font-size="9.60" fill="#1a1a1a" textLength="10.20" lengthAdjust="spacingAndGlyphs">10</text>
<text x="263.45" y="366.65" font-size="6" fill="#1a1a1a">4</text>
<text class="m" x="371.14" y="231.75" font-size="9.60" fill="#1a1a1a" textLength="11.56" lengthAdjust="spacingAndGlyphs">10</text>
<text x="381.85" y="226.75" font-size="6" fill="#1a1a1a">4</text>
<text class="m" x="373.98" y="482.84" font-size="9.60" fill="#1a1a1a" textLength="11.04" lengthAdjust="spacingAndGlyphs">10</text>
<text x="384.55" y="477.60" font-size="6" fill="#1a1a1a">4</text>
<text class="m" x="253.74" y="88.42" font-size="9.60" fill="#1a1a1a" textLength="9.60" lengthAdjust="spacingAndGlyphs">10</text>
<text x="263.25" y="83.70" font-size="6" fill="#1a1a1a">5</text>
<text class="m" x="253.82" y="334.84" font-size="9.60" fill="#1a1a1a" textLength="10.20" lengthAdjust="spacingAndGlyphs">10</text>
<text x="263.45" y="329.90" font-size="6" fill="#1a1a1a">5</text>
<text class="m" x="410.64" y="231.75" font-size="9.60" fill="#1a1a1a" textLength="10.36" lengthAdjust="spacingAndGlyphs">10</text>
<text x="421.35" y="226.75" font-size="6" fill="#1a1a1a">5</text>
<text class="m" x="414.22" y="482.84" font-size="9.60" fill="#1a1a1a" textLength="11.04" lengthAdjust="spacingAndGlyphs">10</text>
<text x="425.15" y="477.60" font-size="6" fill="#1a1a1a">5</text>
<text class="m" x="67.98" y="121.16" font-size="8.20" fill="#333" textLength="8.44" lengthAdjust="spacingAndGlyphs">P1</text>
<text class="m" x="69.00" y="368.16" font-size="8.20" fill="#333" textLength="8.68" lengthAdjust="spacingAndGlyphs">P1</text>
<text class="m" x="343.66" y="103.50" font-size="8.20" fill="#333" textLength="8.34" lengthAdjust="spacingAndGlyphs">P4</text>
<text class="m" x="387.32" y="178.92" font-size="8.20" fill="#333" textLength="9.18" lengthAdjust="spacingAndGlyphs">P5</text>
<text class="m" x="345.56" y="352.92" font-size="8.20" fill="#333" textLength="10.46" lengthAdjust="spacingAndGlyphs">P4</text>
<text class="m" x="388.56" y="427.66" font-size="8.20" fill="#333" textLength="9.86" lengthAdjust="spacingAndGlyphs">P5</text>
<text class="m" x="315.16" y="149.44" font-size="8.20" fill="#333" textLength="8.94" lengthAdjust="spacingAndGlyphs">Q1</text>
<text class="m" x="346.74" y="149.62" font-size="8.20" fill="#333" textLength="8.84" lengthAdjust="spacingAndGlyphs">Q2</text>
<text class="m" x="315.16" y="180.78" font-size="8.20" fill="#333" textLength="8.84" lengthAdjust="spacingAndGlyphs">Q3</text>
<text class="m" x="316.00" y="399.00" font-size="8.20" fill="#333" textLength="9.68" lengthAdjust="spacingAndGlyphs">Q1</text>
<text class="m" x="349.16" y="399.00" font-size="8.20" fill="#333" textLength="9.68" lengthAdjust="spacingAndGlyphs">Q2</text>
<text class="m" x="316.00" y="431.42" font-size="8.20" fill="#333" textLength="9.68" lengthAdjust="spacingAndGlyphs">Q3</text>
<line x1="317.5" y1="71" x2="326.67" y2="58.88" stroke="#1f3b73" stroke-width="2.2"/>
<path d="M331.50 52.50 L329.01 63.41 L327.26 58.10 L321.68 57.86Z" fill="#1f3b73"/>
<line x1="385.5" y1="189.6" x2="431.00" y2="189.60" stroke="#1f3b73" stroke-width="2.2"/>
<path d="M440.00 189.60 L428.80 194.60 L432.20 189.60 L428.80 184.60Z" fill="#1f3b73"/>
<line x1="319.5" y1="320.8" x2="328.72" y2="308.42" stroke="#1f3b73" stroke-width="2.2"/>
<path d="M333.50 302.00 L331.10 312.93 L329.31 307.63 L323.72 307.43Z" fill="#1f3b73"/>
<line x1="390.5" y1="441.2" x2="434.00" y2="441.20" stroke="#1f3b73" stroke-width="2.2"/>
<path d="M443.00 441.20 L431.80 446.20 L435.20 441.20 L431.80 436.20Z" fill="#1f3b73"/>
</svg></body></html>
